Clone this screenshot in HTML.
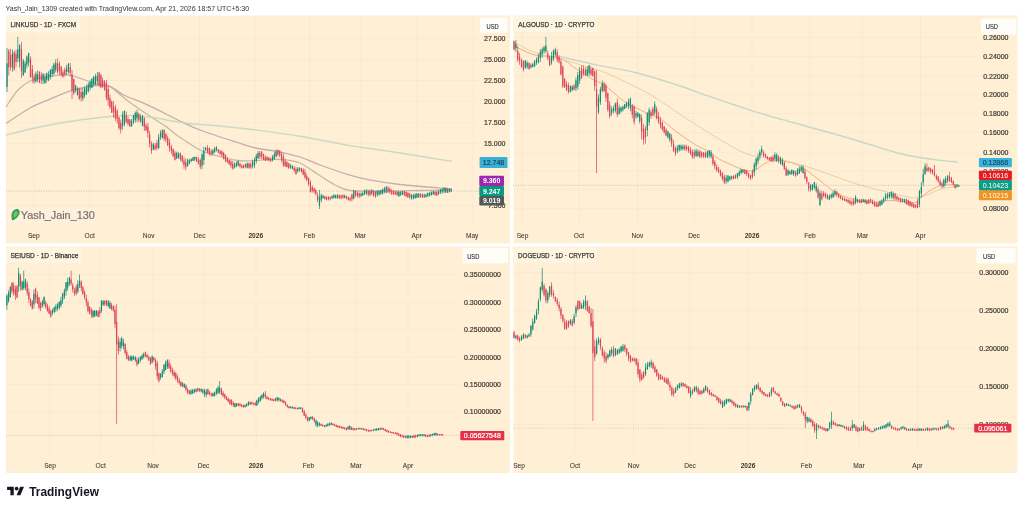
<!DOCTYPE html>
<html><head><meta charset="utf-8"><style>
html,body{margin:0;padding:0;background:#ffffff;}
body{width:1024px;height:509px;overflow:hidden;position:relative;}
svg{position:absolute;left:0;top:0;font-family:"Liberation Sans", sans-serif;filter:blur(0.3px);}
</style></head><body>
<svg width="1024" height="509" viewBox="0 0 1024 509">
<rect x="6.0" y="15.5" width="504.0" height="227.8" fill="#feefd5"/>
<rect x="513.5" y="15.5" width="504.0" height="227.8" fill="#feefd5"/>
<rect x="6.0" y="246.5" width="504.0" height="226.5" fill="#feefd5"/>
<rect x="513.5" y="246.5" width="504.0" height="226.5" fill="#feefd5"/>
<rect x="33.35" y="15.5" width="0.8" height="208.3" fill="#f8e8cf"/>
<rect x="89.35" y="15.5" width="0.8" height="208.3" fill="#f8e8cf"/>
<rect x="148.20" y="15.5" width="0.8" height="208.3" fill="#f8e8cf"/>
<rect x="199.20" y="15.5" width="0.8" height="208.3" fill="#f8e8cf"/>
<rect x="255.35" y="15.5" width="0.8" height="208.3" fill="#f8e8cf"/>
<rect x="309.00" y="15.5" width="0.8" height="208.3" fill="#f8e8cf"/>
<rect x="359.80" y="15.5" width="0.8" height="208.3" fill="#f8e8cf"/>
<rect x="416.30" y="15.5" width="0.8" height="208.3" fill="#f8e8cf"/>
<rect x="471.80" y="15.5" width="0.8" height="208.3" fill="#f8e8cf"/>
<rect x="6.0" y="38.40" width="473.0" height="0.8" fill="#f8e8cf"/>
<rect x="6.0" y="59.50" width="473.0" height="0.8" fill="#f8e8cf"/>
<rect x="6.0" y="80.10" width="473.0" height="0.8" fill="#f8e8cf"/>
<rect x="6.0" y="100.80" width="473.0" height="0.8" fill="#f8e8cf"/>
<rect x="6.0" y="121.80" width="473.0" height="0.8" fill="#f8e8cf"/>
<rect x="6.0" y="142.90" width="473.0" height="0.8" fill="#f8e8cf"/>
<rect x="6.0" y="205.50" width="473.0" height="0.8" fill="#f8e8cf"/>
<rect x="522.20" y="15.5" width="0.8" height="208.3" fill="#f8e8cf"/>
<rect x="578.60" y="15.5" width="0.8" height="208.3" fill="#f8e8cf"/>
<rect x="637.00" y="15.5" width="0.8" height="208.3" fill="#f8e8cf"/>
<rect x="693.60" y="15.5" width="0.8" height="208.3" fill="#f8e8cf"/>
<rect x="751.60" y="15.5" width="0.8" height="208.3" fill="#f8e8cf"/>
<rect x="809.60" y="15.5" width="0.8" height="208.3" fill="#f8e8cf"/>
<rect x="862.00" y="15.5" width="0.8" height="208.3" fill="#f8e8cf"/>
<rect x="920.10" y="15.5" width="0.8" height="208.3" fill="#f8e8cf"/>
<rect x="513.5" y="37.10" width="463.5" height="0.8" fill="#f8e8cf"/>
<rect x="513.5" y="55.90" width="463.5" height="0.8" fill="#f8e8cf"/>
<rect x="513.5" y="75.60" width="463.5" height="0.8" fill="#f8e8cf"/>
<rect x="513.5" y="94.50" width="463.5" height="0.8" fill="#f8e8cf"/>
<rect x="513.5" y="113.20" width="463.5" height="0.8" fill="#f8e8cf"/>
<rect x="513.5" y="132.20" width="463.5" height="0.8" fill="#f8e8cf"/>
<rect x="513.5" y="151.70" width="463.5" height="0.8" fill="#f8e8cf"/>
<rect x="513.5" y="170.60" width="463.5" height="0.8" fill="#f8e8cf"/>
<rect x="513.5" y="189.60" width="463.5" height="0.8" fill="#f8e8cf"/>
<rect x="513.5" y="208.30" width="463.5" height="0.8" fill="#f8e8cf"/>
<rect x="49.60" y="246.5" width="0.8" height="207.0" fill="#f8e8cf"/>
<rect x="100.20" y="246.5" width="0.8" height="207.0" fill="#f8e8cf"/>
<rect x="152.60" y="246.5" width="0.8" height="207.0" fill="#f8e8cf"/>
<rect x="203.10" y="246.5" width="0.8" height="207.0" fill="#f8e8cf"/>
<rect x="255.60" y="246.5" width="0.8" height="207.0" fill="#f8e8cf"/>
<rect x="308.10" y="246.5" width="0.8" height="207.0" fill="#f8e8cf"/>
<rect x="355.60" y="246.5" width="0.8" height="207.0" fill="#f8e8cf"/>
<rect x="407.60" y="246.5" width="0.8" height="207.0" fill="#f8e8cf"/>
<rect x="6.0" y="273.90" width="455.0" height="0.8" fill="#f8e8cf"/>
<rect x="6.0" y="301.90" width="455.0" height="0.8" fill="#f8e8cf"/>
<rect x="6.0" y="329.30" width="455.0" height="0.8" fill="#f8e8cf"/>
<rect x="6.0" y="356.60" width="455.0" height="0.8" fill="#f8e8cf"/>
<rect x="6.0" y="384.00" width="455.0" height="0.8" fill="#f8e8cf"/>
<rect x="6.0" y="411.50" width="455.0" height="0.8" fill="#f8e8cf"/>
<rect x="518.60" y="246.5" width="0.8" height="207.0" fill="#f8e8cf"/>
<rect x="574.60" y="246.5" width="0.8" height="207.0" fill="#f8e8cf"/>
<rect x="633.10" y="246.5" width="0.8" height="207.0" fill="#f8e8cf"/>
<rect x="689.60" y="246.5" width="0.8" height="207.0" fill="#f8e8cf"/>
<rect x="747.60" y="246.5" width="0.8" height="207.0" fill="#f8e8cf"/>
<rect x="806.10" y="246.5" width="0.8" height="207.0" fill="#f8e8cf"/>
<rect x="858.60" y="246.5" width="0.8" height="207.0" fill="#f8e8cf"/>
<rect x="917.00" y="246.5" width="0.8" height="207.0" fill="#f8e8cf"/>
<rect x="513.5" y="272.30" width="462.5" height="0.8" fill="#f8e8cf"/>
<rect x="513.5" y="310.50" width="462.5" height="0.8" fill="#f8e8cf"/>
<rect x="513.5" y="348.10" width="462.5" height="0.8" fill="#f8e8cf"/>
<rect x="513.5" y="386.40" width="462.5" height="0.8" fill="#f8e8cf"/>
<rect x="513.5" y="424.20" width="462.5" height="0.8" fill="#f8e8cf"/>
<path d="M6.00 107.00 C8.00 104.17 13.83 94.42 18.00 90.00 C22.17 85.58 26.50 82.67 31.00 80.50 C35.50 78.33 40.17 77.92 45.00 77.00 C49.83 76.08 55.50 75.23 60.00 75.00 C64.50 74.77 67.83 74.77 72.00 75.60 C76.17 76.43 80.33 78.43 85.00 80.00 C89.67 81.57 95.93 83.92 100.00 85.00 C104.07 86.08 106.45 85.22 109.40 86.50 C112.35 87.78 114.37 90.10 117.70 92.70 C121.03 95.30 124.35 98.38 129.40 102.10 C134.45 105.82 142.10 111.08 148.00 115.00 C153.90 118.92 160.03 122.27 164.80 125.60 C169.57 128.93 170.40 130.77 176.60 135.00 C182.80 139.23 194.77 147.42 202.00 151.00 C209.23 154.58 214.08 154.92 220.00 156.50 C225.92 158.08 231.50 159.83 237.50 160.50 C243.50 161.17 250.58 160.70 256.00 160.50 C261.42 160.30 265.17 159.42 270.00 159.30 C274.83 159.18 280.00 159.18 285.00 159.80 C290.00 160.42 294.40 160.50 300.00 163.00 C305.60 165.50 312.77 171.13 318.60 174.80 C324.43 178.47 329.77 182.38 335.00 185.00 C340.23 187.62 342.50 189.50 350.00 190.50 C357.50 191.50 368.33 191.00 380.00 191.00 C391.67 191.00 408.00 190.67 420.00 190.50 C432.00 190.33 446.67 190.08 452.00 190.00" fill="none" stroke="#b0a294" stroke-width="1.30" opacity="0.70"/>
<path d="M6.00 123.50 C10.00 120.92 22.67 112.05 30.00 108.00 C37.33 103.95 43.00 102.13 50.00 99.20 C57.00 96.27 64.50 92.68 72.00 90.40 C79.50 88.12 88.77 86.23 95.00 85.50 C101.23 84.77 104.63 84.42 109.40 86.00 C114.17 87.58 118.30 92.32 123.60 95.00 C128.90 97.68 135.32 99.55 141.20 102.10 C147.08 104.65 152.43 107.15 158.90 110.30 C165.37 113.45 172.82 117.59 180.00 121.00 C187.18 124.41 192.42 127.17 202.00 130.75 C211.58 134.33 228.50 139.62 237.50 142.50 C246.50 145.38 249.08 146.45 256.00 148.00 C262.92 149.55 271.67 150.30 279.00 151.80 C286.33 153.30 293.17 154.80 300.00 157.00 C306.83 159.20 311.67 161.97 320.00 165.00 C328.33 168.03 342.00 172.75 350.00 175.20 C358.00 177.65 359.67 178.15 368.00 179.70 C376.33 181.25 386.00 182.95 400.00 184.50 C414.00 186.05 443.33 188.25 452.00 189.00" fill="none" stroke="#b08fa2" stroke-width="1.30" opacity="0.70"/>
<path d="M6.00 135.00 C10.00 134.00 21.83 130.83 30.00 129.00 C38.17 127.17 46.67 125.50 55.00 124.00 C63.33 122.50 70.83 121.25 80.00 120.00 C89.17 118.75 101.67 117.25 110.00 116.50 C118.33 115.75 123.17 115.37 130.00 115.50 C136.83 115.63 141.83 116.05 151.00 117.30 C160.17 118.55 173.50 121.55 185.00 123.00 C196.50 124.45 209.50 125.00 220.00 126.00 C230.50 127.00 234.67 127.30 248.00 129.00 C261.33 130.70 283.00 133.43 300.00 136.20 C317.00 138.97 338.67 143.58 350.00 145.60 C361.33 147.62 359.67 147.07 368.00 148.30 C376.33 149.53 386.00 150.82 400.00 153.00 C414.00 155.18 443.33 160.00 452.00 161.40" fill="none" stroke="#c2d6c2" stroke-width="1.40" opacity="0.85"/>
<path d="M514.00 46.00 C517.50 47.50 527.53 53.08 535.00 55.00 C542.47 56.92 552.13 55.33 558.80 57.50 C565.47 59.67 569.80 64.58 575.00 68.00 C580.20 71.42 584.92 75.03 590.00 78.00 C595.08 80.97 599.93 81.98 605.50 85.80 C611.07 89.62 617.43 96.78 623.40 100.90 C629.37 105.02 634.88 107.32 641.30 110.50 C647.72 113.68 656.28 116.63 661.90 120.00 C667.52 123.37 669.48 126.62 675.00 130.70 C680.52 134.78 689.08 140.90 695.00 144.50 C700.92 148.10 706.40 149.83 710.50 152.30 C714.60 154.77 713.18 156.18 719.60 159.30 C726.02 162.42 741.47 170.30 749.00 171.00 C756.53 171.70 760.52 165.33 764.80 163.50 C769.08 161.67 769.17 159.75 774.70 160.00 C780.23 160.25 790.78 161.83 798.00 165.00 C805.22 168.17 811.07 174.05 818.00 179.00 C824.93 183.95 831.10 190.78 839.60 194.70 C848.10 198.62 860.80 201.53 869.00 202.50 C877.20 203.47 881.25 200.50 888.80 200.50 C896.35 200.50 909.10 202.92 914.30 202.50 C919.50 202.08 917.22 200.08 920.00 198.00 C922.78 195.92 927.33 192.08 931.00 190.00 C934.67 187.92 937.50 186.42 942.00 185.50 C946.50 184.58 955.33 184.67 958.00 184.50" fill="none" stroke="#e9a46e" stroke-width="1.00" opacity="0.85"/>
<path d="M515.00 42.40 C517.50 43.77 525.00 48.43 530.00 50.60 C535.00 52.77 540.00 54.02 545.00 55.40 C550.00 56.78 555.00 57.63 560.00 58.90 C565.00 60.17 570.00 61.40 575.00 63.00 C580.00 64.60 585.83 67.23 590.00 68.50 C594.17 69.77 594.90 68.75 600.00 70.60 C605.10 72.45 612.93 75.98 620.60 79.60 C628.27 83.22 638.60 88.23 646.00 92.30 C653.40 96.37 658.92 100.05 665.00 104.00 C671.08 107.95 673.60 110.23 682.50 116.00 C691.40 121.77 707.48 132.22 718.40 138.60 C729.32 144.98 737.97 150.85 748.00 154.30 C758.03 157.75 769.60 157.48 778.60 159.30 C787.60 161.12 794.15 162.92 802.00 165.20 C809.85 167.48 816.15 169.73 825.70 173.00 C835.25 176.27 847.15 181.18 859.30 184.80 C871.45 188.42 888.82 192.57 898.60 194.70 C908.38 196.83 910.77 198.60 918.00 197.60 C925.23 196.60 935.33 190.47 942.00 188.70 C948.67 186.93 955.33 187.28 958.00 187.00" fill="none" stroke="#ebc9a0" stroke-width="1.00" opacity="0.90"/>
<path d="M560.00 56.60 C566.50 58.07 586.00 62.63 599.00 65.40 C612.00 68.17 625.00 69.93 638.00 73.20 C651.00 76.47 664.00 80.77 677.00 85.00 C690.00 89.23 702.17 93.90 716.00 98.60 C729.83 103.30 746.00 108.88 760.00 113.20 C774.00 117.52 785.00 120.28 800.00 124.50 C815.00 128.72 834.00 133.83 850.00 138.50 C866.00 143.17 884.33 149.33 896.00 152.50 C907.67 155.67 912.67 156.18 920.00 157.50 C927.33 158.82 933.67 159.65 940.00 160.40 C946.33 161.15 955.00 161.73 958.00 162.00" fill="none" stroke="#c0d6c6" stroke-width="1.40" opacity="0.90"/>
<rect x="6.65" y="48.00" width="0.70" height="44.00" fill="#138a72"/>
<rect x="6.40" y="63.39" width="1.20" height="23.52" fill="#138a72"/>
<rect x="8.46" y="49.13" width="0.70" height="26.42" fill="#dc4255"/>
<rect x="8.21" y="50.71" width="1.20" height="16.59" fill="#dc4255"/>
<rect x="10.26" y="48.89" width="0.70" height="21.75" fill="#dc4255"/>
<rect x="10.01" y="54.81" width="1.20" height="12.22" fill="#dc4255"/>
<rect x="12.07" y="49.35" width="0.70" height="22.32" fill="#138a72"/>
<rect x="11.82" y="53.66" width="1.20" height="13.95" fill="#138a72"/>
<rect x="13.87" y="51.03" width="0.70" height="19.75" fill="#dc4255"/>
<rect x="13.62" y="52.38" width="1.20" height="16.79" fill="#dc4255"/>
<rect x="15.68" y="49.82" width="0.70" height="17.35" fill="#dc4255"/>
<rect x="15.43" y="53.81" width="1.20" height="8.23" fill="#dc4255"/>
<rect x="17.49" y="36.80" width="0.70" height="25.42" fill="#138a72"/>
<rect x="17.24" y="49.26" width="1.20" height="9.18" fill="#138a72"/>
<rect x="19.29" y="44.19" width="0.70" height="23.34" fill="#138a72"/>
<rect x="19.04" y="45.15" width="1.20" height="16.54" fill="#138a72"/>
<rect x="21.10" y="42.00" width="0.70" height="36.00" fill="#dc4255"/>
<rect x="20.85" y="48.91" width="1.20" height="22.31" fill="#dc4255"/>
<rect x="22.90" y="58.95" width="0.70" height="17.05" fill="#138a72"/>
<rect x="22.65" y="60.71" width="1.20" height="14.39" fill="#138a72"/>
<rect x="24.71" y="60.82" width="0.70" height="12.35" fill="#138a72"/>
<rect x="24.46" y="63.45" width="1.20" height="8.90" fill="#138a72"/>
<rect x="26.52" y="55.40" width="0.70" height="12.96" fill="#138a72"/>
<rect x="26.27" y="56.61" width="1.20" height="8.11" fill="#138a72"/>
<rect x="28.32" y="52.49" width="0.70" height="13.84" fill="#138a72"/>
<rect x="28.07" y="53.13" width="1.20" height="9.45" fill="#138a72"/>
<rect x="30.13" y="56.43" width="0.70" height="21.39" fill="#dc4255"/>
<rect x="29.88" y="58.80" width="1.20" height="18.15" fill="#dc4255"/>
<rect x="31.93" y="64.85" width="0.70" height="18.01" fill="#dc4255"/>
<rect x="31.68" y="69.23" width="1.20" height="8.41" fill="#dc4255"/>
<rect x="33.74" y="73.88" width="0.70" height="10.06" fill="#dc4255"/>
<rect x="33.49" y="76.64" width="1.20" height="4.79" fill="#dc4255"/>
<rect x="35.55" y="71.47" width="0.70" height="11.26" fill="#138a72"/>
<rect x="35.30" y="73.83" width="1.20" height="7.50" fill="#138a72"/>
<rect x="37.35" y="70.35" width="0.70" height="12.00" fill="#138a72"/>
<rect x="37.10" y="74.38" width="1.20" height="5.12" fill="#138a72"/>
<rect x="39.16" y="71.25" width="0.70" height="12.00" fill="#dc4255"/>
<rect x="38.91" y="71.90" width="1.20" height="10.65" fill="#dc4255"/>
<rect x="40.96" y="72.16" width="0.70" height="11.84" fill="#dc4255"/>
<rect x="40.71" y="74.95" width="1.20" height="5.19" fill="#dc4255"/>
<rect x="42.77" y="73.06" width="0.70" height="10.94" fill="#138a72"/>
<rect x="42.52" y="74.02" width="1.20" height="6.61" fill="#138a72"/>
<rect x="44.58" y="73.96" width="0.70" height="10.04" fill="#138a72"/>
<rect x="44.33" y="77.13" width="1.20" height="5.84" fill="#138a72"/>
<rect x="46.38" y="72.61" width="0.70" height="10.00" fill="#138a72"/>
<rect x="46.13" y="73.20" width="1.20" height="6.62" fill="#138a72"/>
<rect x="48.19" y="71.17" width="0.70" height="10.00" fill="#138a72"/>
<rect x="47.94" y="73.83" width="1.20" height="6.48" fill="#138a72"/>
<rect x="49.99" y="69.31" width="0.70" height="10.23" fill="#138a72"/>
<rect x="49.74" y="69.79" width="1.20" height="7.31" fill="#138a72"/>
<rect x="51.80" y="65.70" width="0.70" height="11.43" fill="#138a72"/>
<rect x="51.55" y="68.93" width="1.20" height="5.20" fill="#138a72"/>
<rect x="53.61" y="62.41" width="0.70" height="12.32" fill="#138a72"/>
<rect x="53.36" y="64.56" width="1.20" height="9.21" fill="#138a72"/>
<rect x="55.41" y="59.40" width="0.70" height="12.92" fill="#138a72"/>
<rect x="55.16" y="63.19" width="1.20" height="6.65" fill="#138a72"/>
<rect x="57.22" y="58.22" width="0.70" height="15.35" fill="#dc4255"/>
<rect x="56.97" y="63.26" width="1.20" height="8.97" fill="#dc4255"/>
<rect x="59.02" y="61.30" width="0.70" height="13.80" fill="#dc4255"/>
<rect x="58.77" y="63.57" width="1.20" height="7.34" fill="#dc4255"/>
<rect x="60.83" y="65.63" width="0.70" height="10.91" fill="#dc4255"/>
<rect x="60.58" y="66.85" width="1.20" height="7.73" fill="#dc4255"/>
<rect x="62.64" y="69.97" width="0.70" height="8.02" fill="#dc4255"/>
<rect x="62.39" y="72.46" width="1.20" height="3.95" fill="#dc4255"/>
<rect x="64.44" y="67.49" width="0.70" height="9.08" fill="#dc4255"/>
<rect x="64.19" y="69.65" width="1.20" height="4.92" fill="#dc4255"/>
<rect x="66.25" y="64.96" width="0.70" height="10.16" fill="#138a72"/>
<rect x="66.00" y="68.19" width="1.20" height="3.80" fill="#138a72"/>
<rect x="68.05" y="62.80" width="0.70" height="11.20" fill="#138a72"/>
<rect x="67.80" y="63.79" width="1.20" height="8.09" fill="#138a72"/>
<rect x="69.86" y="63.05" width="0.70" height="13.44" fill="#dc4255"/>
<rect x="69.61" y="67.25" width="1.20" height="5.48" fill="#dc4255"/>
<rect x="71.67" y="70.00" width="0.70" height="29.00" fill="#dc4255"/>
<rect x="71.42" y="74.52" width="1.20" height="16.21" fill="#dc4255"/>
<rect x="73.47" y="78.38" width="0.70" height="16.73" fill="#dc4255"/>
<rect x="73.22" y="79.14" width="1.20" height="14.15" fill="#dc4255"/>
<rect x="75.28" y="84.70" width="0.70" height="7.83" fill="#138a72"/>
<rect x="75.03" y="85.61" width="1.20" height="4.71" fill="#138a72"/>
<rect x="77.08" y="86.72" width="0.70" height="8.72" fill="#138a72"/>
<rect x="76.83" y="88.35" width="1.20" height="6.66" fill="#138a72"/>
<rect x="78.89" y="87.62" width="0.70" height="12.16" fill="#dc4255"/>
<rect x="78.64" y="88.92" width="1.20" height="9.96" fill="#dc4255"/>
<rect x="80.70" y="88.00" width="0.70" height="13.39" fill="#dc4255"/>
<rect x="80.45" y="92.09" width="1.20" height="5.49" fill="#dc4255"/>
<rect x="82.50" y="88.00" width="0.70" height="13.03" fill="#138a72"/>
<rect x="82.25" y="91.89" width="1.20" height="6.63" fill="#138a72"/>
<rect x="84.31" y="86.34" width="0.70" height="11.76" fill="#138a72"/>
<rect x="84.06" y="88.41" width="1.20" height="7.05" fill="#138a72"/>
<rect x="86.11" y="84.54" width="0.70" height="10.40" fill="#138a72"/>
<rect x="85.86" y="87.71" width="1.20" height="6.27" fill="#138a72"/>
<rect x="87.92" y="82.48" width="0.70" height="10.00" fill="#138a72"/>
<rect x="87.67" y="84.45" width="1.20" height="7.07" fill="#138a72"/>
<rect x="89.73" y="80.31" width="0.70" height="10.00" fill="#138a72"/>
<rect x="89.48" y="82.19" width="1.20" height="5.46" fill="#138a72"/>
<rect x="91.53" y="78.14" width="0.70" height="10.00" fill="#138a72"/>
<rect x="91.28" y="78.74" width="1.20" height="8.93" fill="#138a72"/>
<rect x="93.34" y="75.97" width="0.70" height="10.68" fill="#138a72"/>
<rect x="93.09" y="76.77" width="1.20" height="7.84" fill="#138a72"/>
<rect x="95.14" y="73.81" width="0.70" height="11.40" fill="#138a72"/>
<rect x="94.89" y="76.14" width="1.20" height="8.24" fill="#138a72"/>
<rect x="96.95" y="72.00" width="0.70" height="12.40" fill="#138a72"/>
<rect x="96.70" y="75.71" width="1.20" height="5.30" fill="#138a72"/>
<rect x="98.76" y="72.00" width="0.70" height="14.81" fill="#dc4255"/>
<rect x="98.51" y="72.70" width="1.20" height="12.14" fill="#dc4255"/>
<rect x="100.56" y="73.82" width="0.70" height="14.18" fill="#dc4255"/>
<rect x="100.31" y="75.07" width="1.20" height="12.22" fill="#dc4255"/>
<rect x="102.37" y="77.44" width="0.70" height="10.56" fill="#dc4255"/>
<rect x="102.12" y="80.52" width="1.20" height="5.87" fill="#dc4255"/>
<rect x="104.17" y="80.00" width="0.70" height="10.72" fill="#dc4255"/>
<rect x="103.92" y="81.65" width="1.20" height="8.12" fill="#dc4255"/>
<rect x="105.98" y="80.00" width="0.70" height="20.12" fill="#dc4255"/>
<rect x="105.73" y="82.84" width="1.20" height="14.58" fill="#dc4255"/>
<rect x="107.79" y="85.68" width="0.70" height="20.02" fill="#dc4255"/>
<rect x="107.54" y="88.99" width="1.20" height="11.18" fill="#dc4255"/>
<rect x="109.59" y="94.71" width="0.70" height="14.33" fill="#dc4255"/>
<rect x="109.34" y="98.11" width="1.20" height="8.88" fill="#dc4255"/>
<rect x="111.40" y="100.40" width="0.70" height="12.60" fill="#dc4255"/>
<rect x="111.15" y="101.32" width="1.20" height="11.15" fill="#dc4255"/>
<rect x="113.20" y="101.36" width="0.70" height="16.45" fill="#dc4255"/>
<rect x="112.95" y="106.39" width="1.20" height="6.20" fill="#dc4255"/>
<rect x="115.01" y="104.80" width="0.70" height="16.24" fill="#dc4255"/>
<rect x="114.76" y="107.28" width="1.20" height="10.73" fill="#dc4255"/>
<rect x="116.82" y="109.04" width="0.70" height="14.71" fill="#dc4255"/>
<rect x="116.57" y="110.71" width="1.20" height="8.10" fill="#dc4255"/>
<rect x="118.62" y="116.83" width="0.70" height="13.03" fill="#dc4255"/>
<rect x="118.37" y="117.58" width="1.20" height="10.60" fill="#dc4255"/>
<rect x="120.43" y="119.50" width="0.70" height="13.95" fill="#dc4255"/>
<rect x="120.18" y="122.86" width="1.20" height="6.37" fill="#dc4255"/>
<rect x="122.23" y="111.37" width="0.70" height="18.46" fill="#138a72"/>
<rect x="121.98" y="114.55" width="1.20" height="11.69" fill="#138a72"/>
<rect x="124.04" y="110.19" width="0.70" height="16.03" fill="#138a72"/>
<rect x="123.79" y="111.08" width="1.20" height="13.10" fill="#138a72"/>
<rect x="125.85" y="111.52" width="0.70" height="11.74" fill="#dc4255"/>
<rect x="125.60" y="115.19" width="1.20" height="6.62" fill="#dc4255"/>
<rect x="127.65" y="116.34" width="0.70" height="9.33" fill="#dc4255"/>
<rect x="127.40" y="119.11" width="1.20" height="4.65" fill="#dc4255"/>
<rect x="129.46" y="119.00" width="0.70" height="8.00" fill="#dc4255"/>
<rect x="129.21" y="119.72" width="1.20" height="6.35" fill="#dc4255"/>
<rect x="131.26" y="119.00" width="0.70" height="8.00" fill="#138a72"/>
<rect x="131.01" y="121.28" width="1.20" height="4.90" fill="#138a72"/>
<rect x="133.07" y="114.74" width="0.70" height="9.42" fill="#138a72"/>
<rect x="132.82" y="115.21" width="1.20" height="7.12" fill="#138a72"/>
<rect x="134.88" y="111.57" width="0.70" height="11.02" fill="#138a72"/>
<rect x="134.63" y="112.99" width="1.20" height="7.09" fill="#138a72"/>
<rect x="136.68" y="109.56" width="0.70" height="12.44" fill="#138a72"/>
<rect x="136.43" y="112.29" width="1.20" height="6.03" fill="#138a72"/>
<rect x="138.49" y="112.72" width="0.70" height="9.28" fill="#dc4255"/>
<rect x="138.24" y="114.19" width="1.20" height="5.85" fill="#dc4255"/>
<rect x="140.29" y="114.26" width="0.70" height="8.37" fill="#138a72"/>
<rect x="140.04" y="116.99" width="1.20" height="4.50" fill="#138a72"/>
<rect x="142.10" y="115.00" width="0.70" height="11.40" fill="#138a72"/>
<rect x="141.85" y="115.84" width="1.20" height="9.77" fill="#138a72"/>
<rect x="143.91" y="117.26" width="0.70" height="13.74" fill="#dc4255"/>
<rect x="143.66" y="118.20" width="1.20" height="8.81" fill="#dc4255"/>
<rect x="145.71" y="123.49" width="0.70" height="7.51" fill="#dc4255"/>
<rect x="145.46" y="125.34" width="1.20" height="4.90" fill="#dc4255"/>
<rect x="147.52" y="122.95" width="0.70" height="14.89" fill="#dc4255"/>
<rect x="147.27" y="126.80" width="1.20" height="6.08" fill="#dc4255"/>
<rect x="149.32" y="130.92" width="0.70" height="16.65" fill="#dc4255"/>
<rect x="149.07" y="134.70" width="1.20" height="9.40" fill="#dc4255"/>
<rect x="151.13" y="141.32" width="0.70" height="12.72" fill="#dc4255"/>
<rect x="150.88" y="143.72" width="1.20" height="6.89" fill="#dc4255"/>
<rect x="152.94" y="142.52" width="0.70" height="7.90" fill="#138a72"/>
<rect x="152.69" y="144.12" width="1.20" height="5.27" fill="#138a72"/>
<rect x="154.74" y="143.00" width="0.70" height="7.09" fill="#dc4255"/>
<rect x="154.49" y="145.35" width="1.20" height="3.82" fill="#dc4255"/>
<rect x="156.55" y="140.01" width="0.70" height="10.39" fill="#dc4255"/>
<rect x="156.30" y="142.74" width="1.20" height="5.13" fill="#dc4255"/>
<rect x="158.35" y="133.99" width="0.70" height="15.21" fill="#138a72"/>
<rect x="158.10" y="137.19" width="1.20" height="10.82" fill="#138a72"/>
<rect x="160.16" y="129.98" width="0.70" height="9.96" fill="#138a72"/>
<rect x="159.91" y="133.18" width="1.20" height="3.93" fill="#138a72"/>
<rect x="161.97" y="129.00" width="0.70" height="9.75" fill="#138a72"/>
<rect x="161.72" y="130.93" width="1.20" height="6.57" fill="#138a72"/>
<rect x="163.77" y="129.24" width="0.70" height="11.84" fill="#dc4255"/>
<rect x="163.52" y="130.00" width="1.20" height="8.54" fill="#dc4255"/>
<rect x="165.58" y="132.86" width="0.70" height="9.43" fill="#dc4255"/>
<rect x="165.33" y="134.17" width="1.20" height="5.41" fill="#dc4255"/>
<rect x="167.38" y="135.73" width="0.70" height="10.20" fill="#dc4255"/>
<rect x="167.13" y="138.20" width="1.20" height="7.28" fill="#dc4255"/>
<rect x="169.19" y="138.80" width="0.70" height="12.92" fill="#dc4255"/>
<rect x="168.94" y="142.50" width="1.20" height="6.08" fill="#dc4255"/>
<rect x="171.00" y="144.82" width="0.70" height="9.31" fill="#dc4255"/>
<rect x="170.75" y="146.88" width="1.20" height="4.21" fill="#dc4255"/>
<rect x="172.80" y="148.54" width="0.70" height="8.58" fill="#dc4255"/>
<rect x="172.55" y="149.19" width="1.20" height="6.94" fill="#dc4255"/>
<rect x="174.61" y="150.94" width="0.70" height="9.48" fill="#dc4255"/>
<rect x="174.36" y="152.77" width="1.20" height="7.07" fill="#dc4255"/>
<rect x="176.41" y="151.59" width="0.70" height="7.44" fill="#138a72"/>
<rect x="176.16" y="152.95" width="1.20" height="5.53" fill="#138a72"/>
<rect x="178.22" y="152.00" width="0.70" height="6.71" fill="#138a72"/>
<rect x="177.97" y="153.76" width="1.20" height="3.83" fill="#138a72"/>
<rect x="180.03" y="152.56" width="0.70" height="8.31" fill="#dc4255"/>
<rect x="179.78" y="153.31" width="1.20" height="6.03" fill="#dc4255"/>
<rect x="181.83" y="155.22" width="0.70" height="7.86" fill="#dc4255"/>
<rect x="181.58" y="155.67" width="1.20" height="5.54" fill="#dc4255"/>
<rect x="183.64" y="157.39" width="0.70" height="11.41" fill="#dc4255"/>
<rect x="183.39" y="160.69" width="1.20" height="4.46" fill="#dc4255"/>
<rect x="185.44" y="158.60" width="0.70" height="11.81" fill="#dc4255"/>
<rect x="185.19" y="162.46" width="1.20" height="4.78" fill="#dc4255"/>
<rect x="187.25" y="158.60" width="0.70" height="8.20" fill="#138a72"/>
<rect x="187.00" y="159.98" width="1.20" height="6.09" fill="#138a72"/>
<rect x="189.06" y="158.60" width="0.70" height="5.58" fill="#138a72"/>
<rect x="188.81" y="160.18" width="1.20" height="3.59" fill="#138a72"/>
<rect x="190.86" y="158.26" width="0.70" height="3.90" fill="#138a72"/>
<rect x="190.61" y="159.32" width="1.20" height="1.78" fill="#138a72"/>
<rect x="192.67" y="157.05" width="0.70" height="3.90" fill="#138a72"/>
<rect x="192.42" y="157.38" width="1.20" height="3.38" fill="#138a72"/>
<rect x="194.47" y="156.60" width="0.70" height="4.48" fill="#138a72"/>
<rect x="194.22" y="157.06" width="1.20" height="2.56" fill="#138a72"/>
<rect x="196.28" y="156.60" width="0.70" height="5.40" fill="#dc4255"/>
<rect x="196.03" y="157.24" width="1.20" height="4.25" fill="#dc4255"/>
<rect x="198.09" y="157.18" width="0.70" height="7.49" fill="#dc4255"/>
<rect x="197.84" y="159.52" width="1.20" height="4.07" fill="#dc4255"/>
<rect x="199.89" y="158.42" width="0.70" height="10.91" fill="#dc4255"/>
<rect x="199.64" y="160.04" width="1.20" height="7.13" fill="#dc4255"/>
<rect x="201.70" y="152.61" width="0.70" height="16.35" fill="#138a72"/>
<rect x="201.45" y="154.53" width="1.20" height="11.06" fill="#138a72"/>
<rect x="203.50" y="147.00" width="0.70" height="17.99" fill="#138a72"/>
<rect x="203.25" y="150.93" width="1.20" height="9.14" fill="#138a72"/>
<rect x="205.31" y="146.83" width="0.70" height="4.34" fill="#138a72"/>
<rect x="205.06" y="147.84" width="1.20" height="1.95" fill="#138a72"/>
<rect x="207.12" y="145.09" width="0.70" height="7.99" fill="#dc4255"/>
<rect x="206.87" y="147.68" width="1.20" height="4.62" fill="#dc4255"/>
<rect x="208.92" y="147.50" width="0.70" height="7.75" fill="#dc4255"/>
<rect x="208.67" y="147.95" width="1.20" height="5.83" fill="#dc4255"/>
<rect x="210.73" y="149.00" width="0.70" height="7.18" fill="#dc4255"/>
<rect x="210.48" y="151.17" width="1.20" height="2.65" fill="#dc4255"/>
<rect x="212.53" y="149.00" width="0.70" height="6.07" fill="#138a72"/>
<rect x="212.28" y="150.37" width="1.20" height="3.29" fill="#138a72"/>
<rect x="214.34" y="146.75" width="0.70" height="6.00" fill="#138a72"/>
<rect x="214.09" y="148.17" width="1.20" height="4.09" fill="#138a72"/>
<rect x="216.15" y="145.99" width="0.70" height="5.50" fill="#138a72"/>
<rect x="215.90" y="147.27" width="1.20" height="2.88" fill="#138a72"/>
<rect x="217.95" y="149.10" width="0.70" height="4.10" fill="#dc4255"/>
<rect x="217.70" y="149.39" width="1.20" height="3.35" fill="#dc4255"/>
<rect x="219.76" y="149.70" width="0.70" height="4.70" fill="#dc4255"/>
<rect x="219.51" y="151.12" width="1.20" height="3.10" fill="#dc4255"/>
<rect x="221.56" y="150.46" width="0.70" height="6.19" fill="#dc4255"/>
<rect x="221.31" y="151.45" width="1.20" height="3.75" fill="#dc4255"/>
<rect x="223.37" y="151.96" width="0.70" height="7.58" fill="#dc4255"/>
<rect x="223.12" y="152.97" width="1.20" height="5.63" fill="#dc4255"/>
<rect x="225.18" y="154.37" width="0.70" height="7.52" fill="#dc4255"/>
<rect x="224.93" y="155.05" width="1.20" height="6.51" fill="#dc4255"/>
<rect x="226.98" y="157.00" width="0.70" height="6.39" fill="#dc4255"/>
<rect x="226.73" y="158.30" width="1.20" height="3.76" fill="#dc4255"/>
<rect x="228.79" y="159.55" width="0.70" height="5.21" fill="#dc4255"/>
<rect x="228.54" y="160.07" width="1.20" height="4.14" fill="#dc4255"/>
<rect x="230.59" y="160.15" width="0.70" height="7.92" fill="#dc4255"/>
<rect x="230.34" y="161.70" width="1.20" height="4.01" fill="#dc4255"/>
<rect x="232.40" y="161.00" width="0.70" height="8.60" fill="#dc4255"/>
<rect x="232.15" y="163.68" width="1.20" height="4.87" fill="#dc4255"/>
<rect x="234.21" y="162.20" width="0.70" height="6.43" fill="#138a72"/>
<rect x="233.96" y="164.28" width="1.20" height="3.09" fill="#138a72"/>
<rect x="236.01" y="161.59" width="0.70" height="5.90" fill="#138a72"/>
<rect x="235.76" y="162.99" width="1.20" height="3.09" fill="#138a72"/>
<rect x="237.82" y="160.72" width="0.70" height="5.79" fill="#138a72"/>
<rect x="237.57" y="161.03" width="1.20" height="4.15" fill="#138a72"/>
<rect x="239.62" y="163.13" width="0.70" height="4.58" fill="#dc4255"/>
<rect x="239.37" y="163.66" width="1.20" height="2.80" fill="#dc4255"/>
<rect x="241.43" y="164.50" width="0.70" height="3.90" fill="#dc4255"/>
<rect x="241.18" y="165.66" width="1.20" height="2.46" fill="#dc4255"/>
<rect x="243.24" y="164.50" width="0.70" height="3.90" fill="#dc4255"/>
<rect x="242.99" y="165.13" width="1.20" height="2.54" fill="#dc4255"/>
<rect x="245.04" y="163.57" width="0.70" height="4.83" fill="#dc4255"/>
<rect x="244.79" y="163.91" width="1.20" height="3.28" fill="#dc4255"/>
<rect x="246.85" y="162.53" width="0.70" height="5.91" fill="#138a72"/>
<rect x="246.60" y="163.36" width="1.20" height="4.30" fill="#138a72"/>
<rect x="248.65" y="162.83" width="0.70" height="5.97" fill="#dc4255"/>
<rect x="248.40" y="163.28" width="1.20" height="4.44" fill="#dc4255"/>
<rect x="250.46" y="161.97" width="0.70" height="6.86" fill="#dc4255"/>
<rect x="250.21" y="164.23" width="1.20" height="3.25" fill="#dc4255"/>
<rect x="252.27" y="159.66" width="0.70" height="8.78" fill="#138a72"/>
<rect x="252.02" y="162.08" width="1.20" height="3.67" fill="#138a72"/>
<rect x="254.07" y="157.35" width="0.70" height="10.70" fill="#138a72"/>
<rect x="253.82" y="160.56" width="1.20" height="5.02" fill="#138a72"/>
<rect x="255.88" y="153.94" width="0.70" height="9.47" fill="#138a72"/>
<rect x="255.63" y="155.88" width="1.20" height="5.18" fill="#138a72"/>
<rect x="257.68" y="151.00" width="0.70" height="8.00" fill="#138a72"/>
<rect x="257.43" y="153.11" width="1.20" height="4.96" fill="#138a72"/>
<rect x="259.49" y="151.00" width="0.70" height="8.00" fill="#dc4255"/>
<rect x="259.24" y="152.92" width="1.20" height="3.78" fill="#dc4255"/>
<rect x="261.30" y="151.06" width="0.70" height="7.97" fill="#dc4255"/>
<rect x="261.05" y="151.48" width="1.20" height="4.94" fill="#dc4255"/>
<rect x="263.10" y="153.47" width="0.70" height="6.77" fill="#dc4255"/>
<rect x="262.85" y="154.15" width="1.20" height="5.48" fill="#dc4255"/>
<rect x="264.91" y="155.34" width="0.70" height="5.66" fill="#dc4255"/>
<rect x="264.66" y="156.66" width="1.20" height="3.96" fill="#dc4255"/>
<rect x="266.71" y="156.26" width="0.70" height="4.74" fill="#dc4255"/>
<rect x="266.46" y="157.17" width="1.20" height="2.63" fill="#dc4255"/>
<rect x="268.52" y="157.13" width="0.70" height="4.00" fill="#dc4255"/>
<rect x="268.27" y="157.60" width="1.20" height="2.87" fill="#dc4255"/>
<rect x="270.33" y="157.75" width="0.70" height="4.00" fill="#dc4255"/>
<rect x="270.08" y="159.04" width="1.20" height="2.49" fill="#dc4255"/>
<rect x="272.13" y="155.29" width="0.70" height="6.16" fill="#138a72"/>
<rect x="271.88" y="156.36" width="1.20" height="4.05" fill="#138a72"/>
<rect x="273.94" y="151.78" width="0.70" height="8.00" fill="#138a72"/>
<rect x="273.69" y="154.07" width="1.20" height="4.95" fill="#138a72"/>
<rect x="275.74" y="149.28" width="0.70" height="8.00" fill="#138a72"/>
<rect x="275.49" y="151.83" width="1.20" height="4.53" fill="#138a72"/>
<rect x="277.55" y="149.53" width="0.70" height="6.93" fill="#dc4255"/>
<rect x="277.30" y="150.15" width="1.20" height="4.51" fill="#dc4255"/>
<rect x="279.36" y="150.31" width="0.70" height="6.83" fill="#dc4255"/>
<rect x="279.11" y="150.68" width="1.20" height="4.63" fill="#dc4255"/>
<rect x="281.16" y="151.70" width="0.70" height="10.54" fill="#dc4255"/>
<rect x="280.91" y="154.07" width="1.20" height="5.42" fill="#dc4255"/>
<rect x="282.97" y="153.34" width="0.70" height="13.66" fill="#dc4255"/>
<rect x="282.72" y="156.69" width="1.20" height="8.06" fill="#dc4255"/>
<rect x="284.77" y="158.50" width="0.70" height="8.50" fill="#dc4255"/>
<rect x="284.52" y="161.06" width="1.20" height="4.97" fill="#dc4255"/>
<rect x="286.58" y="161.62" width="0.70" height="6.00" fill="#dc4255"/>
<rect x="286.33" y="161.92" width="1.20" height="5.06" fill="#dc4255"/>
<rect x="288.39" y="162.82" width="0.70" height="6.00" fill="#dc4255"/>
<rect x="288.14" y="163.33" width="1.20" height="4.79" fill="#dc4255"/>
<rect x="290.19" y="164.03" width="0.70" height="4.97" fill="#138a72"/>
<rect x="289.94" y="165.12" width="1.20" height="2.22" fill="#138a72"/>
<rect x="292.00" y="165.17" width="0.70" height="4.35" fill="#138a72"/>
<rect x="291.75" y="165.95" width="1.20" height="2.49" fill="#138a72"/>
<rect x="293.80" y="166.08" width="0.70" height="6.15" fill="#dc4255"/>
<rect x="293.55" y="167.91" width="1.20" height="2.49" fill="#dc4255"/>
<rect x="295.61" y="166.98" width="0.70" height="7.96" fill="#dc4255"/>
<rect x="295.36" y="169.02" width="1.20" height="4.90" fill="#dc4255"/>
<rect x="297.42" y="167.00" width="0.70" height="5.65" fill="#138a72"/>
<rect x="297.17" y="168.59" width="1.20" height="2.85" fill="#138a72"/>
<rect x="299.22" y="167.19" width="0.70" height="4.19" fill="#138a72"/>
<rect x="298.97" y="167.95" width="1.20" height="2.13" fill="#138a72"/>
<rect x="301.03" y="167.79" width="0.70" height="4.79" fill="#dc4255"/>
<rect x="300.78" y="168.36" width="1.20" height="3.57" fill="#dc4255"/>
<rect x="302.83" y="168.39" width="0.70" height="6.97" fill="#dc4255"/>
<rect x="302.58" y="169.55" width="1.20" height="4.92" fill="#dc4255"/>
<rect x="304.64" y="169.00" width="0.70" height="9.98" fill="#dc4255"/>
<rect x="304.39" y="171.92" width="1.20" height="5.46" fill="#dc4255"/>
<rect x="306.45" y="173.79" width="0.70" height="7.61" fill="#dc4255"/>
<rect x="306.20" y="176.07" width="1.20" height="3.89" fill="#dc4255"/>
<rect x="308.25" y="177.60" width="0.70" height="8.26" fill="#dc4255"/>
<rect x="308.00" y="178.06" width="1.20" height="6.22" fill="#dc4255"/>
<rect x="310.06" y="180.15" width="0.70" height="12.35" fill="#dc4255"/>
<rect x="309.81" y="182.43" width="1.20" height="9.41" fill="#dc4255"/>
<rect x="311.86" y="185.23" width="0.70" height="7.27" fill="#dc4255"/>
<rect x="311.61" y="187.19" width="1.20" height="3.71" fill="#dc4255"/>
<rect x="313.67" y="187.51" width="0.70" height="5.90" fill="#dc4255"/>
<rect x="313.42" y="188.38" width="1.20" height="3.28" fill="#dc4255"/>
<rect x="315.48" y="189.04" width="0.70" height="6.31" fill="#dc4255"/>
<rect x="315.23" y="190.10" width="1.20" height="3.96" fill="#dc4255"/>
<rect x="317.28" y="192.50" width="0.70" height="9.60" fill="#dc4255"/>
<rect x="317.03" y="195.40" width="1.20" height="4.43" fill="#dc4255"/>
<rect x="319.09" y="190.00" width="0.70" height="19.00" fill="#138a72"/>
<rect x="318.84" y="196.87" width="1.20" height="8.81" fill="#138a72"/>
<rect x="320.89" y="193.63" width="0.70" height="8.92" fill="#138a72"/>
<rect x="320.64" y="195.11" width="1.20" height="5.25" fill="#138a72"/>
<rect x="322.70" y="194.77" width="0.70" height="3.91" fill="#138a72"/>
<rect x="322.45" y="195.71" width="1.20" height="2.40" fill="#138a72"/>
<rect x="324.51" y="195.65" width="0.70" height="3.96" fill="#dc4255"/>
<rect x="324.26" y="196.56" width="1.20" height="2.52" fill="#dc4255"/>
<rect x="326.31" y="196.40" width="0.70" height="4.00" fill="#dc4255"/>
<rect x="326.06" y="197.25" width="1.20" height="2.29" fill="#dc4255"/>
<rect x="328.12" y="196.40" width="0.70" height="4.00" fill="#dc4255"/>
<rect x="327.87" y="196.58" width="1.20" height="3.07" fill="#dc4255"/>
<rect x="329.92" y="196.40" width="0.70" height="4.00" fill="#dc4255"/>
<rect x="329.67" y="197.22" width="1.20" height="1.84" fill="#dc4255"/>
<rect x="331.73" y="195.17" width="0.70" height="3.94" fill="#138a72"/>
<rect x="331.48" y="196.39" width="1.20" height="1.74" fill="#138a72"/>
<rect x="333.54" y="194.50" width="0.70" height="3.90" fill="#138a72"/>
<rect x="333.29" y="194.88" width="1.20" height="3.05" fill="#138a72"/>
<rect x="335.34" y="194.50" width="0.70" height="3.90" fill="#138a72"/>
<rect x="335.09" y="195.37" width="1.20" height="2.84" fill="#138a72"/>
<rect x="337.15" y="194.50" width="0.70" height="4.02" fill="#138a72"/>
<rect x="336.90" y="194.69" width="1.20" height="3.52" fill="#138a72"/>
<rect x="338.95" y="194.50" width="0.70" height="4.48" fill="#dc4255"/>
<rect x="338.70" y="195.05" width="1.20" height="3.21" fill="#dc4255"/>
<rect x="340.76" y="194.50" width="0.70" height="4.87" fill="#dc4255"/>
<rect x="340.51" y="195.87" width="1.20" height="2.17" fill="#dc4255"/>
<rect x="342.57" y="194.50" width="0.70" height="4.42" fill="#dc4255"/>
<rect x="342.32" y="195.16" width="1.20" height="2.47" fill="#dc4255"/>
<rect x="344.37" y="194.50" width="0.70" height="3.97" fill="#138a72"/>
<rect x="344.12" y="195.74" width="1.20" height="2.20" fill="#138a72"/>
<rect x="346.18" y="195.47" width="0.70" height="3.95" fill="#dc4255"/>
<rect x="345.93" y="196.40" width="1.20" height="2.00" fill="#dc4255"/>
<rect x="347.98" y="196.51" width="0.70" height="4.07" fill="#dc4255"/>
<rect x="347.73" y="196.99" width="1.20" height="3.08" fill="#dc4255"/>
<rect x="349.79" y="197.11" width="0.70" height="4.43" fill="#dc4255"/>
<rect x="349.54" y="198.48" width="1.20" height="1.69" fill="#dc4255"/>
<rect x="351.60" y="193.71" width="0.70" height="7.53" fill="#dc4255"/>
<rect x="351.35" y="194.59" width="1.20" height="4.48" fill="#dc4255"/>
<rect x="353.40" y="189.83" width="0.70" height="9.57" fill="#138a72"/>
<rect x="353.15" y="190.46" width="1.20" height="7.95" fill="#138a72"/>
<rect x="355.21" y="190.37" width="0.70" height="6.62" fill="#dc4255"/>
<rect x="354.96" y="191.08" width="1.20" height="3.85" fill="#dc4255"/>
<rect x="357.01" y="191.41" width="0.70" height="5.90" fill="#dc4255"/>
<rect x="356.76" y="192.56" width="1.20" height="3.64" fill="#dc4255"/>
<rect x="358.82" y="192.50" width="0.70" height="5.79" fill="#dc4255"/>
<rect x="358.57" y="193.12" width="1.20" height="3.22" fill="#dc4255"/>
<rect x="360.63" y="192.50" width="0.70" height="4.58" fill="#138a72"/>
<rect x="360.38" y="193.86" width="1.20" height="1.68" fill="#138a72"/>
<rect x="362.43" y="191.68" width="0.70" height="4.32" fill="#138a72"/>
<rect x="362.18" y="193.03" width="1.20" height="2.31" fill="#138a72"/>
<rect x="364.24" y="189.77" width="0.70" height="5.30" fill="#138a72"/>
<rect x="363.99" y="190.41" width="1.20" height="3.18" fill="#138a72"/>
<rect x="366.04" y="188.89" width="0.70" height="6.13" fill="#138a72"/>
<rect x="365.79" y="190.35" width="1.20" height="2.93" fill="#138a72"/>
<rect x="367.85" y="189.66" width="0.70" height="6.73" fill="#dc4255"/>
<rect x="367.60" y="190.84" width="1.20" height="3.36" fill="#dc4255"/>
<rect x="369.66" y="189.66" width="0.70" height="6.66" fill="#dc4255"/>
<rect x="369.41" y="191.20" width="1.20" height="3.63" fill="#dc4255"/>
<rect x="371.46" y="189.06" width="0.70" height="6.06" fill="#138a72"/>
<rect x="371.21" y="190.20" width="1.20" height="3.23" fill="#138a72"/>
<rect x="373.27" y="190.08" width="0.70" height="6.54" fill="#dc4255"/>
<rect x="373.02" y="191.02" width="1.20" height="4.79" fill="#dc4255"/>
<rect x="375.07" y="190.86" width="0.70" height="6.86" fill="#dc4255"/>
<rect x="374.82" y="192.00" width="1.20" height="4.58" fill="#dc4255"/>
<rect x="376.88" y="190.26" width="0.70" height="6.26" fill="#138a72"/>
<rect x="376.63" y="191.20" width="1.20" height="3.64" fill="#138a72"/>
<rect x="378.69" y="190.00" width="0.70" height="5.65" fill="#138a72"/>
<rect x="378.44" y="191.41" width="1.20" height="3.04" fill="#138a72"/>
<rect x="380.49" y="190.00" width="0.70" height="5.05" fill="#138a72"/>
<rect x="380.24" y="190.30" width="1.20" height="3.22" fill="#138a72"/>
<rect x="382.30" y="188.54" width="0.70" height="5.73" fill="#138a72"/>
<rect x="382.05" y="189.16" width="1.20" height="4.51" fill="#138a72"/>
<rect x="384.10" y="186.93" width="0.70" height="6.54" fill="#138a72"/>
<rect x="383.85" y="188.20" width="1.20" height="3.52" fill="#138a72"/>
<rect x="385.91" y="186.00" width="0.70" height="7.00" fill="#138a72"/>
<rect x="385.66" y="186.89" width="1.20" height="5.66" fill="#138a72"/>
<rect x="387.72" y="186.00" width="0.70" height="7.00" fill="#dc4255"/>
<rect x="387.47" y="188.02" width="1.20" height="3.46" fill="#dc4255"/>
<rect x="389.52" y="187.42" width="0.70" height="6.53" fill="#dc4255"/>
<rect x="389.27" y="188.92" width="1.20" height="3.24" fill="#dc4255"/>
<rect x="391.33" y="189.14" width="0.70" height="5.86" fill="#dc4255"/>
<rect x="391.08" y="190.84" width="1.20" height="2.78" fill="#dc4255"/>
<rect x="393.13" y="190.04" width="0.70" height="4.96" fill="#dc4255"/>
<rect x="392.88" y="191.27" width="1.20" height="3.12" fill="#dc4255"/>
<rect x="394.94" y="190.95" width="0.70" height="4.05" fill="#dc4255"/>
<rect x="394.69" y="192.22" width="1.20" height="2.03" fill="#dc4255"/>
<rect x="396.75" y="191.00" width="0.70" height="4.87" fill="#dc4255"/>
<rect x="396.50" y="191.73" width="1.20" height="3.24" fill="#dc4255"/>
<rect x="398.55" y="191.00" width="0.70" height="5.80" fill="#138a72"/>
<rect x="398.30" y="192.03" width="1.20" height="4.25" fill="#138a72"/>
<rect x="400.36" y="191.00" width="0.70" height="5.03" fill="#138a72"/>
<rect x="400.11" y="192.37" width="1.20" height="2.20" fill="#138a72"/>
<rect x="402.16" y="191.00" width="0.70" height="4.17" fill="#138a72"/>
<rect x="401.91" y="191.26" width="1.20" height="3.38" fill="#138a72"/>
<rect x="403.97" y="191.00" width="0.70" height="5.12" fill="#dc4255"/>
<rect x="403.72" y="191.42" width="1.20" height="3.50" fill="#dc4255"/>
<rect x="405.78" y="191.06" width="0.70" height="6.00" fill="#dc4255"/>
<rect x="405.53" y="192.06" width="1.20" height="4.24" fill="#dc4255"/>
<rect x="407.58" y="191.97" width="0.70" height="6.00" fill="#dc4255"/>
<rect x="407.33" y="192.99" width="1.20" height="4.17" fill="#dc4255"/>
<rect x="409.39" y="192.87" width="0.70" height="6.00" fill="#dc4255"/>
<rect x="409.14" y="193.93" width="1.20" height="3.00" fill="#dc4255"/>
<rect x="411.19" y="193.77" width="0.70" height="6.00" fill="#138a72"/>
<rect x="410.94" y="195.32" width="1.20" height="3.17" fill="#138a72"/>
<rect x="413.00" y="193.73" width="0.70" height="5.73" fill="#138a72"/>
<rect x="412.75" y="194.99" width="1.20" height="3.04" fill="#138a72"/>
<rect x="414.81" y="193.37" width="0.70" height="5.37" fill="#138a72"/>
<rect x="414.56" y="194.53" width="1.20" height="3.55" fill="#138a72"/>
<rect x="416.61" y="193.01" width="0.70" height="5.01" fill="#138a72"/>
<rect x="416.36" y="193.51" width="1.20" height="4.02" fill="#138a72"/>
<rect x="418.42" y="193.00" width="0.70" height="5.00" fill="#138a72"/>
<rect x="418.17" y="194.19" width="1.20" height="2.48" fill="#138a72"/>
<rect x="420.22" y="193.00" width="0.70" height="5.00" fill="#dc4255"/>
<rect x="419.97" y="194.46" width="1.20" height="1.98" fill="#dc4255"/>
<rect x="422.03" y="193.34" width="0.70" height="4.66" fill="#dc4255"/>
<rect x="421.78" y="194.07" width="1.20" height="3.34" fill="#dc4255"/>
<rect x="423.84" y="193.80" width="0.70" height="4.20" fill="#138a72"/>
<rect x="423.59" y="194.74" width="1.20" height="1.91" fill="#138a72"/>
<rect x="425.64" y="193.48" width="0.70" height="4.26" fill="#138a72"/>
<rect x="425.39" y="194.69" width="1.20" height="2.13" fill="#138a72"/>
<rect x="427.45" y="192.53" width="0.70" height="4.74" fill="#138a72"/>
<rect x="427.20" y="193.07" width="1.20" height="2.72" fill="#138a72"/>
<rect x="429.25" y="191.79" width="0.70" height="4.79" fill="#138a72"/>
<rect x="429.00" y="192.93" width="1.20" height="2.95" fill="#138a72"/>
<rect x="431.06" y="191.33" width="0.70" height="4.33" fill="#138a72"/>
<rect x="430.81" y="191.86" width="1.20" height="3.01" fill="#138a72"/>
<rect x="432.87" y="191.00" width="0.70" height="4.13" fill="#138a72"/>
<rect x="432.62" y="191.19" width="1.20" height="3.09" fill="#138a72"/>
<rect x="434.67" y="191.00" width="0.70" height="4.60" fill="#dc4255"/>
<rect x="434.42" y="191.82" width="1.20" height="2.98" fill="#dc4255"/>
<rect x="436.48" y="190.88" width="0.70" height="5.00" fill="#dc4255"/>
<rect x="436.23" y="191.46" width="1.20" height="3.98" fill="#dc4255"/>
<rect x="438.28" y="189.96" width="0.70" height="5.00" fill="#138a72"/>
<rect x="438.03" y="191.51" width="1.20" height="2.31" fill="#138a72"/>
<rect x="440.09" y="189.03" width="0.70" height="5.00" fill="#138a72"/>
<rect x="439.84" y="189.39" width="1.20" height="3.04" fill="#138a72"/>
<rect x="441.90" y="188.13" width="0.70" height="5.44" fill="#138a72"/>
<rect x="441.65" y="189.66" width="1.20" height="2.43" fill="#138a72"/>
<rect x="443.70" y="187.22" width="0.70" height="5.89" fill="#138a72"/>
<rect x="443.45" y="188.04" width="1.20" height="3.18" fill="#138a72"/>
<rect x="445.51" y="187.47" width="0.70" height="5.53" fill="#138a72"/>
<rect x="445.26" y="188.21" width="1.20" height="4.20" fill="#138a72"/>
<rect x="447.31" y="188.07" width="0.70" height="4.87" fill="#dc4255"/>
<rect x="447.06" y="189.20" width="1.20" height="3.51" fill="#dc4255"/>
<rect x="449.12" y="188.52" width="0.70" height="3.96" fill="#138a72"/>
<rect x="448.87" y="188.83" width="1.20" height="3.00" fill="#138a72"/>
<rect x="450.93" y="188.97" width="0.70" height="3.06" fill="#138a72"/>
<rect x="450.68" y="189.19" width="1.20" height="2.65" fill="#138a72"/>
<rect x="513.65" y="40.70" width="0.70" height="9.80" fill="#dc4255"/>
<rect x="513.40" y="41.21" width="1.20" height="8.30" fill="#dc4255"/>
<rect x="515.53" y="40.04" width="0.70" height="11.86" fill="#138a72"/>
<rect x="515.28" y="43.47" width="1.20" height="4.81" fill="#138a72"/>
<rect x="517.40" y="45.79" width="0.70" height="16.12" fill="#dc4255"/>
<rect x="517.15" y="51.08" width="1.20" height="8.51" fill="#dc4255"/>
<rect x="519.28" y="52.80" width="0.70" height="11.97" fill="#dc4255"/>
<rect x="519.03" y="56.80" width="1.20" height="4.05" fill="#dc4255"/>
<rect x="521.16" y="58.51" width="0.70" height="9.02" fill="#dc4255"/>
<rect x="520.91" y="59.97" width="1.20" height="7.09" fill="#dc4255"/>
<rect x="523.03" y="60.00" width="0.70" height="11.49" fill="#dc4255"/>
<rect x="522.78" y="61.51" width="1.20" height="8.24" fill="#dc4255"/>
<rect x="524.91" y="60.00" width="0.70" height="8.98" fill="#138a72"/>
<rect x="524.66" y="60.64" width="1.20" height="7.04" fill="#138a72"/>
<rect x="526.79" y="60.84" width="0.70" height="8.00" fill="#138a72"/>
<rect x="526.54" y="62.97" width="1.20" height="3.68" fill="#138a72"/>
<rect x="528.67" y="62.22" width="0.70" height="7.56" fill="#dc4255"/>
<rect x="528.42" y="63.15" width="1.20" height="5.73" fill="#dc4255"/>
<rect x="530.54" y="63.51" width="0.70" height="4.98" fill="#138a72"/>
<rect x="530.29" y="65.07" width="1.20" height="2.15" fill="#138a72"/>
<rect x="532.42" y="62.44" width="0.70" height="5.17" fill="#138a72"/>
<rect x="532.17" y="64.03" width="1.20" height="2.50" fill="#138a72"/>
<rect x="534.30" y="59.94" width="0.70" height="7.02" fill="#138a72"/>
<rect x="534.05" y="61.55" width="1.20" height="4.92" fill="#138a72"/>
<rect x="536.17" y="57.35" width="0.70" height="7.66" fill="#138a72"/>
<rect x="535.92" y="59.16" width="1.20" height="3.78" fill="#138a72"/>
<rect x="538.05" y="53.78" width="0.70" height="9.62" fill="#138a72"/>
<rect x="537.80" y="56.55" width="1.20" height="6.01" fill="#138a72"/>
<rect x="539.93" y="49.15" width="0.70" height="13.00" fill="#138a72"/>
<rect x="539.68" y="51.80" width="1.20" height="6.29" fill="#138a72"/>
<rect x="541.80" y="47.46" width="0.70" height="10.26" fill="#138a72"/>
<rect x="541.55" y="49.39" width="1.20" height="4.93" fill="#138a72"/>
<rect x="543.68" y="45.68" width="0.70" height="7.87" fill="#138a72"/>
<rect x="543.43" y="47.38" width="1.20" height="3.84" fill="#138a72"/>
<rect x="545.56" y="36.80" width="0.70" height="16.55" fill="#138a72"/>
<rect x="545.31" y="45.68" width="1.20" height="5.36" fill="#138a72"/>
<rect x="547.44" y="50.50" width="0.70" height="9.82" fill="#dc4255"/>
<rect x="547.19" y="53.46" width="1.20" height="4.90" fill="#dc4255"/>
<rect x="549.31" y="55.66" width="0.70" height="10.39" fill="#dc4255"/>
<rect x="549.06" y="57.44" width="1.20" height="7.98" fill="#dc4255"/>
<rect x="551.19" y="51.84" width="0.70" height="12.91" fill="#138a72"/>
<rect x="550.94" y="56.01" width="1.20" height="6.45" fill="#138a72"/>
<rect x="553.07" y="49.32" width="0.70" height="11.77" fill="#138a72"/>
<rect x="552.82" y="51.00" width="1.20" height="8.24" fill="#138a72"/>
<rect x="554.94" y="47.65" width="0.70" height="9.06" fill="#138a72"/>
<rect x="554.69" y="49.53" width="1.20" height="5.39" fill="#138a72"/>
<rect x="556.82" y="49.16" width="0.70" height="13.26" fill="#dc4255"/>
<rect x="556.57" y="52.24" width="1.20" height="7.46" fill="#dc4255"/>
<rect x="558.70" y="55.29" width="0.70" height="8.38" fill="#dc4255"/>
<rect x="558.45" y="56.62" width="1.20" height="5.20" fill="#dc4255"/>
<rect x="560.57" y="59.32" width="0.70" height="15.89" fill="#dc4255"/>
<rect x="560.32" y="61.66" width="1.20" height="12.82" fill="#dc4255"/>
<rect x="562.45" y="65.64" width="0.70" height="22.29" fill="#dc4255"/>
<rect x="562.20" y="66.63" width="1.20" height="19.70" fill="#dc4255"/>
<rect x="564.33" y="77.90" width="0.70" height="10.09" fill="#dc4255"/>
<rect x="564.08" y="78.83" width="1.20" height="8.37" fill="#dc4255"/>
<rect x="566.21" y="81.04" width="0.70" height="9.97" fill="#dc4255"/>
<rect x="565.96" y="83.97" width="1.20" height="5.70" fill="#dc4255"/>
<rect x="568.08" y="82.58" width="0.70" height="10.96" fill="#dc4255"/>
<rect x="567.83" y="85.10" width="1.20" height="6.87" fill="#dc4255"/>
<rect x="569.96" y="85.08" width="0.70" height="7.33" fill="#138a72"/>
<rect x="569.71" y="86.31" width="1.20" height="5.79" fill="#138a72"/>
<rect x="571.84" y="85.21" width="0.70" height="6.00" fill="#138a72"/>
<rect x="571.59" y="86.64" width="1.20" height="3.57" fill="#138a72"/>
<rect x="573.71" y="83.79" width="0.70" height="6.26" fill="#dc4255"/>
<rect x="573.46" y="85.71" width="1.20" height="4.05" fill="#dc4255"/>
<rect x="575.59" y="77.53" width="0.70" height="13.76" fill="#138a72"/>
<rect x="575.34" y="80.43" width="1.20" height="7.57" fill="#138a72"/>
<rect x="577.47" y="71.88" width="0.70" height="17.70" fill="#138a72"/>
<rect x="577.22" y="74.97" width="1.20" height="11.51" fill="#138a72"/>
<rect x="579.34" y="67.01" width="0.70" height="17.00" fill="#138a72"/>
<rect x="579.09" y="71.10" width="1.20" height="9.48" fill="#138a72"/>
<rect x="581.22" y="65.32" width="0.70" height="13.69" fill="#dc4255"/>
<rect x="580.97" y="69.37" width="1.20" height="8.47" fill="#dc4255"/>
<rect x="583.10" y="65.26" width="0.70" height="10.74" fill="#dc4255"/>
<rect x="582.85" y="68.82" width="1.20" height="4.63" fill="#dc4255"/>
<rect x="584.98" y="67.65" width="0.70" height="8.35" fill="#dc4255"/>
<rect x="584.73" y="70.30" width="1.20" height="4.20" fill="#dc4255"/>
<rect x="586.85" y="66.02" width="0.70" height="9.98" fill="#138a72"/>
<rect x="586.60" y="69.34" width="1.20" height="6.09" fill="#138a72"/>
<rect x="588.73" y="64.73" width="0.70" height="11.27" fill="#138a72"/>
<rect x="588.48" y="65.50" width="1.20" height="7.63" fill="#138a72"/>
<rect x="590.61" y="66.30" width="0.70" height="9.85" fill="#dc4255"/>
<rect x="590.36" y="69.55" width="1.20" height="4.81" fill="#dc4255"/>
<rect x="592.48" y="67.56" width="0.70" height="9.22" fill="#dc4255"/>
<rect x="592.23" y="67.95" width="1.20" height="7.86" fill="#dc4255"/>
<rect x="594.36" y="70.42" width="0.70" height="20.50" fill="#dc4255"/>
<rect x="594.11" y="71.45" width="1.20" height="14.59" fill="#dc4255"/>
<rect x="596.24" y="70.00" width="0.70" height="103.00" fill="#dc4255"/>
<rect x="595.99" y="89.37" width="1.20" height="17.46" fill="#dc4255"/>
<rect x="598.12" y="94.53" width="0.70" height="19.27" fill="#138a72"/>
<rect x="597.87" y="97.82" width="1.20" height="14.47" fill="#138a72"/>
<rect x="599.99" y="86.75" width="0.70" height="18.08" fill="#138a72"/>
<rect x="599.74" y="89.07" width="1.20" height="13.17" fill="#138a72"/>
<rect x="601.87" y="80.28" width="0.70" height="12.25" fill="#138a72"/>
<rect x="601.62" y="83.30" width="1.20" height="7.42" fill="#138a72"/>
<rect x="603.75" y="81.80" width="0.70" height="10.20" fill="#dc4255"/>
<rect x="603.50" y="83.42" width="1.20" height="7.40" fill="#dc4255"/>
<rect x="605.62" y="83.67" width="0.70" height="18.03" fill="#dc4255"/>
<rect x="605.37" y="85.29" width="1.20" height="12.48" fill="#dc4255"/>
<rect x="607.50" y="92.39" width="0.70" height="19.44" fill="#dc4255"/>
<rect x="607.25" y="93.38" width="1.20" height="16.47" fill="#dc4255"/>
<rect x="609.38" y="101.17" width="0.70" height="17.15" fill="#dc4255"/>
<rect x="609.13" y="104.77" width="1.20" height="11.43" fill="#dc4255"/>
<rect x="611.25" y="106.40" width="0.70" height="9.51" fill="#138a72"/>
<rect x="611.00" y="109.11" width="1.20" height="3.93" fill="#138a72"/>
<rect x="613.13" y="105.57" width="0.70" height="7.85" fill="#138a72"/>
<rect x="612.88" y="108.21" width="1.20" height="2.98" fill="#138a72"/>
<rect x="615.01" y="102.54" width="0.70" height="9.91" fill="#138a72"/>
<rect x="614.76" y="103.39" width="1.20" height="7.03" fill="#138a72"/>
<rect x="616.88" y="98.47" width="0.70" height="18.53" fill="#dc4255"/>
<rect x="616.63" y="102.34" width="1.20" height="12.26" fill="#dc4255"/>
<rect x="618.76" y="104.60" width="0.70" height="9.96" fill="#138a72"/>
<rect x="618.51" y="107.71" width="1.20" height="6.36" fill="#138a72"/>
<rect x="620.64" y="106.84" width="0.70" height="5.90" fill="#138a72"/>
<rect x="620.39" y="107.35" width="1.20" height="4.19" fill="#138a72"/>
<rect x="622.52" y="105.59" width="0.70" height="5.90" fill="#138a72"/>
<rect x="622.27" y="106.60" width="1.20" height="3.64" fill="#138a72"/>
<rect x="624.39" y="103.82" width="0.70" height="5.32" fill="#138a72"/>
<rect x="624.14" y="104.20" width="1.20" height="4.64" fill="#138a72"/>
<rect x="626.27" y="101.58" width="0.70" height="6.31" fill="#138a72"/>
<rect x="626.02" y="103.26" width="1.20" height="3.49" fill="#138a72"/>
<rect x="628.15" y="98.48" width="0.70" height="10.58" fill="#138a72"/>
<rect x="627.90" y="101.19" width="1.20" height="4.97" fill="#138a72"/>
<rect x="630.02" y="97.42" width="0.70" height="13.94" fill="#138a72"/>
<rect x="629.77" y="98.93" width="1.20" height="8.92" fill="#138a72"/>
<rect x="631.90" y="103.78" width="0.70" height="14.49" fill="#dc4255"/>
<rect x="631.65" y="105.22" width="1.20" height="9.60" fill="#dc4255"/>
<rect x="633.78" y="105.38" width="0.70" height="19.23" fill="#dc4255"/>
<rect x="633.53" y="106.44" width="1.20" height="15.45" fill="#dc4255"/>
<rect x="635.65" y="111.00" width="0.70" height="7.99" fill="#138a72"/>
<rect x="635.40" y="113.38" width="1.20" height="3.08" fill="#138a72"/>
<rect x="637.53" y="112.25" width="0.70" height="5.49" fill="#138a72"/>
<rect x="637.28" y="112.83" width="1.20" height="4.03" fill="#138a72"/>
<rect x="639.41" y="113.51" width="0.70" height="9.95" fill="#138a72"/>
<rect x="639.16" y="114.09" width="1.20" height="7.05" fill="#138a72"/>
<rect x="641.29" y="114.76" width="0.70" height="24.65" fill="#dc4255"/>
<rect x="641.04" y="117.90" width="1.20" height="13.81" fill="#dc4255"/>
<rect x="643.16" y="123.80" width="0.70" height="20.89" fill="#dc4255"/>
<rect x="642.91" y="128.59" width="1.20" height="11.10" fill="#dc4255"/>
<rect x="645.04" y="125.71" width="0.70" height="18.00" fill="#dc4255"/>
<rect x="644.79" y="128.84" width="1.20" height="8.80" fill="#dc4255"/>
<rect x="646.92" y="112.13" width="0.70" height="24.26" fill="#138a72"/>
<rect x="646.67" y="113.19" width="1.20" height="16.77" fill="#138a72"/>
<rect x="648.79" y="107.48" width="0.70" height="18.33" fill="#138a72"/>
<rect x="648.54" y="109.87" width="1.20" height="12.48" fill="#138a72"/>
<rect x="650.67" y="109.84" width="0.70" height="8.90" fill="#dc4255"/>
<rect x="650.42" y="112.22" width="1.20" height="3.79" fill="#dc4255"/>
<rect x="652.55" y="106.67" width="0.70" height="9.46" fill="#dc4255"/>
<rect x="652.30" y="108.81" width="1.20" height="6.13" fill="#dc4255"/>
<rect x="654.42" y="101.48" width="0.70" height="13.88" fill="#138a72"/>
<rect x="654.17" y="104.48" width="1.20" height="8.26" fill="#138a72"/>
<rect x="656.30" y="106.66" width="0.70" height="12.58" fill="#dc4255"/>
<rect x="656.05" y="108.83" width="1.20" height="9.41" fill="#dc4255"/>
<rect x="658.18" y="111.74" width="0.70" height="11.93" fill="#dc4255"/>
<rect x="657.93" y="115.58" width="1.20" height="5.86" fill="#dc4255"/>
<rect x="660.06" y="116.75" width="0.70" height="11.81" fill="#dc4255"/>
<rect x="659.81" y="120.48" width="1.20" height="4.83" fill="#dc4255"/>
<rect x="661.93" y="121.92" width="0.70" height="9.28" fill="#dc4255"/>
<rect x="661.68" y="122.49" width="1.20" height="6.71" fill="#dc4255"/>
<rect x="663.81" y="126.00" width="0.70" height="7.73" fill="#dc4255"/>
<rect x="663.56" y="126.50" width="1.20" height="5.72" fill="#dc4255"/>
<rect x="665.69" y="128.46" width="0.70" height="7.79" fill="#dc4255"/>
<rect x="665.44" y="129.69" width="1.20" height="5.79" fill="#dc4255"/>
<rect x="667.56" y="130.90" width="0.70" height="7.80" fill="#138a72"/>
<rect x="667.31" y="131.44" width="1.20" height="5.81" fill="#138a72"/>
<rect x="669.44" y="133.04" width="0.70" height="8.80" fill="#138a72"/>
<rect x="669.19" y="133.79" width="1.20" height="6.00" fill="#138a72"/>
<rect x="671.32" y="134.33" width="0.70" height="12.62" fill="#dc4255"/>
<rect x="671.07" y="137.53" width="1.20" height="6.24" fill="#dc4255"/>
<rect x="673.19" y="139.95" width="0.70" height="12.00" fill="#dc4255"/>
<rect x="672.94" y="143.91" width="1.20" height="7.08" fill="#dc4255"/>
<rect x="675.07" y="146.25" width="0.70" height="9.73" fill="#dc4255"/>
<rect x="674.82" y="147.80" width="1.20" height="6.00" fill="#dc4255"/>
<rect x="676.95" y="144.98" width="0.70" height="8.33" fill="#138a72"/>
<rect x="676.70" y="147.80" width="1.20" height="3.70" fill="#138a72"/>
<rect x="678.83" y="144.50" width="0.70" height="7.27" fill="#138a72"/>
<rect x="678.58" y="145.02" width="1.20" height="4.76" fill="#138a72"/>
<rect x="680.70" y="144.50" width="0.70" height="6.43" fill="#138a72"/>
<rect x="680.45" y="145.64" width="1.20" height="3.64" fill="#138a72"/>
<rect x="682.58" y="144.50" width="0.70" height="6.00" fill="#138a72"/>
<rect x="682.33" y="146.23" width="1.20" height="2.65" fill="#138a72"/>
<rect x="684.46" y="144.50" width="0.70" height="6.00" fill="#dc4255"/>
<rect x="684.21" y="145.81" width="1.20" height="3.53" fill="#dc4255"/>
<rect x="686.33" y="144.82" width="0.70" height="6.32" fill="#dc4255"/>
<rect x="686.08" y="146.87" width="1.20" height="2.20" fill="#dc4255"/>
<rect x="688.21" y="145.72" width="0.70" height="7.22" fill="#dc4255"/>
<rect x="687.96" y="147.03" width="1.20" height="4.12" fill="#dc4255"/>
<rect x="690.09" y="146.94" width="0.70" height="8.22" fill="#dc4255"/>
<rect x="689.84" y="149.42" width="1.20" height="4.55" fill="#dc4255"/>
<rect x="691.97" y="149.27" width="0.70" height="9.58" fill="#dc4255"/>
<rect x="691.72" y="151.59" width="1.20" height="5.56" fill="#dc4255"/>
<rect x="693.84" y="149.47" width="0.70" height="9.30" fill="#dc4255"/>
<rect x="693.59" y="152.03" width="1.20" height="4.20" fill="#dc4255"/>
<rect x="695.72" y="148.70" width="0.70" height="8.29" fill="#138a72"/>
<rect x="695.47" y="150.74" width="1.20" height="5.12" fill="#138a72"/>
<rect x="697.60" y="149.19" width="0.70" height="7.86" fill="#138a72"/>
<rect x="697.35" y="151.69" width="1.20" height="4.23" fill="#138a72"/>
<rect x="699.47" y="150.45" width="0.70" height="7.74" fill="#dc4255"/>
<rect x="699.22" y="151.36" width="1.20" height="5.19" fill="#dc4255"/>
<rect x="701.35" y="151.20" width="0.70" height="6.90" fill="#dc4255"/>
<rect x="701.10" y="152.59" width="1.20" height="3.59" fill="#dc4255"/>
<rect x="703.23" y="151.95" width="0.70" height="6.06" fill="#dc4255"/>
<rect x="702.98" y="152.56" width="1.20" height="4.02" fill="#dc4255"/>
<rect x="705.10" y="151.43" width="0.70" height="6.64" fill="#dc4255"/>
<rect x="704.85" y="152.91" width="1.20" height="4.14" fill="#dc4255"/>
<rect x="706.98" y="150.81" width="0.70" height="7.33" fill="#138a72"/>
<rect x="706.73" y="152.07" width="1.20" height="4.86" fill="#138a72"/>
<rect x="708.86" y="150.15" width="0.70" height="7.80" fill="#138a72"/>
<rect x="708.61" y="150.49" width="1.20" height="5.17" fill="#138a72"/>
<rect x="710.74" y="150.06" width="0.70" height="8.37" fill="#138a72"/>
<rect x="710.49" y="152.36" width="1.20" height="4.31" fill="#138a72"/>
<rect x="712.61" y="153.94" width="0.70" height="11.59" fill="#dc4255"/>
<rect x="712.36" y="156.37" width="1.20" height="7.60" fill="#dc4255"/>
<rect x="714.49" y="160.15" width="0.70" height="9.13" fill="#dc4255"/>
<rect x="714.24" y="161.89" width="1.20" height="4.38" fill="#dc4255"/>
<rect x="716.37" y="164.35" width="0.70" height="7.32" fill="#dc4255"/>
<rect x="716.12" y="166.70" width="1.20" height="3.60" fill="#dc4255"/>
<rect x="718.24" y="166.86" width="0.70" height="6.07" fill="#dc4255"/>
<rect x="717.99" y="168.80" width="1.20" height="3.56" fill="#dc4255"/>
<rect x="720.12" y="169.44" width="0.70" height="7.22" fill="#dc4255"/>
<rect x="719.87" y="170.84" width="1.20" height="5.03" fill="#dc4255"/>
<rect x="722.00" y="172.00" width="0.70" height="8.45" fill="#dc4255"/>
<rect x="721.75" y="173.16" width="1.20" height="5.99" fill="#dc4255"/>
<rect x="723.87" y="174.50" width="0.70" height="9.57" fill="#dc4255"/>
<rect x="723.62" y="176.23" width="1.20" height="6.23" fill="#dc4255"/>
<rect x="725.75" y="175.00" width="0.70" height="8.87" fill="#138a72"/>
<rect x="725.50" y="177.96" width="1.20" height="3.33" fill="#138a72"/>
<rect x="727.63" y="175.16" width="0.70" height="7.36" fill="#138a72"/>
<rect x="727.38" y="175.50" width="1.20" height="5.94" fill="#138a72"/>
<rect x="729.50" y="175.78" width="0.70" height="4.86" fill="#138a72"/>
<rect x="729.25" y="176.58" width="1.20" height="3.17" fill="#138a72"/>
<rect x="731.38" y="175.68" width="0.70" height="4.00" fill="#138a72"/>
<rect x="731.13" y="176.43" width="1.20" height="2.25" fill="#138a72"/>
<rect x="733.26" y="175.20" width="0.70" height="4.00" fill="#dc4255"/>
<rect x="733.01" y="175.88" width="1.20" height="3.10" fill="#dc4255"/>
<rect x="735.14" y="174.25" width="0.70" height="4.75" fill="#dc4255"/>
<rect x="734.89" y="175.20" width="1.20" height="3.09" fill="#dc4255"/>
<rect x="737.01" y="172.92" width="0.70" height="6.00" fill="#138a72"/>
<rect x="736.76" y="173.24" width="1.20" height="3.88" fill="#138a72"/>
<rect x="738.89" y="170.41" width="0.70" height="6.00" fill="#138a72"/>
<rect x="738.64" y="171.99" width="1.20" height="3.62" fill="#138a72"/>
<rect x="740.77" y="169.00" width="0.70" height="5.44" fill="#138a72"/>
<rect x="740.52" y="169.31" width="1.20" height="3.63" fill="#138a72"/>
<rect x="742.64" y="169.00" width="0.70" height="4.14" fill="#138a72"/>
<rect x="742.39" y="170.18" width="1.20" height="2.05" fill="#138a72"/>
<rect x="744.52" y="169.00" width="0.70" height="5.19" fill="#dc4255"/>
<rect x="744.27" y="170.01" width="1.20" height="3.90" fill="#dc4255"/>
<rect x="746.40" y="170.00" width="0.70" height="6.00" fill="#dc4255"/>
<rect x="746.15" y="170.61" width="1.20" height="3.50" fill="#dc4255"/>
<rect x="748.27" y="172.50" width="0.70" height="6.00" fill="#dc4255"/>
<rect x="748.02" y="173.17" width="1.20" height="3.83" fill="#dc4255"/>
<rect x="750.15" y="174.50" width="0.70" height="5.25" fill="#dc4255"/>
<rect x="749.90" y="175.37" width="1.20" height="3.31" fill="#dc4255"/>
<rect x="752.03" y="169.48" width="0.70" height="9.14" fill="#dc4255"/>
<rect x="751.78" y="171.62" width="1.20" height="5.77" fill="#dc4255"/>
<rect x="753.91" y="162.35" width="0.70" height="13.80" fill="#138a72"/>
<rect x="753.66" y="164.44" width="1.20" height="8.07" fill="#138a72"/>
<rect x="755.78" y="157.60" width="0.70" height="12.29" fill="#138a72"/>
<rect x="755.53" y="158.79" width="1.20" height="7.56" fill="#138a72"/>
<rect x="757.66" y="153.41" width="0.70" height="10.99" fill="#138a72"/>
<rect x="757.41" y="157.00" width="1.20" height="4.25" fill="#138a72"/>
<rect x="759.54" y="149.72" width="0.70" height="9.87" fill="#138a72"/>
<rect x="759.29" y="151.97" width="1.20" height="4.52" fill="#138a72"/>
<rect x="761.41" y="145.79" width="0.70" height="9.52" fill="#138a72"/>
<rect x="761.16" y="149.00" width="1.20" height="3.26" fill="#138a72"/>
<rect x="763.29" y="150.64" width="0.70" height="6.37" fill="#dc4255"/>
<rect x="763.04" y="152.35" width="1.20" height="3.72" fill="#dc4255"/>
<rect x="765.17" y="153.63" width="0.70" height="4.78" fill="#dc4255"/>
<rect x="764.92" y="154.10" width="1.20" height="2.85" fill="#dc4255"/>
<rect x="767.04" y="155.79" width="0.70" height="3.92" fill="#dc4255"/>
<rect x="766.79" y="156.91" width="1.20" height="2.08" fill="#dc4255"/>
<rect x="768.92" y="157.02" width="0.70" height="3.99" fill="#dc4255"/>
<rect x="768.67" y="158.09" width="1.20" height="1.77" fill="#dc4255"/>
<rect x="770.80" y="156.38" width="0.70" height="5.35" fill="#dc4255"/>
<rect x="770.55" y="157.03" width="1.20" height="4.37" fill="#dc4255"/>
<rect x="772.68" y="154.95" width="0.70" height="7.15" fill="#dc4255"/>
<rect x="772.43" y="157.10" width="1.20" height="3.61" fill="#dc4255"/>
<rect x="774.55" y="152.36" width="0.70" height="9.15" fill="#138a72"/>
<rect x="774.30" y="154.61" width="1.20" height="3.89" fill="#138a72"/>
<rect x="776.43" y="152.97" width="0.70" height="9.07" fill="#138a72"/>
<rect x="776.18" y="154.97" width="1.20" height="6.00" fill="#138a72"/>
<rect x="778.31" y="155.44" width="0.70" height="7.80" fill="#dc4255"/>
<rect x="778.06" y="157.23" width="1.20" height="3.70" fill="#dc4255"/>
<rect x="780.18" y="156.67" width="0.70" height="7.87" fill="#138a72"/>
<rect x="779.93" y="157.82" width="1.20" height="5.85" fill="#138a72"/>
<rect x="782.06" y="158.21" width="0.70" height="7.81" fill="#138a72"/>
<rect x="781.81" y="159.72" width="1.20" height="4.92" fill="#138a72"/>
<rect x="783.94" y="161.39" width="0.70" height="8.32" fill="#dc4255"/>
<rect x="783.69" y="162.33" width="1.20" height="6.86" fill="#dc4255"/>
<rect x="785.81" y="166.38" width="0.70" height="9.81" fill="#dc4255"/>
<rect x="785.56" y="168.26" width="1.20" height="7.29" fill="#dc4255"/>
<rect x="787.69" y="169.19" width="0.70" height="6.72" fill="#138a72"/>
<rect x="787.44" y="170.31" width="1.20" height="4.12" fill="#138a72"/>
<rect x="789.57" y="170.64" width="0.70" height="4.36" fill="#138a72"/>
<rect x="789.32" y="171.32" width="1.20" height="2.64" fill="#138a72"/>
<rect x="791.45" y="169.35" width="0.70" height="5.65" fill="#138a72"/>
<rect x="791.20" y="170.03" width="1.20" height="3.97" fill="#138a72"/>
<rect x="793.32" y="169.92" width="0.70" height="6.00" fill="#138a72"/>
<rect x="793.07" y="170.78" width="1.20" height="3.27" fill="#138a72"/>
<rect x="795.20" y="170.66" width="0.70" height="6.17" fill="#dc4255"/>
<rect x="794.95" y="171.66" width="1.20" height="3.98" fill="#dc4255"/>
<rect x="797.08" y="168.07" width="0.70" height="7.47" fill="#138a72"/>
<rect x="796.83" y="169.74" width="1.20" height="5.38" fill="#138a72"/>
<rect x="798.95" y="166.45" width="0.70" height="7.45" fill="#138a72"/>
<rect x="798.70" y="168.79" width="1.20" height="4.78" fill="#138a72"/>
<rect x="800.83" y="165.51" width="0.70" height="6.51" fill="#138a72"/>
<rect x="800.58" y="167.30" width="1.20" height="3.48" fill="#138a72"/>
<rect x="802.71" y="165.00" width="0.70" height="8.86" fill="#138a72"/>
<rect x="802.46" y="167.42" width="1.20" height="5.48" fill="#138a72"/>
<rect x="804.58" y="168.74" width="0.70" height="10.69" fill="#dc4255"/>
<rect x="804.33" y="171.58" width="1.20" height="6.35" fill="#dc4255"/>
<rect x="806.46" y="176.25" width="0.70" height="8.06" fill="#dc4255"/>
<rect x="806.21" y="177.37" width="1.20" height="4.41" fill="#dc4255"/>
<rect x="808.34" y="181.98" width="0.70" height="9.49" fill="#dc4255"/>
<rect x="808.09" y="182.57" width="1.20" height="6.19" fill="#dc4255"/>
<rect x="810.22" y="183.89" width="0.70" height="7.76" fill="#138a72"/>
<rect x="809.97" y="185.14" width="1.20" height="4.45" fill="#138a72"/>
<rect x="812.09" y="184.24" width="0.70" height="6.18" fill="#138a72"/>
<rect x="811.84" y="184.68" width="1.20" height="5.45" fill="#138a72"/>
<rect x="813.97" y="181.86" width="0.70" height="7.37" fill="#138a72"/>
<rect x="813.72" y="182.21" width="1.20" height="5.52" fill="#138a72"/>
<rect x="815.85" y="183.31" width="0.70" height="9.40" fill="#138a72"/>
<rect x="815.60" y="185.97" width="1.20" height="4.85" fill="#138a72"/>
<rect x="817.72" y="186.94" width="0.70" height="11.94" fill="#dc4255"/>
<rect x="817.47" y="189.33" width="1.20" height="7.86" fill="#dc4255"/>
<rect x="819.60" y="190.60" width="0.70" height="15.60" fill="#138a72"/>
<rect x="819.35" y="192.92" width="1.20" height="12.03" fill="#138a72"/>
<rect x="821.48" y="190.70" width="0.70" height="9.73" fill="#dc4255"/>
<rect x="821.23" y="193.88" width="1.20" height="5.36" fill="#dc4255"/>
<rect x="823.35" y="191.17" width="0.70" height="5.90" fill="#dc4255"/>
<rect x="823.10" y="192.89" width="1.20" height="3.38" fill="#dc4255"/>
<rect x="825.23" y="192.42" width="0.70" height="5.90" fill="#dc4255"/>
<rect x="824.98" y="194.02" width="1.20" height="3.44" fill="#dc4255"/>
<rect x="827.11" y="193.67" width="0.70" height="5.85" fill="#dc4255"/>
<rect x="826.86" y="195.33" width="1.20" height="3.82" fill="#dc4255"/>
<rect x="828.99" y="194.48" width="0.70" height="5.81" fill="#138a72"/>
<rect x="828.74" y="195.96" width="1.20" height="3.39" fill="#138a72"/>
<rect x="830.86" y="193.22" width="0.70" height="5.87" fill="#138a72"/>
<rect x="830.61" y="194.85" width="1.20" height="2.43" fill="#138a72"/>
<rect x="832.74" y="191.13" width="0.70" height="6.67" fill="#138a72"/>
<rect x="832.49" y="193.13" width="1.20" height="4.17" fill="#138a72"/>
<rect x="834.62" y="189.05" width="0.70" height="7.55" fill="#138a72"/>
<rect x="834.37" y="191.24" width="1.20" height="3.26" fill="#138a72"/>
<rect x="836.49" y="190.90" width="0.70" height="5.80" fill="#dc4255"/>
<rect x="836.24" y="191.66" width="1.20" height="3.24" fill="#dc4255"/>
<rect x="838.37" y="193.49" width="0.70" height="4.51" fill="#dc4255"/>
<rect x="838.12" y="193.90" width="1.20" height="3.44" fill="#dc4255"/>
<rect x="840.25" y="195.33" width="0.70" height="3.90" fill="#dc4255"/>
<rect x="840.00" y="196.04" width="1.20" height="2.35" fill="#dc4255"/>
<rect x="842.12" y="196.52" width="0.70" height="3.90" fill="#dc4255"/>
<rect x="841.88" y="197.66" width="1.20" height="2.28" fill="#dc4255"/>
<rect x="844.00" y="197.81" width="0.70" height="3.30" fill="#dc4255"/>
<rect x="843.75" y="198.32" width="1.20" height="2.06" fill="#dc4255"/>
<rect x="845.88" y="198.76" width="0.70" height="3.28" fill="#dc4255"/>
<rect x="845.63" y="199.22" width="1.20" height="1.93" fill="#dc4255"/>
<rect x="847.76" y="199.19" width="0.70" height="4.27" fill="#dc4255"/>
<rect x="847.51" y="199.84" width="1.20" height="2.43" fill="#dc4255"/>
<rect x="849.63" y="199.67" width="0.70" height="5.15" fill="#dc4255"/>
<rect x="849.38" y="201.06" width="1.20" height="2.53" fill="#dc4255"/>
<rect x="851.51" y="200.31" width="0.70" height="5.73" fill="#dc4255"/>
<rect x="851.26" y="202.02" width="1.20" height="2.20" fill="#dc4255"/>
<rect x="853.39" y="197.92" width="0.70" height="7.64" fill="#dc4255"/>
<rect x="853.14" y="200.34" width="1.20" height="3.92" fill="#dc4255"/>
<rect x="855.26" y="195.14" width="0.70" height="9.14" fill="#138a72"/>
<rect x="855.01" y="196.83" width="1.20" height="6.01" fill="#138a72"/>
<rect x="857.14" y="198.66" width="0.70" height="3.91" fill="#138a72"/>
<rect x="856.89" y="199.15" width="1.20" height="3.01" fill="#138a72"/>
<rect x="859.02" y="199.22" width="0.70" height="3.97" fill="#dc4255"/>
<rect x="858.77" y="199.79" width="1.20" height="2.80" fill="#dc4255"/>
<rect x="860.89" y="199.21" width="0.70" height="3.97" fill="#dc4255"/>
<rect x="860.64" y="199.46" width="1.20" height="3.55" fill="#dc4255"/>
<rect x="862.77" y="198.62" width="0.70" height="3.90" fill="#138a72"/>
<rect x="862.52" y="199.53" width="1.20" height="2.43" fill="#138a72"/>
<rect x="864.65" y="199.03" width="0.70" height="4.42" fill="#138a72"/>
<rect x="864.40" y="200.10" width="1.20" height="2.12" fill="#138a72"/>
<rect x="866.53" y="199.47" width="0.70" height="4.96" fill="#dc4255"/>
<rect x="866.28" y="200.31" width="1.20" height="3.74" fill="#dc4255"/>
<rect x="868.40" y="199.11" width="0.70" height="4.52" fill="#dc4255"/>
<rect x="868.15" y="199.92" width="1.20" height="3.50" fill="#dc4255"/>
<rect x="870.28" y="198.68" width="0.70" height="4.00" fill="#dc4255"/>
<rect x="870.03" y="199.18" width="1.20" height="2.54" fill="#dc4255"/>
<rect x="872.16" y="199.55" width="0.70" height="4.90" fill="#dc4255"/>
<rect x="871.91" y="200.64" width="1.20" height="3.34" fill="#dc4255"/>
<rect x="874.03" y="200.76" width="0.70" height="5.77" fill="#dc4255"/>
<rect x="873.78" y="202.52" width="1.20" height="3.69" fill="#dc4255"/>
<rect x="875.91" y="202.01" width="0.70" height="5.15" fill="#dc4255"/>
<rect x="875.66" y="203.45" width="1.20" height="2.92" fill="#dc4255"/>
<rect x="877.79" y="201.74" width="0.70" height="5.28" fill="#dc4255"/>
<rect x="877.54" y="203.45" width="1.20" height="3.25" fill="#dc4255"/>
<rect x="879.66" y="200.49" width="0.70" height="5.90" fill="#138a72"/>
<rect x="879.41" y="201.38" width="1.20" height="4.31" fill="#138a72"/>
<rect x="881.54" y="199.26" width="0.70" height="5.90" fill="#138a72"/>
<rect x="881.29" y="200.52" width="1.20" height="4.09" fill="#138a72"/>
<rect x="883.42" y="196.83" width="0.70" height="6.47" fill="#138a72"/>
<rect x="883.17" y="198.87" width="1.20" height="2.28" fill="#138a72"/>
<rect x="885.30" y="193.01" width="0.70" height="7.70" fill="#138a72"/>
<rect x="885.05" y="195.50" width="1.20" height="3.13" fill="#138a72"/>
<rect x="887.17" y="192.70" width="0.70" height="6.71" fill="#138a72"/>
<rect x="886.92" y="194.35" width="1.20" height="3.10" fill="#138a72"/>
<rect x="889.05" y="192.29" width="0.70" height="6.31" fill="#138a72"/>
<rect x="888.80" y="193.32" width="1.20" height="3.80" fill="#138a72"/>
<rect x="890.93" y="190.99" width="0.70" height="7.61" fill="#138a72"/>
<rect x="890.68" y="192.03" width="1.20" height="4.32" fill="#138a72"/>
<rect x="892.80" y="191.67" width="0.70" height="7.85" fill="#138a72"/>
<rect x="892.55" y="193.85" width="1.20" height="3.73" fill="#138a72"/>
<rect x="894.68" y="193.15" width="0.70" height="7.35" fill="#dc4255"/>
<rect x="894.43" y="193.58" width="1.20" height="4.72" fill="#dc4255"/>
<rect x="896.56" y="195.67" width="0.70" height="4.83" fill="#dc4255"/>
<rect x="896.31" y="196.29" width="1.20" height="2.99" fill="#dc4255"/>
<rect x="898.44" y="197.01" width="0.70" height="4.31" fill="#dc4255"/>
<rect x="898.19" y="197.95" width="1.20" height="1.95" fill="#dc4255"/>
<rect x="900.31" y="197.65" width="0.70" height="4.85" fill="#dc4255"/>
<rect x="900.06" y="198.44" width="1.20" height="2.96" fill="#dc4255"/>
<rect x="902.19" y="198.28" width="0.70" height="4.22" fill="#138a72"/>
<rect x="901.94" y="198.91" width="1.20" height="2.26" fill="#138a72"/>
<rect x="904.07" y="198.60" width="0.70" height="4.53" fill="#138a72"/>
<rect x="903.82" y="199.18" width="1.20" height="2.57" fill="#138a72"/>
<rect x="905.94" y="198.60" width="0.70" height="5.83" fill="#dc4255"/>
<rect x="905.69" y="199.49" width="1.20" height="4.66" fill="#dc4255"/>
<rect x="907.82" y="199.72" width="0.70" height="5.90" fill="#dc4255"/>
<rect x="907.57" y="200.21" width="1.20" height="4.86" fill="#dc4255"/>
<rect x="909.70" y="200.95" width="0.70" height="5.68" fill="#dc4255"/>
<rect x="909.45" y="201.35" width="1.20" height="4.45" fill="#dc4255"/>
<rect x="911.57" y="202.24" width="0.70" height="5.03" fill="#dc4255"/>
<rect x="911.32" y="203.20" width="1.20" height="2.97" fill="#dc4255"/>
<rect x="913.45" y="203.25" width="0.70" height="4.52" fill="#dc4255"/>
<rect x="913.20" y="204.10" width="1.20" height="3.49" fill="#dc4255"/>
<rect x="915.33" y="204.19" width="0.70" height="4.06" fill="#dc4255"/>
<rect x="915.08" y="205.08" width="1.20" height="1.83" fill="#dc4255"/>
<rect x="917.21" y="198.53" width="0.70" height="9.87" fill="#dc4255"/>
<rect x="916.96" y="201.36" width="1.20" height="6.61" fill="#dc4255"/>
<rect x="919.08" y="189.80" width="0.70" height="17.47" fill="#138a72"/>
<rect x="918.83" y="191.16" width="1.20" height="13.20" fill="#138a72"/>
<rect x="920.96" y="182.10" width="0.70" height="15.82" fill="#138a72"/>
<rect x="920.71" y="186.92" width="1.20" height="6.36" fill="#138a72"/>
<rect x="922.84" y="168.74" width="0.70" height="17.53" fill="#138a72"/>
<rect x="922.59" y="174.23" width="1.20" height="8.28" fill="#138a72"/>
<rect x="924.71" y="163.29" width="0.70" height="11.62" fill="#138a72"/>
<rect x="924.46" y="166.18" width="1.20" height="7.65" fill="#138a72"/>
<rect x="926.59" y="163.50" width="0.70" height="8.59" fill="#dc4255"/>
<rect x="926.34" y="167.79" width="1.20" height="3.35" fill="#dc4255"/>
<rect x="928.47" y="166.91" width="0.70" height="5.09" fill="#dc4255"/>
<rect x="928.22" y="167.42" width="1.20" height="3.06" fill="#dc4255"/>
<rect x="930.34" y="167.85" width="0.70" height="5.85" fill="#dc4255"/>
<rect x="930.09" y="168.75" width="1.20" height="3.37" fill="#dc4255"/>
<rect x="932.22" y="169.12" width="0.70" height="5.44" fill="#dc4255"/>
<rect x="931.97" y="169.43" width="1.20" height="3.30" fill="#dc4255"/>
<rect x="934.10" y="165.00" width="0.70" height="11.47" fill="#dc4255"/>
<rect x="933.85" y="172.40" width="1.20" height="3.01" fill="#dc4255"/>
<rect x="935.98" y="174.33" width="0.70" height="6.11" fill="#dc4255"/>
<rect x="935.73" y="175.78" width="1.20" height="2.90" fill="#dc4255"/>
<rect x="937.85" y="176.20" width="0.70" height="6.73" fill="#dc4255"/>
<rect x="937.60" y="176.58" width="1.20" height="4.55" fill="#dc4255"/>
<rect x="939.73" y="178.93" width="0.70" height="6.88" fill="#dc4255"/>
<rect x="939.48" y="181.17" width="1.20" height="3.81" fill="#dc4255"/>
<rect x="941.61" y="181.73" width="0.70" height="6.87" fill="#dc4255"/>
<rect x="941.36" y="183.33" width="1.20" height="3.08" fill="#dc4255"/>
<rect x="943.48" y="178.49" width="0.70" height="8.87" fill="#138a72"/>
<rect x="943.23" y="179.75" width="1.20" height="6.98" fill="#138a72"/>
<rect x="945.36" y="176.33" width="0.70" height="9.16" fill="#138a72"/>
<rect x="945.11" y="178.53" width="1.20" height="4.52" fill="#138a72"/>
<rect x="947.24" y="175.08" width="0.70" height="7.97" fill="#138a72"/>
<rect x="946.99" y="176.19" width="1.20" height="4.59" fill="#138a72"/>
<rect x="949.11" y="172.00" width="0.70" height="10.00" fill="#dc4255"/>
<rect x="948.86" y="176.18" width="1.20" height="4.88" fill="#dc4255"/>
<rect x="950.99" y="176.90" width="0.70" height="6.24" fill="#dc4255"/>
<rect x="950.74" y="178.22" width="1.20" height="3.91" fill="#dc4255"/>
<rect x="952.87" y="180.29" width="0.70" height="6.04" fill="#dc4255"/>
<rect x="952.62" y="181.29" width="1.20" height="3.10" fill="#dc4255"/>
<rect x="954.75" y="184.00" width="0.70" height="4.63" fill="#dc4255"/>
<rect x="954.50" y="185.07" width="1.20" height="3.00" fill="#dc4255"/>
<rect x="956.62" y="184.00" width="0.70" height="3.24" fill="#138a72"/>
<rect x="956.37" y="184.97" width="1.20" height="1.88" fill="#138a72"/>
<rect x="958.50" y="184.64" width="0.70" height="2.36" fill="#138a72"/>
<rect x="958.25" y="185.02" width="1.20" height="1.23" fill="#138a72"/>
<rect x="6.55" y="294.00" width="0.70" height="16.00" fill="#138a72"/>
<rect x="6.30" y="295.65" width="1.20" height="9.63" fill="#138a72"/>
<rect x="8.24" y="290.44" width="0.70" height="12.44" fill="#138a72"/>
<rect x="7.99" y="292.60" width="1.20" height="8.43" fill="#138a72"/>
<rect x="9.93" y="285.94" width="0.70" height="11.63" fill="#138a72"/>
<rect x="9.68" y="287.17" width="1.20" height="9.93" fill="#138a72"/>
<rect x="11.62" y="282.17" width="0.70" height="11.50" fill="#dc4255"/>
<rect x="11.37" y="282.85" width="1.20" height="8.52" fill="#dc4255"/>
<rect x="13.31" y="282.30" width="0.70" height="13.30" fill="#dc4255"/>
<rect x="13.06" y="285.05" width="1.20" height="8.15" fill="#dc4255"/>
<rect x="15.00" y="285.63" width="0.70" height="14.37" fill="#dc4255"/>
<rect x="14.75" y="288.89" width="1.20" height="6.31" fill="#dc4255"/>
<rect x="16.68" y="285.11" width="0.70" height="13.29" fill="#dc4255"/>
<rect x="16.43" y="286.20" width="1.20" height="11.11" fill="#dc4255"/>
<rect x="18.37" y="267.80" width="0.70" height="24.20" fill="#138a72"/>
<rect x="18.12" y="272.96" width="1.20" height="13.68" fill="#138a72"/>
<rect x="20.06" y="274.21" width="0.70" height="16.19" fill="#dc4255"/>
<rect x="19.81" y="275.67" width="1.20" height="10.39" fill="#dc4255"/>
<rect x="21.75" y="280.53" width="0.70" height="9.87" fill="#138a72"/>
<rect x="21.50" y="281.75" width="1.20" height="7.79" fill="#138a72"/>
<rect x="23.44" y="270.70" width="0.70" height="19.30" fill="#138a72"/>
<rect x="23.19" y="281.68" width="1.20" height="6.38" fill="#138a72"/>
<rect x="25.13" y="278.60" width="0.70" height="11.60" fill="#138a72"/>
<rect x="24.88" y="279.16" width="1.20" height="8.21" fill="#138a72"/>
<rect x="26.82" y="281.21" width="0.70" height="14.33" fill="#dc4255"/>
<rect x="26.57" y="283.50" width="1.20" height="9.18" fill="#dc4255"/>
<rect x="28.51" y="288.47" width="0.70" height="14.24" fill="#dc4255"/>
<rect x="28.26" y="292.26" width="1.20" height="6.86" fill="#dc4255"/>
<rect x="30.20" y="298.05" width="0.70" height="8.05" fill="#dc4255"/>
<rect x="29.95" y="299.42" width="1.20" height="6.35" fill="#dc4255"/>
<rect x="31.88" y="299.83" width="0.70" height="9.83" fill="#dc4255"/>
<rect x="31.63" y="301.80" width="1.20" height="6.66" fill="#dc4255"/>
<rect x="33.57" y="289.64" width="0.70" height="18.84" fill="#138a72"/>
<rect x="33.32" y="293.71" width="1.20" height="10.67" fill="#138a72"/>
<rect x="35.26" y="287.68" width="0.70" height="15.22" fill="#dc4255"/>
<rect x="35.01" y="288.85" width="1.20" height="9.69" fill="#dc4255"/>
<rect x="36.95" y="291.36" width="0.70" height="12.65" fill="#dc4255"/>
<rect x="36.70" y="294.75" width="1.20" height="8.63" fill="#dc4255"/>
<rect x="38.64" y="296.96" width="0.70" height="12.42" fill="#dc4255"/>
<rect x="38.39" y="297.53" width="1.20" height="10.29" fill="#dc4255"/>
<rect x="40.33" y="301.60" width="0.70" height="9.60" fill="#dc4255"/>
<rect x="40.08" y="302.96" width="1.20" height="5.40" fill="#dc4255"/>
<rect x="42.02" y="299.66" width="0.70" height="8.17" fill="#138a72"/>
<rect x="41.77" y="301.82" width="1.20" height="3.69" fill="#138a72"/>
<rect x="43.71" y="296.28" width="0.70" height="9.86" fill="#138a72"/>
<rect x="43.46" y="297.06" width="1.20" height="6.95" fill="#138a72"/>
<rect x="45.40" y="300.64" width="0.70" height="8.45" fill="#dc4255"/>
<rect x="45.15" y="302.49" width="1.20" height="4.39" fill="#dc4255"/>
<rect x="47.09" y="303.70" width="0.70" height="8.00" fill="#dc4255"/>
<rect x="46.84" y="305.84" width="1.20" height="5.06" fill="#dc4255"/>
<rect x="48.77" y="306.05" width="0.70" height="8.00" fill="#dc4255"/>
<rect x="48.52" y="308.52" width="1.20" height="5.17" fill="#dc4255"/>
<rect x="50.46" y="309.61" width="0.70" height="8.00" fill="#dc4255"/>
<rect x="50.21" y="311.13" width="1.20" height="5.43" fill="#dc4255"/>
<rect x="52.15" y="308.50" width="0.70" height="6.50" fill="#138a72"/>
<rect x="51.90" y="310.37" width="1.20" height="2.47" fill="#138a72"/>
<rect x="53.84" y="306.41" width="0.70" height="6.79" fill="#138a72"/>
<rect x="53.59" y="307.79" width="1.20" height="4.10" fill="#138a72"/>
<rect x="55.53" y="304.16" width="0.70" height="7.92" fill="#138a72"/>
<rect x="55.28" y="306.62" width="1.20" height="2.85" fill="#138a72"/>
<rect x="57.22" y="302.95" width="0.70" height="8.00" fill="#138a72"/>
<rect x="56.97" y="303.94" width="1.20" height="4.49" fill="#138a72"/>
<rect x="58.91" y="301.31" width="0.70" height="8.35" fill="#138a72"/>
<rect x="58.66" y="301.98" width="1.20" height="5.77" fill="#138a72"/>
<rect x="60.60" y="296.81" width="0.70" height="10.60" fill="#138a72"/>
<rect x="60.35" y="300.20" width="1.20" height="5.21" fill="#138a72"/>
<rect x="62.29" y="292.79" width="0.70" height="11.20" fill="#138a72"/>
<rect x="62.04" y="293.88" width="1.20" height="6.40" fill="#138a72"/>
<rect x="63.98" y="288.67" width="0.70" height="10.45" fill="#138a72"/>
<rect x="63.73" y="290.62" width="1.20" height="6.19" fill="#138a72"/>
<rect x="65.67" y="281.79" width="0.70" height="13.83" fill="#138a72"/>
<rect x="65.42" y="282.55" width="1.20" height="8.58" fill="#138a72"/>
<rect x="67.35" y="277.70" width="0.70" height="12.87" fill="#138a72"/>
<rect x="67.10" y="281.97" width="1.20" height="5.55" fill="#138a72"/>
<rect x="69.04" y="276.60" width="0.70" height="9.21" fill="#138a72"/>
<rect x="68.79" y="277.88" width="1.20" height="6.56" fill="#138a72"/>
<rect x="70.73" y="270.70" width="0.70" height="15.30" fill="#dc4255"/>
<rect x="70.48" y="279.36" width="1.20" height="4.18" fill="#dc4255"/>
<rect x="72.42" y="282.71" width="0.70" height="9.73" fill="#dc4255"/>
<rect x="72.17" y="285.09" width="1.20" height="4.39" fill="#dc4255"/>
<rect x="74.11" y="287.69" width="0.70" height="8.13" fill="#dc4255"/>
<rect x="73.86" y="289.80" width="1.20" height="3.90" fill="#dc4255"/>
<rect x="75.80" y="284.45" width="0.70" height="10.85" fill="#dc4255"/>
<rect x="75.55" y="287.10" width="1.20" height="6.49" fill="#dc4255"/>
<rect x="77.49" y="280.27" width="0.70" height="13.09" fill="#138a72"/>
<rect x="77.24" y="284.40" width="1.20" height="7.13" fill="#138a72"/>
<rect x="79.18" y="274.60" width="0.70" height="13.40" fill="#138a72"/>
<rect x="78.93" y="280.83" width="1.20" height="4.56" fill="#138a72"/>
<rect x="80.87" y="280.22" width="0.70" height="11.20" fill="#dc4255"/>
<rect x="80.62" y="281.99" width="1.20" height="6.09" fill="#dc4255"/>
<rect x="82.56" y="286.05" width="0.70" height="9.06" fill="#dc4255"/>
<rect x="82.31" y="287.34" width="1.20" height="6.41" fill="#dc4255"/>
<rect x="84.24" y="290.53" width="0.70" height="8.88" fill="#dc4255"/>
<rect x="83.99" y="291.86" width="1.20" height="5.41" fill="#dc4255"/>
<rect x="85.93" y="294.65" width="0.70" height="11.47" fill="#dc4255"/>
<rect x="85.68" y="298.10" width="1.20" height="4.22" fill="#dc4255"/>
<rect x="87.62" y="300.29" width="0.70" height="12.28" fill="#dc4255"/>
<rect x="87.37" y="302.62" width="1.20" height="8.52" fill="#dc4255"/>
<rect x="89.31" y="306.26" width="0.70" height="8.26" fill="#dc4255"/>
<rect x="89.06" y="307.02" width="1.20" height="5.36" fill="#dc4255"/>
<rect x="91.00" y="307.95" width="0.70" height="9.95" fill="#dc4255"/>
<rect x="90.75" y="309.84" width="1.20" height="4.88" fill="#dc4255"/>
<rect x="92.69" y="309.73" width="0.70" height="8.27" fill="#138a72"/>
<rect x="92.44" y="310.70" width="1.20" height="5.90" fill="#138a72"/>
<rect x="94.38" y="310.00" width="0.70" height="7.05" fill="#138a72"/>
<rect x="94.13" y="310.86" width="1.20" height="5.56" fill="#138a72"/>
<rect x="96.07" y="310.00" width="0.70" height="6.08" fill="#138a72"/>
<rect x="95.82" y="310.75" width="1.20" height="4.64" fill="#138a72"/>
<rect x="97.76" y="310.00" width="0.70" height="7.25" fill="#dc4255"/>
<rect x="97.51" y="311.48" width="1.20" height="5.43" fill="#dc4255"/>
<rect x="99.45" y="307.02" width="0.70" height="9.79" fill="#dc4255"/>
<rect x="99.20" y="310.31" width="1.20" height="3.43" fill="#dc4255"/>
<rect x="101.13" y="300.00" width="0.70" height="12.80" fill="#138a72"/>
<rect x="100.88" y="300.93" width="1.20" height="10.09" fill="#138a72"/>
<rect x="102.82" y="300.00" width="0.70" height="6.00" fill="#138a72"/>
<rect x="102.57" y="301.38" width="1.20" height="3.27" fill="#138a72"/>
<rect x="104.51" y="300.00" width="0.70" height="6.00" fill="#dc4255"/>
<rect x="104.26" y="300.98" width="1.20" height="3.49" fill="#dc4255"/>
<rect x="106.20" y="300.00" width="0.70" height="6.37" fill="#dc4255"/>
<rect x="105.95" y="300.53" width="1.20" height="4.18" fill="#dc4255"/>
<rect x="107.89" y="300.00" width="0.70" height="7.49" fill="#138a72"/>
<rect x="107.64" y="301.59" width="1.20" height="4.38" fill="#138a72"/>
<rect x="109.58" y="300.93" width="0.70" height="8.00" fill="#138a72"/>
<rect x="109.33" y="302.94" width="1.20" height="5.50" fill="#138a72"/>
<rect x="111.27" y="302.82" width="0.70" height="7.59" fill="#dc4255"/>
<rect x="111.02" y="304.78" width="1.20" height="4.47" fill="#dc4255"/>
<rect x="112.96" y="305.08" width="0.70" height="6.46" fill="#dc4255"/>
<rect x="112.71" y="306.60" width="1.20" height="4.09" fill="#dc4255"/>
<rect x="114.65" y="306.00" width="0.70" height="22.33" fill="#dc4255"/>
<rect x="114.40" y="309.89" width="1.20" height="14.18" fill="#dc4255"/>
<rect x="116.34" y="304.00" width="0.70" height="120.00" fill="#dc4255"/>
<rect x="116.09" y="321.90" width="1.20" height="22.34" fill="#dc4255"/>
<rect x="118.02" y="336.64" width="0.70" height="17.99" fill="#dc4255"/>
<rect x="117.77" y="340.16" width="1.20" height="10.68" fill="#dc4255"/>
<rect x="119.71" y="338.61" width="0.70" height="12.92" fill="#138a72"/>
<rect x="119.46" y="341.95" width="1.20" height="5.99" fill="#138a72"/>
<rect x="121.40" y="336.65" width="0.70" height="11.90" fill="#138a72"/>
<rect x="121.15" y="338.20" width="1.20" height="7.69" fill="#138a72"/>
<rect x="123.09" y="339.02" width="0.70" height="10.47" fill="#138a72"/>
<rect x="122.84" y="341.74" width="1.20" height="4.43" fill="#138a72"/>
<rect x="124.78" y="343.30" width="0.70" height="11.37" fill="#dc4255"/>
<rect x="124.53" y="343.95" width="1.20" height="9.03" fill="#dc4255"/>
<rect x="126.47" y="349.85" width="0.70" height="9.57" fill="#dc4255"/>
<rect x="126.22" y="352.17" width="1.20" height="6.69" fill="#dc4255"/>
<rect x="128.16" y="354.83" width="0.70" height="6.27" fill="#dc4255"/>
<rect x="127.91" y="356.48" width="1.20" height="3.00" fill="#dc4255"/>
<rect x="129.85" y="355.40" width="0.70" height="5.90" fill="#138a72"/>
<rect x="129.60" y="356.96" width="1.20" height="3.13" fill="#138a72"/>
<rect x="131.54" y="355.40" width="0.70" height="5.71" fill="#138a72"/>
<rect x="131.29" y="356.24" width="1.20" height="4.41" fill="#138a72"/>
<rect x="133.23" y="355.40" width="0.70" height="4.58" fill="#138a72"/>
<rect x="132.98" y="356.90" width="1.20" height="1.95" fill="#138a72"/>
<rect x="134.91" y="356.06" width="0.70" height="5.93" fill="#138a72"/>
<rect x="134.66" y="357.31" width="1.20" height="2.87" fill="#138a72"/>
<rect x="136.60" y="357.30" width="0.70" height="9.13" fill="#dc4255"/>
<rect x="136.35" y="359.83" width="1.20" height="4.63" fill="#dc4255"/>
<rect x="138.29" y="357.30" width="0.70" height="6.99" fill="#138a72"/>
<rect x="138.04" y="359.21" width="1.20" height="4.30" fill="#138a72"/>
<rect x="139.98" y="356.18" width="0.70" height="5.90" fill="#138a72"/>
<rect x="139.73" y="356.77" width="1.20" height="3.74" fill="#138a72"/>
<rect x="141.67" y="353.91" width="0.70" height="5.90" fill="#138a72"/>
<rect x="141.42" y="355.74" width="1.20" height="3.50" fill="#138a72"/>
<rect x="143.36" y="352.53" width="0.70" height="5.90" fill="#138a72"/>
<rect x="143.11" y="354.33" width="1.20" height="2.44" fill="#138a72"/>
<rect x="145.05" y="351.40" width="0.70" height="5.90" fill="#dc4255"/>
<rect x="144.80" y="352.03" width="1.20" height="4.28" fill="#dc4255"/>
<rect x="146.74" y="353.73" width="0.70" height="4.74" fill="#dc4255"/>
<rect x="146.49" y="354.99" width="1.20" height="2.08" fill="#dc4255"/>
<rect x="148.43" y="355.85" width="0.70" height="4.85" fill="#dc4255"/>
<rect x="148.18" y="356.68" width="1.20" height="3.81" fill="#dc4255"/>
<rect x="150.12" y="357.13" width="0.70" height="7.89" fill="#dc4255"/>
<rect x="149.87" y="358.04" width="1.20" height="5.93" fill="#dc4255"/>
<rect x="151.80" y="355.45" width="0.70" height="7.80" fill="#138a72"/>
<rect x="151.55" y="356.22" width="1.20" height="6.34" fill="#138a72"/>
<rect x="153.49" y="356.96" width="0.70" height="4.68" fill="#dc4255"/>
<rect x="153.24" y="357.61" width="1.20" height="2.55" fill="#dc4255"/>
<rect x="155.18" y="358.25" width="0.70" height="11.47" fill="#dc4255"/>
<rect x="154.93" y="359.83" width="1.20" height="6.31" fill="#dc4255"/>
<rect x="156.87" y="360.81" width="0.70" height="18.63" fill="#dc4255"/>
<rect x="156.62" y="363.09" width="1.20" height="13.11" fill="#dc4255"/>
<rect x="158.56" y="372.38" width="0.70" height="10.44" fill="#dc4255"/>
<rect x="158.31" y="373.44" width="1.20" height="7.54" fill="#dc4255"/>
<rect x="160.25" y="373.00" width="0.70" height="6.80" fill="#138a72"/>
<rect x="160.00" y="374.22" width="1.20" height="3.45" fill="#138a72"/>
<rect x="161.94" y="369.14" width="0.70" height="8.58" fill="#138a72"/>
<rect x="161.69" y="371.12" width="1.20" height="5.80" fill="#138a72"/>
<rect x="163.63" y="364.22" width="0.70" height="9.85" fill="#138a72"/>
<rect x="163.38" y="364.70" width="1.20" height="6.94" fill="#138a72"/>
<rect x="165.32" y="360.63" width="0.70" height="9.70" fill="#138a72"/>
<rect x="165.07" y="362.35" width="1.20" height="7.59" fill="#138a72"/>
<rect x="167.01" y="359.30" width="0.70" height="9.70" fill="#138a72"/>
<rect x="166.76" y="360.23" width="1.20" height="6.39" fill="#138a72"/>
<rect x="168.69" y="359.42" width="0.70" height="9.67" fill="#dc4255"/>
<rect x="168.44" y="362.48" width="1.20" height="5.21" fill="#dc4255"/>
<rect x="170.38" y="363.90" width="0.70" height="8.68" fill="#dc4255"/>
<rect x="170.13" y="366.12" width="1.20" height="5.34" fill="#dc4255"/>
<rect x="172.07" y="367.72" width="0.70" height="8.00" fill="#dc4255"/>
<rect x="171.82" y="370.12" width="1.20" height="3.64" fill="#dc4255"/>
<rect x="173.76" y="370.05" width="0.70" height="8.00" fill="#dc4255"/>
<rect x="173.51" y="372.21" width="1.20" height="3.71" fill="#dc4255"/>
<rect x="175.45" y="372.33" width="0.70" height="8.00" fill="#dc4255"/>
<rect x="175.20" y="372.88" width="1.20" height="5.41" fill="#dc4255"/>
<rect x="177.14" y="374.59" width="0.70" height="8.00" fill="#dc4255"/>
<rect x="176.89" y="376.51" width="1.20" height="3.84" fill="#dc4255"/>
<rect x="178.83" y="377.85" width="0.70" height="6.95" fill="#dc4255"/>
<rect x="178.58" y="380.08" width="1.20" height="2.90" fill="#dc4255"/>
<rect x="180.52" y="381.11" width="0.70" height="5.69" fill="#dc4255"/>
<rect x="180.27" y="382.16" width="1.20" height="4.12" fill="#dc4255"/>
<rect x="182.21" y="382.18" width="0.70" height="4.62" fill="#138a72"/>
<rect x="181.96" y="382.95" width="1.20" height="3.49" fill="#138a72"/>
<rect x="183.90" y="383.26" width="0.70" height="4.65" fill="#138a72"/>
<rect x="183.65" y="384.26" width="1.20" height="3.31" fill="#138a72"/>
<rect x="185.58" y="384.36" width="0.70" height="6.98" fill="#dc4255"/>
<rect x="185.33" y="385.57" width="1.20" height="4.00" fill="#dc4255"/>
<rect x="187.27" y="387.82" width="0.70" height="5.91" fill="#dc4255"/>
<rect x="187.02" y="389.27" width="1.20" height="3.50" fill="#dc4255"/>
<rect x="188.96" y="390.23" width="0.70" height="4.47" fill="#dc4255"/>
<rect x="188.71" y="390.42" width="1.20" height="3.63" fill="#dc4255"/>
<rect x="190.65" y="389.13" width="0.70" height="5.57" fill="#138a72"/>
<rect x="190.40" y="390.69" width="1.20" height="3.17" fill="#138a72"/>
<rect x="192.34" y="388.80" width="0.70" height="5.11" fill="#138a72"/>
<rect x="192.09" y="390.32" width="1.20" height="3.35" fill="#138a72"/>
<rect x="194.03" y="388.80" width="0.70" height="3.98" fill="#138a72"/>
<rect x="193.78" y="389.31" width="1.20" height="3.21" fill="#138a72"/>
<rect x="195.72" y="388.40" width="0.70" height="3.90" fill="#138a72"/>
<rect x="195.47" y="389.37" width="1.20" height="2.19" fill="#138a72"/>
<rect x="197.41" y="387.96" width="0.70" height="3.90" fill="#dc4255"/>
<rect x="197.16" y="388.25" width="1.20" height="2.70" fill="#dc4255"/>
<rect x="199.10" y="388.07" width="0.70" height="3.90" fill="#dc4255"/>
<rect x="198.85" y="388.77" width="1.20" height="2.02" fill="#dc4255"/>
<rect x="200.79" y="388.50" width="0.70" height="3.90" fill="#138a72"/>
<rect x="200.54" y="388.89" width="1.20" height="2.40" fill="#138a72"/>
<rect x="202.47" y="388.80" width="0.70" height="4.93" fill="#138a72"/>
<rect x="202.22" y="390.34" width="1.20" height="2.18" fill="#138a72"/>
<rect x="204.16" y="388.80" width="0.70" height="8.25" fill="#138a72"/>
<rect x="203.91" y="389.83" width="1.20" height="4.75" fill="#138a72"/>
<rect x="205.85" y="388.80" width="0.70" height="8.59" fill="#138a72"/>
<rect x="205.60" y="391.43" width="1.20" height="3.10" fill="#138a72"/>
<rect x="207.54" y="388.80" width="0.70" height="6.32" fill="#dc4255"/>
<rect x="207.29" y="389.18" width="1.20" height="4.75" fill="#dc4255"/>
<rect x="209.23" y="390.59" width="0.70" height="4.98" fill="#dc4255"/>
<rect x="208.98" y="392.03" width="1.20" height="2.15" fill="#dc4255"/>
<rect x="210.92" y="392.70" width="0.70" height="3.90" fill="#dc4255"/>
<rect x="210.67" y="393.99" width="1.20" height="1.46" fill="#dc4255"/>
<rect x="212.61" y="392.70" width="0.70" height="3.90" fill="#138a72"/>
<rect x="212.36" y="393.18" width="1.20" height="3.06" fill="#138a72"/>
<rect x="214.30" y="391.59" width="0.70" height="4.65" fill="#138a72"/>
<rect x="214.05" y="392.48" width="1.20" height="3.57" fill="#138a72"/>
<rect x="215.99" y="388.15" width="0.70" height="6.98" fill="#138a72"/>
<rect x="215.74" y="389.73" width="1.20" height="3.56" fill="#138a72"/>
<rect x="217.68" y="385.77" width="0.70" height="7.90" fill="#138a72"/>
<rect x="217.43" y="387.43" width="1.20" height="5.76" fill="#138a72"/>
<rect x="219.36" y="381.00" width="0.70" height="13.00" fill="#138a72"/>
<rect x="219.11" y="387.87" width="1.20" height="3.90" fill="#138a72"/>
<rect x="221.05" y="387.59" width="0.70" height="7.63" fill="#dc4255"/>
<rect x="220.80" y="389.20" width="1.20" height="5.25" fill="#dc4255"/>
<rect x="222.74" y="390.91" width="0.70" height="6.51" fill="#dc4255"/>
<rect x="222.49" y="392.74" width="1.20" height="3.17" fill="#dc4255"/>
<rect x="224.43" y="393.75" width="0.70" height="5.36" fill="#dc4255"/>
<rect x="224.18" y="394.14" width="1.20" height="3.41" fill="#dc4255"/>
<rect x="226.12" y="396.02" width="0.70" height="4.20" fill="#dc4255"/>
<rect x="225.87" y="396.39" width="1.20" height="3.53" fill="#dc4255"/>
<rect x="227.81" y="397.47" width="0.70" height="4.77" fill="#dc4255"/>
<rect x="227.56" y="398.68" width="1.20" height="2.77" fill="#dc4255"/>
<rect x="229.50" y="398.62" width="0.70" height="5.91" fill="#dc4255"/>
<rect x="229.25" y="399.98" width="1.20" height="4.13" fill="#dc4255"/>
<rect x="231.19" y="399.41" width="0.70" height="6.19" fill="#dc4255"/>
<rect x="230.94" y="399.78" width="1.20" height="5.26" fill="#dc4255"/>
<rect x="232.88" y="401.07" width="0.70" height="5.80" fill="#dc4255"/>
<rect x="232.63" y="402.81" width="1.20" height="2.19" fill="#dc4255"/>
<rect x="234.57" y="403.00" width="0.70" height="4.42" fill="#138a72"/>
<rect x="234.32" y="403.44" width="1.20" height="3.61" fill="#138a72"/>
<rect x="236.25" y="403.00" width="0.70" height="3.90" fill="#138a72"/>
<rect x="236.00" y="403.52" width="1.20" height="2.36" fill="#138a72"/>
<rect x="237.94" y="403.00" width="0.70" height="3.36" fill="#dc4255"/>
<rect x="237.69" y="403.48" width="1.20" height="2.09" fill="#dc4255"/>
<rect x="239.63" y="403.29" width="0.70" height="3.02" fill="#dc4255"/>
<rect x="239.38" y="403.79" width="1.20" height="1.77" fill="#dc4255"/>
<rect x="241.32" y="404.14" width="0.70" height="3.07" fill="#dc4255"/>
<rect x="241.07" y="404.86" width="1.20" height="1.93" fill="#dc4255"/>
<rect x="243.01" y="404.60" width="0.70" height="3.10" fill="#dc4255"/>
<rect x="242.76" y="405.20" width="1.20" height="1.94" fill="#dc4255"/>
<rect x="244.70" y="404.60" width="0.70" height="3.10" fill="#138a72"/>
<rect x="244.45" y="405.11" width="1.20" height="1.88" fill="#138a72"/>
<rect x="246.39" y="403.16" width="0.70" height="3.78" fill="#138a72"/>
<rect x="246.14" y="403.97" width="1.20" height="1.72" fill="#138a72"/>
<rect x="248.08" y="401.40" width="0.70" height="4.41" fill="#138a72"/>
<rect x="247.83" y="401.87" width="1.20" height="3.27" fill="#138a72"/>
<rect x="249.77" y="401.40" width="0.70" height="3.67" fill="#dc4255"/>
<rect x="249.52" y="402.30" width="1.20" height="2.24" fill="#dc4255"/>
<rect x="251.46" y="401.70" width="0.70" height="3.05" fill="#dc4255"/>
<rect x="251.21" y="402.22" width="1.20" height="1.81" fill="#dc4255"/>
<rect x="253.14" y="402.55" width="0.70" height="2.63" fill="#dc4255"/>
<rect x="252.89" y="403.30" width="1.20" height="1.05" fill="#dc4255"/>
<rect x="254.83" y="401.94" width="0.70" height="3.66" fill="#dc4255"/>
<rect x="254.58" y="403.05" width="1.20" height="2.24" fill="#dc4255"/>
<rect x="256.52" y="399.66" width="0.70" height="6.11" fill="#138a72"/>
<rect x="256.27" y="400.44" width="1.20" height="5.08" fill="#138a72"/>
<rect x="258.21" y="397.31" width="0.70" height="6.26" fill="#138a72"/>
<rect x="257.96" y="398.12" width="1.20" height="4.25" fill="#138a72"/>
<rect x="259.90" y="395.81" width="0.70" height="5.62" fill="#138a72"/>
<rect x="259.65" y="396.89" width="1.20" height="4.27" fill="#138a72"/>
<rect x="261.59" y="394.33" width="0.70" height="5.29" fill="#138a72"/>
<rect x="261.34" y="394.81" width="1.20" height="3.33" fill="#138a72"/>
<rect x="263.28" y="392.22" width="0.70" height="6.21" fill="#138a72"/>
<rect x="263.03" y="393.12" width="1.20" height="3.81" fill="#138a72"/>
<rect x="264.97" y="391.00" width="0.70" height="8.00" fill="#dc4255"/>
<rect x="264.72" y="394.61" width="1.20" height="2.12" fill="#dc4255"/>
<rect x="266.66" y="395.76" width="0.70" height="3.72" fill="#dc4255"/>
<rect x="266.41" y="396.87" width="1.20" height="2.20" fill="#dc4255"/>
<rect x="268.34" y="397.20" width="0.70" height="3.02" fill="#dc4255"/>
<rect x="268.09" y="398.11" width="1.20" height="1.21" fill="#dc4255"/>
<rect x="270.03" y="398.04" width="0.70" height="2.55" fill="#dc4255"/>
<rect x="269.78" y="398.24" width="1.20" height="1.85" fill="#dc4255"/>
<rect x="271.72" y="398.56" width="0.70" height="2.40" fill="#dc4255"/>
<rect x="271.47" y="398.93" width="1.20" height="1.73" fill="#dc4255"/>
<rect x="273.41" y="398.95" width="0.70" height="2.40" fill="#dc4255"/>
<rect x="273.16" y="399.37" width="1.20" height="1.46" fill="#dc4255"/>
<rect x="275.10" y="397.96" width="0.70" height="3.44" fill="#dc4255"/>
<rect x="274.85" y="398.19" width="1.20" height="2.89" fill="#dc4255"/>
<rect x="276.79" y="396.74" width="0.70" height="4.66" fill="#138a72"/>
<rect x="276.54" y="397.71" width="1.20" height="2.56" fill="#138a72"/>
<rect x="278.48" y="397.54" width="0.70" height="3.86" fill="#138a72"/>
<rect x="278.23" y="397.88" width="1.20" height="2.33" fill="#138a72"/>
<rect x="280.17" y="398.41" width="0.70" height="3.10" fill="#138a72"/>
<rect x="279.92" y="399.34" width="1.20" height="1.30" fill="#138a72"/>
<rect x="281.86" y="399.25" width="0.70" height="3.10" fill="#dc4255"/>
<rect x="281.61" y="399.93" width="1.20" height="2.19" fill="#dc4255"/>
<rect x="283.55" y="400.16" width="0.70" height="3.36" fill="#dc4255"/>
<rect x="283.30" y="400.82" width="1.20" height="2.20" fill="#dc4255"/>
<rect x="285.23" y="401.26" width="0.70" height="4.46" fill="#dc4255"/>
<rect x="284.98" y="402.59" width="1.20" height="2.54" fill="#dc4255"/>
<rect x="286.92" y="404.23" width="0.70" height="3.31" fill="#dc4255"/>
<rect x="286.67" y="404.89" width="1.20" height="2.18" fill="#dc4255"/>
<rect x="288.61" y="406.00" width="0.70" height="2.50" fill="#dc4255"/>
<rect x="288.36" y="406.25" width="1.20" height="1.82" fill="#dc4255"/>
<rect x="290.30" y="406.00" width="0.70" height="2.50" fill="#138a72"/>
<rect x="290.05" y="406.84" width="1.20" height="1.20" fill="#138a72"/>
<rect x="291.99" y="406.33" width="0.70" height="2.43" fill="#138a72"/>
<rect x="291.74" y="406.79" width="1.20" height="1.34" fill="#138a72"/>
<rect x="293.68" y="406.85" width="0.70" height="2.33" fill="#dc4255"/>
<rect x="293.43" y="407.25" width="1.20" height="1.64" fill="#dc4255"/>
<rect x="295.37" y="407.28" width="0.70" height="2.02" fill="#dc4255"/>
<rect x="295.12" y="407.66" width="1.20" height="1.00" fill="#dc4255"/>
<rect x="297.06" y="407.66" width="0.70" height="1.64" fill="#138a72"/>
<rect x="296.81" y="407.85" width="1.20" height="1.19" fill="#138a72"/>
<rect x="298.75" y="407.37" width="0.70" height="1.93" fill="#138a72"/>
<rect x="298.50" y="407.53" width="1.20" height="1.45" fill="#138a72"/>
<rect x="300.44" y="407.00" width="0.70" height="2.30" fill="#138a72"/>
<rect x="300.19" y="407.59" width="1.20" height="1.00" fill="#138a72"/>
<rect x="302.12" y="407.51" width="0.70" height="5.21" fill="#dc4255"/>
<rect x="301.87" y="408.10" width="1.20" height="4.02" fill="#dc4255"/>
<rect x="303.81" y="409.83" width="0.70" height="6.26" fill="#dc4255"/>
<rect x="303.56" y="411.38" width="1.20" height="4.24" fill="#dc4255"/>
<rect x="305.50" y="413.19" width="0.70" height="6.02" fill="#dc4255"/>
<rect x="305.25" y="414.88" width="1.20" height="2.65" fill="#dc4255"/>
<rect x="307.19" y="416.50" width="0.70" height="5.13" fill="#dc4255"/>
<rect x="306.94" y="417.45" width="1.20" height="3.18" fill="#dc4255"/>
<rect x="308.88" y="417.00" width="0.70" height="3.99" fill="#138a72"/>
<rect x="308.63" y="417.25" width="1.20" height="3.52" fill="#138a72"/>
<rect x="310.57" y="416.37" width="0.70" height="3.21" fill="#138a72"/>
<rect x="310.32" y="416.89" width="1.20" height="1.92" fill="#138a72"/>
<rect x="312.26" y="416.11" width="0.70" height="3.80" fill="#dc4255"/>
<rect x="312.01" y="417.24" width="1.20" height="2.23" fill="#dc4255"/>
<rect x="313.95" y="417.36" width="0.70" height="5.36" fill="#dc4255"/>
<rect x="313.70" y="418.88" width="1.20" height="2.16" fill="#dc4255"/>
<rect x="315.64" y="419.38" width="0.70" height="7.38" fill="#138a72"/>
<rect x="315.39" y="420.69" width="1.20" height="3.98" fill="#138a72"/>
<rect x="317.33" y="420.97" width="0.70" height="6.31" fill="#138a72"/>
<rect x="317.08" y="422.76" width="1.20" height="3.19" fill="#138a72"/>
<rect x="319.01" y="422.28" width="0.70" height="4.14" fill="#138a72"/>
<rect x="318.76" y="423.29" width="1.20" height="1.87" fill="#138a72"/>
<rect x="320.70" y="423.40" width="0.70" height="2.45" fill="#dc4255"/>
<rect x="320.45" y="424.00" width="1.20" height="1.62" fill="#dc4255"/>
<rect x="322.39" y="424.25" width="0.70" height="2.35" fill="#dc4255"/>
<rect x="322.14" y="424.95" width="1.20" height="1.09" fill="#dc4255"/>
<rect x="324.08" y="424.94" width="0.70" height="2.43" fill="#dc4255"/>
<rect x="323.83" y="425.50" width="1.20" height="1.34" fill="#dc4255"/>
<rect x="325.77" y="424.15" width="0.70" height="2.80" fill="#138a72"/>
<rect x="325.52" y="425.05" width="1.20" height="1.51" fill="#138a72"/>
<rect x="327.46" y="423.35" width="0.70" height="3.09" fill="#138a72"/>
<rect x="327.21" y="423.69" width="1.20" height="2.06" fill="#138a72"/>
<rect x="329.15" y="422.53" width="0.70" height="3.04" fill="#138a72"/>
<rect x="328.90" y="423.37" width="1.20" height="2.04" fill="#138a72"/>
<rect x="330.84" y="422.28" width="0.70" height="2.87" fill="#138a72"/>
<rect x="330.59" y="423.11" width="1.20" height="1.78" fill="#138a72"/>
<rect x="332.53" y="423.07" width="0.70" height="2.50" fill="#dc4255"/>
<rect x="332.28" y="423.92" width="1.20" height="1.13" fill="#dc4255"/>
<rect x="334.22" y="423.87" width="0.70" height="2.32" fill="#dc4255"/>
<rect x="333.97" y="424.40" width="1.20" height="1.32" fill="#dc4255"/>
<rect x="335.90" y="424.69" width="0.70" height="2.38" fill="#dc4255"/>
<rect x="335.65" y="424.88" width="1.20" height="2.05" fill="#dc4255"/>
<rect x="337.59" y="425.27" width="0.70" height="2.40" fill="#dc4255"/>
<rect x="337.34" y="425.64" width="1.20" height="1.82" fill="#dc4255"/>
<rect x="339.28" y="425.71" width="0.70" height="2.40" fill="#dc4255"/>
<rect x="339.03" y="425.88" width="1.20" height="1.71" fill="#dc4255"/>
<rect x="340.97" y="426.13" width="0.70" height="2.40" fill="#dc4255"/>
<rect x="340.72" y="426.63" width="1.20" height="1.62" fill="#dc4255"/>
<rect x="342.66" y="426.55" width="0.70" height="2.40" fill="#dc4255"/>
<rect x="342.41" y="427.09" width="1.20" height="1.49" fill="#dc4255"/>
<rect x="344.35" y="426.98" width="0.70" height="2.73" fill="#dc4255"/>
<rect x="344.10" y="427.88" width="1.20" height="1.13" fill="#dc4255"/>
<rect x="346.04" y="427.40" width="0.70" height="3.10" fill="#dc4255"/>
<rect x="345.79" y="427.97" width="1.20" height="1.93" fill="#dc4255"/>
<rect x="347.73" y="426.10" width="0.70" height="3.97" fill="#138a72"/>
<rect x="347.48" y="426.62" width="1.20" height="2.27" fill="#138a72"/>
<rect x="349.42" y="425.21" width="0.70" height="4.56" fill="#138a72"/>
<rect x="349.17" y="426.10" width="1.20" height="3.45" fill="#138a72"/>
<rect x="351.11" y="426.51" width="0.70" height="3.69" fill="#dc4255"/>
<rect x="350.86" y="427.46" width="1.20" height="2.51" fill="#dc4255"/>
<rect x="352.79" y="427.54" width="0.70" height="2.96" fill="#dc4255"/>
<rect x="352.54" y="428.00" width="1.20" height="1.81" fill="#dc4255"/>
<rect x="354.48" y="427.96" width="0.70" height="2.54" fill="#dc4255"/>
<rect x="354.23" y="428.61" width="1.20" height="1.43" fill="#dc4255"/>
<rect x="356.17" y="428.03" width="0.70" height="2.06" fill="#dc4255"/>
<rect x="355.92" y="428.29" width="1.20" height="1.16" fill="#dc4255"/>
<rect x="357.86" y="427.70" width="0.70" height="1.65" fill="#138a72"/>
<rect x="357.61" y="428.13" width="1.20" height="1.04" fill="#138a72"/>
<rect x="359.55" y="427.70" width="0.70" height="1.89" fill="#138a72"/>
<rect x="359.30" y="428.16" width="1.20" height="1.00" fill="#138a72"/>
<rect x="361.24" y="427.70" width="0.70" height="2.14" fill="#dc4255"/>
<rect x="360.99" y="428.03" width="1.20" height="1.11" fill="#dc4255"/>
<rect x="362.93" y="427.90" width="0.70" height="2.30" fill="#dc4255"/>
<rect x="362.68" y="428.37" width="1.20" height="1.50" fill="#dc4255"/>
<rect x="364.62" y="428.47" width="0.70" height="2.30" fill="#dc4255"/>
<rect x="364.37" y="429.15" width="1.20" height="1.00" fill="#dc4255"/>
<rect x="366.31" y="429.05" width="0.70" height="2.30" fill="#dc4255"/>
<rect x="366.06" y="429.44" width="1.20" height="1.48" fill="#dc4255"/>
<rect x="368.00" y="429.51" width="0.70" height="2.09" fill="#dc4255"/>
<rect x="367.75" y="430.04" width="1.20" height="1.44" fill="#dc4255"/>
<rect x="369.68" y="429.88" width="0.70" height="1.72" fill="#dc4255"/>
<rect x="369.43" y="430.11" width="1.20" height="1.22" fill="#dc4255"/>
<rect x="371.37" y="429.64" width="0.70" height="1.79" fill="#dc4255"/>
<rect x="371.12" y="430.02" width="1.20" height="1.00" fill="#dc4255"/>
<rect x="373.06" y="429.10" width="0.70" height="2.08" fill="#138a72"/>
<rect x="372.81" y="429.57" width="1.20" height="1.00" fill="#138a72"/>
<rect x="374.75" y="428.56" width="0.70" height="2.37" fill="#138a72"/>
<rect x="374.50" y="428.93" width="1.20" height="1.20" fill="#138a72"/>
<rect x="376.44" y="428.25" width="0.70" height="2.37" fill="#138a72"/>
<rect x="376.19" y="428.55" width="1.20" height="1.96" fill="#138a72"/>
<rect x="378.13" y="427.96" width="0.70" height="2.33" fill="#138a72"/>
<rect x="377.88" y="428.12" width="1.20" height="2.06" fill="#138a72"/>
<rect x="379.82" y="427.70" width="0.70" height="2.30" fill="#138a72"/>
<rect x="379.57" y="428.36" width="1.20" height="1.22" fill="#138a72"/>
<rect x="381.51" y="427.70" width="0.70" height="2.30" fill="#dc4255"/>
<rect x="381.26" y="427.84" width="1.20" height="1.46" fill="#dc4255"/>
<rect x="383.20" y="427.90" width="0.70" height="2.31" fill="#dc4255"/>
<rect x="382.95" y="428.21" width="1.20" height="1.58" fill="#dc4255"/>
<rect x="384.89" y="428.87" width="0.70" height="2.35" fill="#dc4255"/>
<rect x="384.64" y="429.14" width="1.20" height="1.95" fill="#dc4255"/>
<rect x="386.57" y="429.84" width="0.70" height="2.39" fill="#dc4255"/>
<rect x="386.32" y="429.98" width="1.20" height="1.68" fill="#dc4255"/>
<rect x="388.26" y="430.60" width="0.70" height="2.10" fill="#dc4255"/>
<rect x="388.01" y="430.79" width="1.20" height="1.63" fill="#dc4255"/>
<rect x="389.95" y="431.31" width="0.70" height="1.75" fill="#dc4255"/>
<rect x="389.70" y="431.67" width="1.20" height="1.00" fill="#dc4255"/>
<rect x="391.64" y="431.80" width="0.70" height="1.60" fill="#dc4255"/>
<rect x="391.39" y="431.95" width="1.20" height="1.32" fill="#dc4255"/>
<rect x="393.33" y="432.14" width="0.70" height="1.60" fill="#dc4255"/>
<rect x="393.08" y="432.37" width="1.20" height="1.00" fill="#dc4255"/>
<rect x="395.02" y="432.40" width="0.70" height="1.84" fill="#dc4255"/>
<rect x="394.77" y="432.50" width="1.20" height="1.33" fill="#dc4255"/>
<rect x="396.71" y="432.40" width="0.70" height="2.92" fill="#dc4255"/>
<rect x="396.46" y="432.82" width="1.20" height="1.57" fill="#dc4255"/>
<rect x="398.40" y="433.04" width="0.70" height="3.20" fill="#dc4255"/>
<rect x="398.15" y="433.85" width="1.20" height="1.96" fill="#dc4255"/>
<rect x="400.09" y="433.92" width="0.70" height="3.20" fill="#dc4255"/>
<rect x="399.84" y="434.28" width="1.20" height="2.22" fill="#dc4255"/>
<rect x="401.78" y="434.61" width="0.70" height="2.89" fill="#dc4255"/>
<rect x="401.53" y="435.32" width="1.20" height="1.23" fill="#dc4255"/>
<rect x="403.46" y="435.29" width="0.70" height="2.56" fill="#dc4255"/>
<rect x="403.21" y="435.71" width="1.20" height="1.79" fill="#dc4255"/>
<rect x="405.15" y="435.37" width="0.70" height="2.85" fill="#dc4255"/>
<rect x="404.90" y="435.85" width="1.20" height="1.64" fill="#dc4255"/>
<rect x="406.84" y="434.95" width="0.70" height="3.70" fill="#138a72"/>
<rect x="406.59" y="435.99" width="1.20" height="1.87" fill="#138a72"/>
<rect x="408.53" y="435.07" width="0.70" height="3.46" fill="#138a72"/>
<rect x="408.28" y="435.80" width="1.20" height="1.74" fill="#138a72"/>
<rect x="410.22" y="435.49" width="0.70" height="2.61" fill="#138a72"/>
<rect x="409.97" y="435.98" width="1.20" height="1.92" fill="#138a72"/>
<rect x="411.91" y="435.34" width="0.70" height="2.66" fill="#138a72"/>
<rect x="411.66" y="436.11" width="1.20" height="1.04" fill="#138a72"/>
<rect x="413.60" y="435.00" width="0.70" height="3.00" fill="#dc4255"/>
<rect x="413.35" y="435.52" width="1.20" height="2.27" fill="#dc4255"/>
<rect x="415.29" y="434.67" width="0.70" height="3.07" fill="#dc4255"/>
<rect x="415.04" y="435.27" width="1.20" height="1.83" fill="#dc4255"/>
<rect x="416.98" y="434.39" width="0.70" height="2.79" fill="#138a72"/>
<rect x="416.73" y="435.25" width="1.20" height="1.67" fill="#138a72"/>
<rect x="418.67" y="434.10" width="0.70" height="2.50" fill="#138a72"/>
<rect x="418.42" y="434.37" width="1.20" height="1.38" fill="#138a72"/>
<rect x="420.35" y="434.00" width="0.70" height="2.40" fill="#138a72"/>
<rect x="420.10" y="434.57" width="1.20" height="1.26" fill="#138a72"/>
<rect x="422.04" y="434.00" width="0.70" height="2.40" fill="#138a72"/>
<rect x="421.79" y="434.20" width="1.20" height="1.64" fill="#138a72"/>
<rect x="423.73" y="434.10" width="0.70" height="2.40" fill="#138a72"/>
<rect x="423.48" y="434.46" width="1.20" height="1.55" fill="#138a72"/>
<rect x="425.42" y="434.45" width="0.70" height="2.40" fill="#dc4255"/>
<rect x="425.17" y="434.65" width="1.20" height="1.82" fill="#dc4255"/>
<rect x="427.11" y="434.79" width="0.70" height="2.40" fill="#dc4255"/>
<rect x="426.86" y="435.55" width="1.20" height="1.45" fill="#dc4255"/>
<rect x="428.80" y="434.47" width="0.70" height="2.40" fill="#dc4255"/>
<rect x="428.55" y="434.74" width="1.20" height="2.03" fill="#dc4255"/>
<rect x="430.49" y="434.13" width="0.70" height="2.40" fill="#138a72"/>
<rect x="430.24" y="434.31" width="1.20" height="1.56" fill="#138a72"/>
<rect x="432.18" y="433.58" width="0.70" height="2.61" fill="#138a72"/>
<rect x="431.93" y="434.15" width="1.20" height="1.19" fill="#138a72"/>
<rect x="433.87" y="432.89" width="0.70" height="2.96" fill="#138a72"/>
<rect x="433.62" y="433.16" width="1.20" height="1.75" fill="#138a72"/>
<rect x="435.56" y="432.65" width="0.70" height="2.95" fill="#138a72"/>
<rect x="435.31" y="433.04" width="1.20" height="2.38" fill="#138a72"/>
<rect x="437.24" y="433.50" width="0.70" height="2.10" fill="#dc4255"/>
<rect x="436.99" y="433.66" width="1.20" height="1.51" fill="#dc4255"/>
<rect x="438.93" y="434.00" width="0.70" height="1.60" fill="#dc4255"/>
<rect x="438.68" y="434.16" width="1.20" height="1.14" fill="#dc4255"/>
<rect x="440.62" y="434.00" width="0.70" height="1.60" fill="#dc4255"/>
<rect x="440.37" y="434.23" width="1.20" height="1.00" fill="#dc4255"/>
<rect x="442.31" y="434.00" width="0.70" height="1.60" fill="#dc4255"/>
<rect x="442.06" y="434.29" width="1.20" height="1.00" fill="#dc4255"/>
<rect x="513.65" y="330.80" width="0.70" height="7.80" fill="#dc4255"/>
<rect x="513.40" y="332.39" width="1.20" height="5.35" fill="#dc4255"/>
<rect x="515.53" y="334.46" width="0.70" height="4.14" fill="#138a72"/>
<rect x="515.28" y="335.71" width="1.20" height="2.67" fill="#138a72"/>
<rect x="517.41" y="334.70" width="0.70" height="5.75" fill="#dc4255"/>
<rect x="517.16" y="335.55" width="1.20" height="4.55" fill="#dc4255"/>
<rect x="519.29" y="336.53" width="0.70" height="5.81" fill="#dc4255"/>
<rect x="519.04" y="338.08" width="1.20" height="2.43" fill="#dc4255"/>
<rect x="521.17" y="334.98" width="0.70" height="5.89" fill="#138a72"/>
<rect x="520.92" y="336.45" width="1.20" height="3.68" fill="#138a72"/>
<rect x="523.04" y="333.10" width="0.70" height="5.90" fill="#138a72"/>
<rect x="522.79" y="334.57" width="1.20" height="4.12" fill="#138a72"/>
<rect x="524.92" y="334.25" width="0.70" height="4.35" fill="#dc4255"/>
<rect x="524.67" y="334.72" width="1.20" height="2.55" fill="#dc4255"/>
<rect x="526.80" y="334.70" width="0.70" height="3.90" fill="#138a72"/>
<rect x="526.55" y="335.67" width="1.20" height="1.98" fill="#138a72"/>
<rect x="528.68" y="333.30" width="0.70" height="3.97" fill="#138a72"/>
<rect x="528.43" y="334.39" width="1.20" height="1.96" fill="#138a72"/>
<rect x="530.56" y="325.03" width="0.70" height="11.67" fill="#138a72"/>
<rect x="530.31" y="325.90" width="1.20" height="8.37" fill="#138a72"/>
<rect x="532.44" y="318.62" width="0.70" height="12.31" fill="#138a72"/>
<rect x="532.19" y="321.67" width="1.20" height="7.41" fill="#138a72"/>
<rect x="534.32" y="314.75" width="0.70" height="8.87" fill="#138a72"/>
<rect x="534.07" y="315.89" width="1.20" height="6.87" fill="#138a72"/>
<rect x="536.20" y="308.81" width="0.70" height="11.14" fill="#138a72"/>
<rect x="535.95" y="311.36" width="1.20" height="7.03" fill="#138a72"/>
<rect x="538.08" y="298.74" width="0.70" height="15.62" fill="#138a72"/>
<rect x="537.83" y="301.17" width="1.20" height="9.43" fill="#138a72"/>
<rect x="539.96" y="286.49" width="0.70" height="15.08" fill="#138a72"/>
<rect x="539.71" y="287.44" width="1.20" height="11.66" fill="#138a72"/>
<rect x="541.83" y="268.00" width="0.70" height="24.25" fill="#138a72"/>
<rect x="541.58" y="281.43" width="1.20" height="8.43" fill="#138a72"/>
<rect x="543.71" y="283.56" width="0.70" height="13.13" fill="#dc4255"/>
<rect x="543.46" y="285.71" width="1.20" height="9.30" fill="#dc4255"/>
<rect x="545.59" y="288.25" width="0.70" height="15.05" fill="#dc4255"/>
<rect x="545.34" y="289.20" width="1.20" height="11.04" fill="#dc4255"/>
<rect x="547.47" y="290.84" width="0.70" height="12.46" fill="#138a72"/>
<rect x="547.22" y="293.01" width="1.20" height="7.66" fill="#138a72"/>
<rect x="549.35" y="285.97" width="0.70" height="11.80" fill="#138a72"/>
<rect x="549.10" y="286.69" width="1.20" height="8.42" fill="#138a72"/>
<rect x="551.23" y="282.25" width="0.70" height="14.49" fill="#dc4255"/>
<rect x="550.98" y="285.50" width="1.20" height="9.18" fill="#dc4255"/>
<rect x="553.11" y="290.29" width="0.70" height="8.31" fill="#dc4255"/>
<rect x="552.86" y="292.95" width="1.20" height="2.85" fill="#dc4255"/>
<rect x="554.99" y="296.21" width="0.70" height="5.49" fill="#dc4255"/>
<rect x="554.74" y="297.19" width="1.20" height="4.12" fill="#dc4255"/>
<rect x="556.87" y="297.82" width="0.70" height="8.01" fill="#dc4255"/>
<rect x="556.62" y="300.43" width="1.20" height="3.47" fill="#dc4255"/>
<rect x="558.75" y="301.57" width="0.70" height="9.81" fill="#dc4255"/>
<rect x="558.50" y="304.65" width="1.20" height="3.74" fill="#dc4255"/>
<rect x="560.62" y="306.93" width="0.70" height="11.97" fill="#dc4255"/>
<rect x="560.38" y="308.91" width="1.20" height="6.68" fill="#dc4255"/>
<rect x="562.50" y="314.42" width="0.70" height="8.29" fill="#dc4255"/>
<rect x="562.25" y="315.10" width="1.20" height="5.70" fill="#dc4255"/>
<rect x="564.38" y="318.47" width="0.70" height="11.29" fill="#dc4255"/>
<rect x="564.13" y="321.56" width="1.20" height="7.25" fill="#dc4255"/>
<rect x="566.26" y="320.07" width="0.70" height="9.65" fill="#dc4255"/>
<rect x="566.01" y="322.45" width="1.20" height="6.19" fill="#dc4255"/>
<rect x="568.14" y="320.51" width="0.70" height="7.36" fill="#dc4255"/>
<rect x="567.89" y="320.99" width="1.20" height="5.27" fill="#dc4255"/>
<rect x="570.02" y="319.00" width="0.70" height="6.26" fill="#138a72"/>
<rect x="569.77" y="320.18" width="1.20" height="3.47" fill="#138a72"/>
<rect x="571.90" y="319.00" width="0.70" height="7.55" fill="#dc4255"/>
<rect x="571.65" y="320.84" width="1.20" height="4.47" fill="#dc4255"/>
<rect x="573.78" y="313.83" width="0.70" height="10.59" fill="#138a72"/>
<rect x="573.53" y="316.54" width="1.20" height="6.12" fill="#138a72"/>
<rect x="575.66" y="305.15" width="0.70" height="11.82" fill="#138a72"/>
<rect x="575.41" y="307.21" width="1.20" height="6.30" fill="#138a72"/>
<rect x="577.54" y="300.21" width="0.70" height="10.61" fill="#dc4255"/>
<rect x="577.29" y="300.97" width="1.20" height="8.20" fill="#dc4255"/>
<rect x="579.41" y="300.63" width="0.70" height="8.37" fill="#dc4255"/>
<rect x="579.16" y="301.29" width="1.20" height="7.28" fill="#dc4255"/>
<rect x="581.29" y="303.22" width="0.70" height="5.78" fill="#138a72"/>
<rect x="581.04" y="305.06" width="1.20" height="3.66" fill="#138a72"/>
<rect x="583.17" y="299.71" width="0.70" height="9.29" fill="#138a72"/>
<rect x="582.92" y="301.90" width="1.20" height="6.04" fill="#138a72"/>
<rect x="585.05" y="295.40" width="0.70" height="14.60" fill="#138a72"/>
<rect x="584.80" y="300.52" width="1.20" height="5.13" fill="#138a72"/>
<rect x="586.93" y="300.06" width="0.70" height="11.63" fill="#dc4255"/>
<rect x="586.68" y="301.47" width="1.20" height="9.14" fill="#dc4255"/>
<rect x="588.81" y="305.73" width="0.70" height="7.86" fill="#dc4255"/>
<rect x="588.56" y="306.77" width="1.20" height="6.19" fill="#dc4255"/>
<rect x="590.69" y="308.08" width="0.70" height="19.59" fill="#dc4255"/>
<rect x="590.44" y="312.97" width="1.20" height="13.01" fill="#dc4255"/>
<rect x="592.57" y="309.00" width="0.70" height="112.00" fill="#dc4255"/>
<rect x="592.32" y="321.24" width="1.20" height="31.86" fill="#dc4255"/>
<rect x="594.45" y="339.78" width="0.70" height="21.33" fill="#dc4255"/>
<rect x="594.20" y="346.32" width="1.20" height="11.00" fill="#dc4255"/>
<rect x="596.33" y="338.34" width="0.70" height="16.33" fill="#138a72"/>
<rect x="596.08" y="341.15" width="1.20" height="12.45" fill="#138a72"/>
<rect x="598.21" y="336.80" width="0.70" height="8.09" fill="#138a72"/>
<rect x="597.96" y="339.29" width="1.20" height="3.61" fill="#138a72"/>
<rect x="600.08" y="338.16" width="0.70" height="11.56" fill="#dc4255"/>
<rect x="599.83" y="339.35" width="1.20" height="7.40" fill="#dc4255"/>
<rect x="601.96" y="346.32" width="0.70" height="10.22" fill="#dc4255"/>
<rect x="601.71" y="348.38" width="1.20" height="7.18" fill="#dc4255"/>
<rect x="603.84" y="350.01" width="0.70" height="12.72" fill="#dc4255"/>
<rect x="603.59" y="352.32" width="1.20" height="6.31" fill="#dc4255"/>
<rect x="605.72" y="352.34" width="0.70" height="10.88" fill="#dc4255"/>
<rect x="605.47" y="355.85" width="1.20" height="5.29" fill="#dc4255"/>
<rect x="607.60" y="353.50" width="0.70" height="5.93" fill="#138a72"/>
<rect x="607.35" y="354.60" width="1.20" height="3.31" fill="#138a72"/>
<rect x="609.48" y="349.68" width="0.70" height="7.16" fill="#138a72"/>
<rect x="609.23" y="350.40" width="1.20" height="6.10" fill="#138a72"/>
<rect x="611.36" y="347.09" width="0.70" height="9.01" fill="#138a72"/>
<rect x="611.11" y="349.69" width="1.20" height="3.75" fill="#138a72"/>
<rect x="613.24" y="345.84" width="0.70" height="11.52" fill="#dc4255"/>
<rect x="612.99" y="349.12" width="1.20" height="6.86" fill="#dc4255"/>
<rect x="615.12" y="347.94" width="0.70" height="8.41" fill="#138a72"/>
<rect x="614.87" y="348.68" width="1.20" height="6.13" fill="#138a72"/>
<rect x="617.00" y="349.18" width="0.70" height="5.90" fill="#138a72"/>
<rect x="616.75" y="349.94" width="1.20" height="4.11" fill="#138a72"/>
<rect x="618.87" y="347.95" width="0.70" height="5.90" fill="#138a72"/>
<rect x="618.62" y="349.32" width="1.20" height="3.46" fill="#138a72"/>
<rect x="620.75" y="345.75" width="0.70" height="6.85" fill="#138a72"/>
<rect x="620.50" y="346.51" width="1.20" height="5.04" fill="#138a72"/>
<rect x="622.63" y="343.80" width="0.70" height="7.80" fill="#138a72"/>
<rect x="622.38" y="346.22" width="1.20" height="4.60" fill="#138a72"/>
<rect x="624.51" y="344.34" width="0.70" height="7.80" fill="#dc4255"/>
<rect x="624.26" y="345.54" width="1.20" height="4.00" fill="#dc4255"/>
<rect x="626.39" y="348.17" width="0.70" height="7.96" fill="#dc4255"/>
<rect x="626.14" y="348.50" width="1.20" height="5.39" fill="#dc4255"/>
<rect x="628.27" y="351.87" width="0.70" height="9.21" fill="#dc4255"/>
<rect x="628.02" y="352.67" width="1.20" height="5.89" fill="#dc4255"/>
<rect x="630.15" y="354.94" width="0.70" height="7.77" fill="#dc4255"/>
<rect x="629.90" y="355.75" width="1.20" height="6.18" fill="#dc4255"/>
<rect x="632.03" y="357.47" width="0.70" height="3.95" fill="#dc4255"/>
<rect x="631.78" y="358.47" width="1.20" height="2.02" fill="#dc4255"/>
<rect x="633.91" y="357.50" width="0.70" height="3.90" fill="#dc4255"/>
<rect x="633.66" y="358.66" width="1.20" height="2.46" fill="#dc4255"/>
<rect x="635.78" y="358.01" width="0.70" height="7.85" fill="#dc4255"/>
<rect x="635.53" y="358.51" width="1.20" height="5.55" fill="#dc4255"/>
<rect x="637.66" y="359.30" width="0.70" height="17.96" fill="#dc4255"/>
<rect x="637.41" y="362.69" width="1.20" height="11.33" fill="#dc4255"/>
<rect x="639.54" y="368.90" width="0.70" height="13.29" fill="#dc4255"/>
<rect x="639.29" y="369.66" width="1.20" height="9.63" fill="#dc4255"/>
<rect x="641.42" y="372.26" width="0.70" height="8.71" fill="#dc4255"/>
<rect x="641.17" y="374.63" width="1.20" height="5.15" fill="#dc4255"/>
<rect x="643.30" y="370.99" width="0.70" height="7.60" fill="#dc4255"/>
<rect x="643.05" y="372.14" width="1.20" height="5.73" fill="#dc4255"/>
<rect x="645.18" y="363.17" width="0.70" height="12.90" fill="#138a72"/>
<rect x="644.93" y="367.47" width="1.20" height="6.75" fill="#138a72"/>
<rect x="647.06" y="361.88" width="0.70" height="7.78" fill="#138a72"/>
<rect x="646.81" y="364.44" width="1.20" height="4.76" fill="#138a72"/>
<rect x="648.94" y="361.40" width="0.70" height="5.90" fill="#138a72"/>
<rect x="648.69" y="362.85" width="1.20" height="3.73" fill="#138a72"/>
<rect x="650.82" y="359.50" width="0.70" height="8.50" fill="#138a72"/>
<rect x="650.57" y="362.10" width="1.20" height="3.33" fill="#138a72"/>
<rect x="652.70" y="361.49" width="0.70" height="7.90" fill="#dc4255"/>
<rect x="652.45" y="363.08" width="1.20" height="5.38" fill="#dc4255"/>
<rect x="654.57" y="365.19" width="0.70" height="7.90" fill="#dc4255"/>
<rect x="654.32" y="366.90" width="1.20" height="5.21" fill="#dc4255"/>
<rect x="656.45" y="368.88" width="0.70" height="7.87" fill="#dc4255"/>
<rect x="656.20" y="369.42" width="1.20" height="6.10" fill="#dc4255"/>
<rect x="658.33" y="372.58" width="0.70" height="7.81" fill="#dc4255"/>
<rect x="658.08" y="374.25" width="1.20" height="4.92" fill="#dc4255"/>
<rect x="660.21" y="374.28" width="0.70" height="5.65" fill="#dc4255"/>
<rect x="659.96" y="374.62" width="1.20" height="4.79" fill="#dc4255"/>
<rect x="662.09" y="375.57" width="0.70" height="4.17" fill="#dc4255"/>
<rect x="661.84" y="376.78" width="1.20" height="2.28" fill="#dc4255"/>
<rect x="663.97" y="376.87" width="0.70" height="5.47" fill="#dc4255"/>
<rect x="663.72" y="378.29" width="1.20" height="3.18" fill="#dc4255"/>
<rect x="665.85" y="377.20" width="0.70" height="6.73" fill="#dc4255"/>
<rect x="665.60" y="379.30" width="1.20" height="3.72" fill="#dc4255"/>
<rect x="667.73" y="377.76" width="0.70" height="8.00" fill="#dc4255"/>
<rect x="667.48" y="378.70" width="1.20" height="5.30" fill="#dc4255"/>
<rect x="669.61" y="381.51" width="0.70" height="9.36" fill="#dc4255"/>
<rect x="669.36" y="384.63" width="1.20" height="3.28" fill="#dc4255"/>
<rect x="671.49" y="386.41" width="0.70" height="9.84" fill="#dc4255"/>
<rect x="671.24" y="387.66" width="1.20" height="6.81" fill="#dc4255"/>
<rect x="673.37" y="388.30" width="0.70" height="8.44" fill="#dc4255"/>
<rect x="673.12" y="390.50" width="1.20" height="3.72" fill="#dc4255"/>
<rect x="675.24" y="387.00" width="0.70" height="5.91" fill="#138a72"/>
<rect x="674.99" y="388.09" width="1.20" height="4.57" fill="#138a72"/>
<rect x="677.12" y="384.50" width="0.70" height="5.96" fill="#138a72"/>
<rect x="676.87" y="385.04" width="1.20" height="3.68" fill="#138a72"/>
<rect x="679.00" y="382.74" width="0.70" height="5.74" fill="#138a72"/>
<rect x="678.75" y="383.43" width="1.20" height="4.59" fill="#138a72"/>
<rect x="680.88" y="382.09" width="0.70" height="5.09" fill="#138a72"/>
<rect x="680.63" y="383.56" width="1.20" height="1.95" fill="#138a72"/>
<rect x="682.76" y="382.54" width="0.70" height="4.46" fill="#dc4255"/>
<rect x="682.51" y="383.13" width="1.20" height="2.57" fill="#dc4255"/>
<rect x="684.64" y="383.34" width="0.70" height="4.00" fill="#dc4255"/>
<rect x="684.39" y="384.15" width="1.20" height="2.18" fill="#dc4255"/>
<rect x="686.52" y="384.63" width="0.70" height="4.00" fill="#dc4255"/>
<rect x="686.27" y="385.96" width="1.20" height="2.10" fill="#dc4255"/>
<rect x="688.40" y="385.90" width="0.70" height="7.50" fill="#dc4255"/>
<rect x="688.15" y="386.89" width="1.20" height="6.16" fill="#dc4255"/>
<rect x="690.28" y="387.24" width="0.70" height="11.10" fill="#138a72"/>
<rect x="690.03" y="391.00" width="1.20" height="4.89" fill="#138a72"/>
<rect x="692.15" y="388.73" width="0.70" height="5.91" fill="#dc4255"/>
<rect x="691.90" y="390.49" width="1.20" height="2.81" fill="#dc4255"/>
<rect x="694.03" y="386.22" width="0.70" height="5.97" fill="#138a72"/>
<rect x="693.78" y="387.35" width="1.20" height="3.63" fill="#138a72"/>
<rect x="695.91" y="385.66" width="0.70" height="6.63" fill="#138a72"/>
<rect x="695.66" y="387.37" width="1.20" height="2.97" fill="#138a72"/>
<rect x="697.79" y="386.96" width="0.70" height="7.86" fill="#dc4255"/>
<rect x="697.54" y="388.61" width="1.20" height="5.01" fill="#dc4255"/>
<rect x="699.67" y="389.43" width="0.70" height="5.47" fill="#dc4255"/>
<rect x="699.42" y="390.92" width="1.20" height="3.29" fill="#dc4255"/>
<rect x="701.55" y="390.03" width="0.70" height="4.38" fill="#dc4255"/>
<rect x="701.30" y="390.82" width="1.20" height="3.05" fill="#dc4255"/>
<rect x="703.43" y="387.44" width="0.70" height="5.68" fill="#138a72"/>
<rect x="703.18" y="388.74" width="1.20" height="3.94" fill="#138a72"/>
<rect x="705.31" y="385.36" width="0.70" height="5.98" fill="#138a72"/>
<rect x="705.06" y="385.81" width="1.20" height="4.37" fill="#138a72"/>
<rect x="707.19" y="387.05" width="0.70" height="5.95" fill="#dc4255"/>
<rect x="706.94" y="388.17" width="1.20" height="3.69" fill="#dc4255"/>
<rect x="709.07" y="389.54" width="0.70" height="5.62" fill="#dc4255"/>
<rect x="708.82" y="390.02" width="1.20" height="4.50" fill="#dc4255"/>
<rect x="710.94" y="391.98" width="0.70" height="4.37" fill="#dc4255"/>
<rect x="710.69" y="392.73" width="1.20" height="2.26" fill="#dc4255"/>
<rect x="712.82" y="393.68" width="0.70" height="3.12" fill="#dc4255"/>
<rect x="712.57" y="394.14" width="1.20" height="1.66" fill="#dc4255"/>
<rect x="714.70" y="394.93" width="0.70" height="1.97" fill="#dc4255"/>
<rect x="714.45" y="395.28" width="1.20" height="1.55" fill="#dc4255"/>
<rect x="716.58" y="396.17" width="0.70" height="4.56" fill="#dc4255"/>
<rect x="716.33" y="396.66" width="1.20" height="3.19" fill="#dc4255"/>
<rect x="718.46" y="397.43" width="0.70" height="5.90" fill="#dc4255"/>
<rect x="718.21" y="398.20" width="1.20" height="4.13" fill="#dc4255"/>
<rect x="720.34" y="398.72" width="0.70" height="5.90" fill="#dc4255"/>
<rect x="720.09" y="400.64" width="1.20" height="3.23" fill="#dc4255"/>
<rect x="722.22" y="400.48" width="0.70" height="7.67" fill="#138a72"/>
<rect x="721.97" y="401.94" width="1.20" height="5.41" fill="#138a72"/>
<rect x="724.10" y="399.62" width="0.70" height="6.76" fill="#138a72"/>
<rect x="723.85" y="401.02" width="1.20" height="4.48" fill="#138a72"/>
<rect x="725.98" y="398.72" width="0.70" height="5.43" fill="#138a72"/>
<rect x="725.73" y="399.51" width="1.20" height="4.26" fill="#138a72"/>
<rect x="727.86" y="398.46" width="0.70" height="4.00" fill="#138a72"/>
<rect x="727.61" y="399.03" width="1.20" height="2.24" fill="#138a72"/>
<rect x="729.74" y="398.64" width="0.70" height="3.44" fill="#138a72"/>
<rect x="729.49" y="399.63" width="1.20" height="2.14" fill="#138a72"/>
<rect x="731.61" y="399.58" width="0.70" height="4.38" fill="#dc4255"/>
<rect x="731.36" y="400.59" width="1.20" height="2.42" fill="#dc4255"/>
<rect x="733.49" y="401.14" width="0.70" height="4.70" fill="#dc4255"/>
<rect x="733.24" y="402.02" width="1.20" height="3.41" fill="#dc4255"/>
<rect x="735.37" y="403.02" width="0.70" height="4.68" fill="#dc4255"/>
<rect x="735.12" y="403.79" width="1.20" height="2.89" fill="#dc4255"/>
<rect x="737.25" y="404.43" width="0.70" height="3.27" fill="#138a72"/>
<rect x="737.00" y="404.95" width="1.20" height="2.62" fill="#138a72"/>
<rect x="739.13" y="405.40" width="0.70" height="2.30" fill="#138a72"/>
<rect x="738.88" y="405.73" width="1.20" height="1.59" fill="#138a72"/>
<rect x="741.01" y="405.40" width="0.70" height="2.30" fill="#dc4255"/>
<rect x="740.76" y="405.79" width="1.20" height="1.63" fill="#dc4255"/>
<rect x="742.89" y="405.40" width="0.70" height="2.30" fill="#dc4255"/>
<rect x="742.64" y="405.57" width="1.20" height="1.77" fill="#dc4255"/>
<rect x="744.77" y="405.40" width="0.70" height="2.30" fill="#138a72"/>
<rect x="744.52" y="405.87" width="1.20" height="1.22" fill="#138a72"/>
<rect x="746.65" y="405.87" width="0.70" height="4.95" fill="#dc4255"/>
<rect x="746.40" y="406.28" width="1.20" height="4.08" fill="#dc4255"/>
<rect x="748.52" y="401.78" width="0.70" height="9.18" fill="#138a72"/>
<rect x="748.27" y="402.58" width="1.20" height="5.86" fill="#138a72"/>
<rect x="750.40" y="391.89" width="0.70" height="12.45" fill="#138a72"/>
<rect x="750.15" y="394.12" width="1.20" height="7.16" fill="#138a72"/>
<rect x="752.28" y="388.05" width="0.70" height="7.31" fill="#138a72"/>
<rect x="752.03" y="389.01" width="1.20" height="5.96" fill="#138a72"/>
<rect x="754.16" y="385.22" width="0.70" height="6.36" fill="#138a72"/>
<rect x="753.91" y="386.24" width="1.20" height="3.48" fill="#138a72"/>
<rect x="756.04" y="384.00" width="0.70" height="5.71" fill="#138a72"/>
<rect x="755.79" y="385.04" width="1.20" height="3.45" fill="#138a72"/>
<rect x="757.92" y="382.60" width="0.70" height="7.40" fill="#dc4255"/>
<rect x="757.67" y="385.07" width="1.20" height="3.93" fill="#dc4255"/>
<rect x="759.80" y="387.48" width="0.70" height="4.69" fill="#dc4255"/>
<rect x="759.55" y="387.75" width="1.20" height="3.79" fill="#dc4255"/>
<rect x="761.68" y="389.81" width="0.70" height="4.62" fill="#dc4255"/>
<rect x="761.43" y="390.94" width="1.20" height="2.20" fill="#dc4255"/>
<rect x="763.56" y="391.85" width="0.70" height="3.92" fill="#dc4255"/>
<rect x="763.31" y="392.04" width="1.20" height="2.76" fill="#dc4255"/>
<rect x="765.44" y="393.65" width="0.70" height="3.10" fill="#dc4255"/>
<rect x="765.19" y="394.14" width="1.20" height="1.85" fill="#dc4255"/>
<rect x="767.31" y="394.13" width="0.70" height="3.10" fill="#dc4255"/>
<rect x="767.06" y="394.79" width="1.20" height="1.74" fill="#dc4255"/>
<rect x="769.19" y="391.90" width="0.70" height="5.32" fill="#dc4255"/>
<rect x="768.94" y="392.89" width="1.20" height="4.01" fill="#dc4255"/>
<rect x="771.07" y="387.30" width="0.70" height="8.77" fill="#138a72"/>
<rect x="770.82" y="389.37" width="1.20" height="4.26" fill="#138a72"/>
<rect x="772.95" y="387.30" width="0.70" height="5.09" fill="#dc4255"/>
<rect x="772.70" y="387.62" width="1.20" height="4.01" fill="#dc4255"/>
<rect x="774.83" y="390.74" width="0.70" height="3.46" fill="#dc4255"/>
<rect x="774.58" y="391.39" width="1.20" height="1.95" fill="#dc4255"/>
<rect x="776.71" y="392.63" width="0.70" height="3.04" fill="#dc4255"/>
<rect x="776.46" y="393.54" width="1.20" height="1.37" fill="#dc4255"/>
<rect x="778.59" y="393.57" width="0.70" height="3.10" fill="#dc4255"/>
<rect x="778.34" y="393.87" width="1.20" height="2.63" fill="#dc4255"/>
<rect x="780.47" y="397.32" width="0.70" height="4.36" fill="#dc4255"/>
<rect x="780.22" y="397.67" width="1.20" height="3.64" fill="#dc4255"/>
<rect x="782.35" y="401.04" width="0.70" height="4.70" fill="#dc4255"/>
<rect x="782.10" y="401.41" width="1.20" height="3.98" fill="#dc4255"/>
<rect x="784.23" y="403.00" width="0.70" height="4.05" fill="#dc4255"/>
<rect x="783.98" y="403.87" width="1.20" height="2.96" fill="#dc4255"/>
<rect x="786.10" y="403.11" width="0.70" height="2.89" fill="#138a72"/>
<rect x="785.85" y="403.34" width="1.20" height="2.32" fill="#138a72"/>
<rect x="787.98" y="403.58" width="0.70" height="2.42" fill="#138a72"/>
<rect x="787.73" y="404.29" width="1.20" height="1.55" fill="#138a72"/>
<rect x="789.86" y="404.32" width="0.70" height="2.49" fill="#138a72"/>
<rect x="789.61" y="405.11" width="1.20" height="1.00" fill="#138a72"/>
<rect x="791.74" y="405.29" width="0.70" height="3.04" fill="#dc4255"/>
<rect x="791.49" y="405.97" width="1.20" height="1.69" fill="#dc4255"/>
<rect x="793.62" y="405.82" width="0.70" height="3.73" fill="#dc4255"/>
<rect x="793.37" y="406.31" width="1.20" height="2.86" fill="#dc4255"/>
<rect x="795.50" y="405.30" width="0.70" height="3.95" fill="#dc4255"/>
<rect x="795.25" y="405.70" width="1.20" height="2.76" fill="#dc4255"/>
<rect x="797.38" y="404.36" width="0.70" height="3.69" fill="#138a72"/>
<rect x="797.13" y="405.19" width="1.20" height="1.67" fill="#138a72"/>
<rect x="799.26" y="403.90" width="0.70" height="3.81" fill="#138a72"/>
<rect x="799.01" y="404.75" width="1.20" height="2.77" fill="#138a72"/>
<rect x="801.14" y="405.93" width="0.70" height="7.22" fill="#dc4255"/>
<rect x="800.89" y="407.40" width="1.20" height="3.51" fill="#dc4255"/>
<rect x="803.02" y="410.96" width="0.70" height="4.81" fill="#dc4255"/>
<rect x="802.77" y="411.56" width="1.20" height="2.58" fill="#dc4255"/>
<rect x="804.89" y="412.00" width="0.70" height="16.00" fill="#dc4255"/>
<rect x="804.64" y="413.64" width="1.20" height="5.96" fill="#dc4255"/>
<rect x="806.77" y="416.66" width="0.70" height="6.58" fill="#138a72"/>
<rect x="806.52" y="417.03" width="1.20" height="4.14" fill="#138a72"/>
<rect x="808.65" y="417.00" width="0.70" height="5.32" fill="#138a72"/>
<rect x="808.40" y="418.69" width="1.20" height="2.75" fill="#138a72"/>
<rect x="810.53" y="417.91" width="0.70" height="4.85" fill="#dc4255"/>
<rect x="810.28" y="419.47" width="1.20" height="2.79" fill="#dc4255"/>
<rect x="812.41" y="419.79" width="0.70" height="6.85" fill="#dc4255"/>
<rect x="812.16" y="420.84" width="1.20" height="5.53" fill="#dc4255"/>
<rect x="814.29" y="422.21" width="0.70" height="10.65" fill="#dc4255"/>
<rect x="814.04" y="424.04" width="1.20" height="6.14" fill="#dc4255"/>
<rect x="816.17" y="423.00" width="0.70" height="16.00" fill="#138a72"/>
<rect x="815.92" y="424.64" width="1.20" height="6.35" fill="#138a72"/>
<rect x="818.05" y="424.61" width="0.70" height="4.59" fill="#dc4255"/>
<rect x="817.80" y="425.15" width="1.20" height="2.61" fill="#dc4255"/>
<rect x="819.93" y="425.64" width="0.70" height="3.16" fill="#dc4255"/>
<rect x="819.68" y="425.99" width="1.20" height="2.18" fill="#dc4255"/>
<rect x="821.81" y="426.58" width="0.70" height="3.10" fill="#dc4255"/>
<rect x="821.56" y="427.43" width="1.20" height="1.55" fill="#dc4255"/>
<rect x="823.69" y="427.55" width="0.70" height="3.10" fill="#dc4255"/>
<rect x="823.44" y="428.07" width="1.20" height="2.06" fill="#dc4255"/>
<rect x="825.56" y="428.20" width="0.70" height="3.10" fill="#dc4255"/>
<rect x="825.31" y="428.43" width="1.20" height="2.73" fill="#dc4255"/>
<rect x="827.44" y="428.20" width="0.70" height="3.10" fill="#138a72"/>
<rect x="827.19" y="428.52" width="1.20" height="2.62" fill="#138a72"/>
<rect x="829.32" y="421.78" width="0.70" height="7.94" fill="#138a72"/>
<rect x="829.07" y="422.56" width="1.20" height="4.76" fill="#138a72"/>
<rect x="831.20" y="411.70" width="0.70" height="17.30" fill="#138a72"/>
<rect x="830.95" y="420.26" width="1.20" height="4.82" fill="#138a72"/>
<rect x="833.08" y="420.53" width="0.70" height="4.58" fill="#dc4255"/>
<rect x="832.83" y="422.07" width="1.20" height="2.51" fill="#dc4255"/>
<rect x="834.96" y="422.41" width="0.70" height="3.65" fill="#dc4255"/>
<rect x="834.71" y="422.91" width="1.20" height="2.04" fill="#dc4255"/>
<rect x="836.84" y="423.68" width="0.70" height="2.92" fill="#dc4255"/>
<rect x="836.59" y="424.41" width="1.20" height="1.67" fill="#dc4255"/>
<rect x="838.72" y="424.10" width="0.70" height="2.50" fill="#138a72"/>
<rect x="838.47" y="424.50" width="1.20" height="1.52" fill="#138a72"/>
<rect x="840.60" y="424.57" width="0.70" height="2.40" fill="#138a72"/>
<rect x="840.35" y="425.07" width="1.20" height="1.40" fill="#138a72"/>
<rect x="842.48" y="425.11" width="0.70" height="2.45" fill="#138a72"/>
<rect x="842.23" y="425.74" width="1.20" height="1.02" fill="#138a72"/>
<rect x="844.35" y="426.05" width="0.70" height="2.86" fill="#dc4255"/>
<rect x="844.10" y="426.40" width="1.20" height="1.78" fill="#dc4255"/>
<rect x="846.23" y="426.32" width="0.70" height="3.98" fill="#dc4255"/>
<rect x="845.98" y="426.92" width="1.20" height="3.08" fill="#dc4255"/>
<rect x="848.11" y="426.58" width="0.70" height="4.42" fill="#dc4255"/>
<rect x="847.86" y="427.42" width="1.20" height="2.16" fill="#dc4255"/>
<rect x="849.99" y="426.65" width="0.70" height="4.35" fill="#dc4255"/>
<rect x="849.74" y="427.90" width="1.20" height="2.71" fill="#dc4255"/>
<rect x="851.87" y="420.00" width="0.70" height="11.00" fill="#138a72"/>
<rect x="851.62" y="425.16" width="1.20" height="2.84" fill="#138a72"/>
<rect x="853.75" y="423.99" width="0.70" height="4.17" fill="#138a72"/>
<rect x="853.50" y="424.29" width="1.20" height="3.54" fill="#138a72"/>
<rect x="855.63" y="425.25" width="0.70" height="6.05" fill="#dc4255"/>
<rect x="855.38" y="426.62" width="1.20" height="4.00" fill="#dc4255"/>
<rect x="857.51" y="426.43" width="0.70" height="5.86" fill="#dc4255"/>
<rect x="857.26" y="427.78" width="1.20" height="3.88" fill="#dc4255"/>
<rect x="859.39" y="427.37" width="0.70" height="3.79" fill="#138a72"/>
<rect x="859.14" y="428.53" width="1.20" height="2.05" fill="#138a72"/>
<rect x="861.26" y="426.49" width="0.70" height="4.51" fill="#dc4255"/>
<rect x="861.01" y="426.90" width="1.20" height="2.84" fill="#dc4255"/>
<rect x="863.14" y="421.25" width="0.70" height="9.75" fill="#138a72"/>
<rect x="862.89" y="424.73" width="1.20" height="5.90" fill="#138a72"/>
<rect x="865.02" y="424.65" width="0.70" height="6.35" fill="#dc4255"/>
<rect x="864.77" y="425.83" width="1.20" height="3.81" fill="#dc4255"/>
<rect x="866.90" y="426.56" width="0.70" height="4.44" fill="#dc4255"/>
<rect x="866.65" y="427.19" width="1.20" height="2.68" fill="#dc4255"/>
<rect x="868.78" y="428.59" width="0.70" height="3.06" fill="#dc4255"/>
<rect x="868.53" y="428.89" width="1.20" height="2.14" fill="#dc4255"/>
<rect x="870.66" y="430.10" width="0.70" height="2.40" fill="#dc4255"/>
<rect x="870.41" y="430.73" width="1.20" height="1.01" fill="#dc4255"/>
<rect x="872.54" y="430.57" width="0.70" height="1.93" fill="#dc4255"/>
<rect x="872.29" y="430.97" width="1.20" height="1.00" fill="#dc4255"/>
<rect x="874.42" y="428.49" width="0.70" height="2.99" fill="#138a72"/>
<rect x="874.17" y="428.77" width="1.20" height="2.30" fill="#138a72"/>
<rect x="876.30" y="427.50" width="0.70" height="2.95" fill="#138a72"/>
<rect x="876.05" y="428.20" width="1.20" height="1.45" fill="#138a72"/>
<rect x="878.18" y="426.99" width="0.70" height="3.01" fill="#138a72"/>
<rect x="877.93" y="427.76" width="1.20" height="1.52" fill="#138a72"/>
<rect x="880.05" y="426.14" width="0.70" height="3.65" fill="#138a72"/>
<rect x="879.80" y="427.02" width="1.20" height="1.87" fill="#138a72"/>
<rect x="881.93" y="425.66" width="0.70" height="3.20" fill="#138a72"/>
<rect x="881.68" y="426.36" width="1.20" height="2.28" fill="#138a72"/>
<rect x="883.81" y="425.20" width="0.70" height="3.55" fill="#138a72"/>
<rect x="883.56" y="425.58" width="1.20" height="2.14" fill="#138a72"/>
<rect x="885.69" y="423.96" width="0.70" height="4.27" fill="#138a72"/>
<rect x="885.44" y="424.32" width="1.20" height="3.39" fill="#138a72"/>
<rect x="887.57" y="422.50" width="0.70" height="4.72" fill="#138a72"/>
<rect x="887.32" y="423.19" width="1.20" height="2.85" fill="#138a72"/>
<rect x="889.45" y="421.25" width="0.70" height="5.75" fill="#138a72"/>
<rect x="889.20" y="423.53" width="1.20" height="2.34" fill="#138a72"/>
<rect x="891.33" y="425.33" width="0.70" height="3.54" fill="#dc4255"/>
<rect x="891.08" y="425.84" width="1.20" height="2.87" fill="#dc4255"/>
<rect x="893.21" y="426.75" width="0.70" height="2.60" fill="#dc4255"/>
<rect x="892.96" y="427.62" width="1.20" height="1.55" fill="#dc4255"/>
<rect x="895.09" y="427.30" width="0.70" height="3.17" fill="#dc4255"/>
<rect x="894.84" y="427.78" width="1.20" height="1.90" fill="#dc4255"/>
<rect x="896.97" y="428.03" width="0.70" height="2.97" fill="#dc4255"/>
<rect x="896.72" y="428.72" width="1.20" height="1.39" fill="#dc4255"/>
<rect x="898.84" y="428.31" width="0.70" height="2.52" fill="#dc4255"/>
<rect x="898.59" y="428.69" width="1.20" height="1.38" fill="#dc4255"/>
<rect x="900.72" y="426.43" width="0.70" height="3.64" fill="#138a72"/>
<rect x="900.47" y="427.28" width="1.20" height="1.58" fill="#138a72"/>
<rect x="902.60" y="426.25" width="0.70" height="2.90" fill="#138a72"/>
<rect x="902.35" y="426.49" width="1.20" height="1.81" fill="#138a72"/>
<rect x="904.48" y="426.79" width="0.70" height="2.93" fill="#138a72"/>
<rect x="904.23" y="427.25" width="1.20" height="2.24" fill="#138a72"/>
<rect x="906.36" y="427.73" width="0.70" height="3.27" fill="#dc4255"/>
<rect x="906.11" y="428.59" width="1.20" height="1.36" fill="#dc4255"/>
<rect x="908.24" y="428.67" width="0.70" height="2.33" fill="#dc4255"/>
<rect x="907.99" y="429.17" width="1.20" height="1.73" fill="#dc4255"/>
<rect x="910.12" y="428.35" width="0.70" height="2.65" fill="#138a72"/>
<rect x="909.87" y="428.86" width="1.20" height="1.69" fill="#138a72"/>
<rect x="912.00" y="428.07" width="0.70" height="2.93" fill="#138a72"/>
<rect x="911.75" y="428.56" width="1.20" height="1.81" fill="#138a72"/>
<rect x="913.88" y="428.42" width="0.70" height="2.58" fill="#dc4255"/>
<rect x="913.63" y="429.04" width="1.20" height="1.19" fill="#dc4255"/>
<rect x="915.76" y="428.73" width="0.70" height="2.27" fill="#dc4255"/>
<rect x="915.51" y="429.30" width="1.20" height="1.58" fill="#dc4255"/>
<rect x="917.63" y="428.38" width="0.70" height="2.62" fill="#dc4255"/>
<rect x="917.38" y="428.48" width="1.20" height="2.26" fill="#dc4255"/>
<rect x="919.51" y="428.03" width="0.70" height="2.97" fill="#138a72"/>
<rect x="919.26" y="428.70" width="1.20" height="2.02" fill="#138a72"/>
<rect x="921.39" y="428.33" width="0.70" height="2.67" fill="#138a72"/>
<rect x="921.14" y="428.71" width="1.20" height="1.79" fill="#138a72"/>
<rect x="923.27" y="428.68" width="0.70" height="2.32" fill="#dc4255"/>
<rect x="923.02" y="429.17" width="1.20" height="1.47" fill="#dc4255"/>
<rect x="925.15" y="428.21" width="0.70" height="2.79" fill="#dc4255"/>
<rect x="924.90" y="428.77" width="1.20" height="1.65" fill="#dc4255"/>
<rect x="927.03" y="427.54" width="0.70" height="3.46" fill="#138a72"/>
<rect x="926.78" y="427.84" width="1.20" height="2.21" fill="#138a72"/>
<rect x="928.91" y="427.75" width="0.70" height="3.25" fill="#dc4255"/>
<rect x="928.66" y="428.50" width="1.20" height="1.88" fill="#dc4255"/>
<rect x="930.79" y="427.98" width="0.70" height="2.98" fill="#dc4255"/>
<rect x="930.54" y="428.90" width="1.20" height="1.32" fill="#dc4255"/>
<rect x="932.67" y="427.75" width="0.70" height="2.75" fill="#138a72"/>
<rect x="932.42" y="427.96" width="1.20" height="1.63" fill="#138a72"/>
<rect x="934.55" y="427.51" width="0.70" height="2.51" fill="#138a72"/>
<rect x="934.30" y="428.28" width="1.20" height="1.00" fill="#138a72"/>
<rect x="936.42" y="427.80" width="0.70" height="2.80" fill="#dc4255"/>
<rect x="936.17" y="428.43" width="1.20" height="1.25" fill="#dc4255"/>
<rect x="938.30" y="427.43" width="0.70" height="3.25" fill="#dc4255"/>
<rect x="938.05" y="428.39" width="1.20" height="1.34" fill="#dc4255"/>
<rect x="940.18" y="426.25" width="0.70" height="3.62" fill="#138a72"/>
<rect x="939.93" y="427.06" width="1.20" height="2.30" fill="#138a72"/>
<rect x="942.06" y="426.25" width="0.70" height="3.17" fill="#dc4255"/>
<rect x="941.81" y="427.06" width="1.20" height="1.77" fill="#dc4255"/>
<rect x="943.94" y="425.35" width="0.70" height="3.58" fill="#138a72"/>
<rect x="943.69" y="425.82" width="1.20" height="2.58" fill="#138a72"/>
<rect x="945.82" y="423.83" width="0.70" height="4.34" fill="#138a72"/>
<rect x="945.57" y="424.87" width="1.20" height="2.38" fill="#138a72"/>
<rect x="947.70" y="420.00" width="0.70" height="8.00" fill="#138a72"/>
<rect x="947.45" y="423.57" width="1.20" height="2.99" fill="#138a72"/>
<rect x="949.58" y="425.54" width="0.70" height="3.56" fill="#dc4255"/>
<rect x="949.33" y="426.37" width="1.20" height="1.62" fill="#dc4255"/>
<rect x="951.46" y="427.03" width="0.70" height="2.97" fill="#dc4255"/>
<rect x="951.21" y="427.72" width="1.20" height="1.63" fill="#dc4255"/>
<rect x="953.34" y="427.48" width="0.70" height="2.52" fill="#dc4255"/>
<rect x="953.09" y="428.08" width="1.20" height="1.36" fill="#dc4255"/>
<line x1="6.0" y1="191.00" x2="479.0" y2="191.00" stroke="#8fa89a" stroke-width="0.7" stroke-dasharray="1 1.5" opacity="0.8"/>
<line x1="513.0" y1="185.30" x2="977.0" y2="185.30" stroke="#a0a0a0" stroke-width="0.7" stroke-dasharray="1 1.5" opacity="0.8"/>
<line x1="6.0" y1="435.30" x2="461.0" y2="435.30" stroke="#d49a9a" stroke-width="0.7" stroke-dasharray="1 1.5" opacity="0.8"/>
<line x1="513.0" y1="428.20" x2="976.0" y2="428.20" stroke="#d4a0a0" stroke-width="0.7" stroke-dasharray="1 1.5" opacity="0.8"/>
<text x="33.75" y="237.70" font-size="6.60" fill="#3a3630" text-anchor="middle" font-weight="normal" stroke="#3a3630" stroke-width="0.06">Sep</text>
<text x="89.75" y="237.70" font-size="6.60" fill="#3a3630" text-anchor="middle" font-weight="normal" stroke="#3a3630" stroke-width="0.06">Oct</text>
<text x="148.60" y="237.70" font-size="6.60" fill="#3a3630" text-anchor="middle" font-weight="normal" stroke="#3a3630" stroke-width="0.06">Nov</text>
<text x="199.60" y="237.70" font-size="6.60" fill="#3a3630" text-anchor="middle" font-weight="normal" stroke="#3a3630" stroke-width="0.06">Dec</text>
<text x="255.75" y="237.70" font-size="6.60" fill="#3a3630" text-anchor="middle" font-weight="bold" >2026</text>
<text x="309.40" y="237.70" font-size="6.60" fill="#3a3630" text-anchor="middle" font-weight="normal" stroke="#3a3630" stroke-width="0.06">Feb</text>
<text x="360.20" y="237.70" font-size="6.60" fill="#3a3630" text-anchor="middle" font-weight="normal" stroke="#3a3630" stroke-width="0.06">Mar</text>
<text x="416.70" y="237.70" font-size="6.60" fill="#3a3630" text-anchor="middle" font-weight="normal" stroke="#3a3630" stroke-width="0.06">Apr</text>
<text x="472.20" y="237.70" font-size="6.60" fill="#3a3630" text-anchor="middle" font-weight="normal" stroke="#3a3630" stroke-width="0.06">May</text>
<text x="522.60" y="237.70" font-size="6.60" fill="#3a3630" text-anchor="middle" font-weight="normal" stroke="#3a3630" stroke-width="0.06">Sep</text>
<text x="579.00" y="237.70" font-size="6.60" fill="#3a3630" text-anchor="middle" font-weight="normal" stroke="#3a3630" stroke-width="0.06">Oct</text>
<text x="637.40" y="237.70" font-size="6.60" fill="#3a3630" text-anchor="middle" font-weight="normal" stroke="#3a3630" stroke-width="0.06">Nov</text>
<text x="694.00" y="237.70" font-size="6.60" fill="#3a3630" text-anchor="middle" font-weight="normal" stroke="#3a3630" stroke-width="0.06">Dec</text>
<text x="752.00" y="237.70" font-size="6.60" fill="#3a3630" text-anchor="middle" font-weight="bold" >2026</text>
<text x="810.00" y="237.70" font-size="6.60" fill="#3a3630" text-anchor="middle" font-weight="normal" stroke="#3a3630" stroke-width="0.06">Feb</text>
<text x="862.40" y="237.70" font-size="6.60" fill="#3a3630" text-anchor="middle" font-weight="normal" stroke="#3a3630" stroke-width="0.06">Mar</text>
<text x="920.50" y="237.70" font-size="6.60" fill="#3a3630" text-anchor="middle" font-weight="normal" stroke="#3a3630" stroke-width="0.06">Apr</text>
<text x="50.00" y="467.70" font-size="6.60" fill="#3a3630" text-anchor="middle" font-weight="normal" stroke="#3a3630" stroke-width="0.06">Sep</text>
<text x="100.60" y="467.70" font-size="6.60" fill="#3a3630" text-anchor="middle" font-weight="normal" stroke="#3a3630" stroke-width="0.06">Oct</text>
<text x="153.00" y="467.70" font-size="6.60" fill="#3a3630" text-anchor="middle" font-weight="normal" stroke="#3a3630" stroke-width="0.06">Nov</text>
<text x="203.50" y="467.70" font-size="6.60" fill="#3a3630" text-anchor="middle" font-weight="normal" stroke="#3a3630" stroke-width="0.06">Dec</text>
<text x="256.00" y="467.70" font-size="6.60" fill="#3a3630" text-anchor="middle" font-weight="bold" >2026</text>
<text x="308.50" y="467.70" font-size="6.60" fill="#3a3630" text-anchor="middle" font-weight="normal" stroke="#3a3630" stroke-width="0.06">Feb</text>
<text x="356.00" y="467.70" font-size="6.60" fill="#3a3630" text-anchor="middle" font-weight="normal" stroke="#3a3630" stroke-width="0.06">Mar</text>
<text x="408.00" y="467.70" font-size="6.60" fill="#3a3630" text-anchor="middle" font-weight="normal" stroke="#3a3630" stroke-width="0.06">Apr</text>
<text x="519.00" y="467.70" font-size="6.60" fill="#3a3630" text-anchor="middle" font-weight="normal" stroke="#3a3630" stroke-width="0.06">Sep</text>
<text x="575.00" y="467.70" font-size="6.60" fill="#3a3630" text-anchor="middle" font-weight="normal" stroke="#3a3630" stroke-width="0.06">Oct</text>
<text x="633.50" y="467.70" font-size="6.60" fill="#3a3630" text-anchor="middle" font-weight="normal" stroke="#3a3630" stroke-width="0.06">Nov</text>
<text x="690.00" y="467.70" font-size="6.60" fill="#3a3630" text-anchor="middle" font-weight="normal" stroke="#3a3630" stroke-width="0.06">Dec</text>
<text x="748.00" y="467.70" font-size="6.60" fill="#3a3630" text-anchor="middle" font-weight="bold" >2026</text>
<text x="806.50" y="467.70" font-size="6.60" fill="#3a3630" text-anchor="middle" font-weight="normal" stroke="#3a3630" stroke-width="0.06">Feb</text>
<text x="859.00" y="467.70" font-size="6.60" fill="#3a3630" text-anchor="middle" font-weight="normal" stroke="#3a3630" stroke-width="0.06">Mar</text>
<text x="917.40" y="467.70" font-size="6.60" fill="#3a3630" text-anchor="middle" font-weight="normal" stroke="#3a3630" stroke-width="0.06">Apr</text>
<text x="505.50" y="41.30" font-size="7.00" fill="#3a3630" text-anchor="end" font-weight="normal" stroke="#3a3630" stroke-width="0.18">27.500</text>
<text x="505.50" y="62.40" font-size="7.00" fill="#3a3630" text-anchor="end" font-weight="normal" stroke="#3a3630" stroke-width="0.18">25.000</text>
<text x="505.50" y="83.00" font-size="7.00" fill="#3a3630" text-anchor="end" font-weight="normal" stroke="#3a3630" stroke-width="0.18">22.500</text>
<text x="505.50" y="103.70" font-size="7.00" fill="#3a3630" text-anchor="end" font-weight="normal" stroke="#3a3630" stroke-width="0.18">20.000</text>
<text x="505.50" y="124.70" font-size="7.00" fill="#3a3630" text-anchor="end" font-weight="normal" stroke="#3a3630" stroke-width="0.18">17.500</text>
<text x="505.50" y="145.80" font-size="7.00" fill="#3a3630" text-anchor="end" font-weight="normal" stroke="#3a3630" stroke-width="0.18">15.000</text>
<text x="505.50" y="208.40" font-size="7.00" fill="#3a3630" text-anchor="end" font-weight="normal" stroke="#3a3630" stroke-width="0.18">7.500</text>
<text x="1008.50" y="40.00" font-size="7.00" fill="#3a3630" text-anchor="end" font-weight="normal" stroke="#3a3630" stroke-width="0.18">0.26000</text>
<text x="1008.50" y="58.80" font-size="7.00" fill="#3a3630" text-anchor="end" font-weight="normal" stroke="#3a3630" stroke-width="0.18">0.24000</text>
<text x="1008.50" y="78.50" font-size="7.00" fill="#3a3630" text-anchor="end" font-weight="normal" stroke="#3a3630" stroke-width="0.18">0.22000</text>
<text x="1008.50" y="97.40" font-size="7.00" fill="#3a3630" text-anchor="end" font-weight="normal" stroke="#3a3630" stroke-width="0.18">0.20000</text>
<text x="1008.50" y="116.10" font-size="7.00" fill="#3a3630" text-anchor="end" font-weight="normal" stroke="#3a3630" stroke-width="0.18">0.18000</text>
<text x="1008.50" y="135.10" font-size="7.00" fill="#3a3630" text-anchor="end" font-weight="normal" stroke="#3a3630" stroke-width="0.18">0.16000</text>
<text x="1008.50" y="154.60" font-size="7.00" fill="#3a3630" text-anchor="end" font-weight="normal" stroke="#3a3630" stroke-width="0.18">0.14000</text>
<text x="1008.50" y="173.50" font-size="7.00" fill="#3a3630" text-anchor="end" font-weight="normal" stroke="#3a3630" stroke-width="0.18">0.12000</text>
<text x="1008.50" y="192.50" font-size="7.00" fill="#3a3630" text-anchor="end" font-weight="normal" stroke="#3a3630" stroke-width="0.18">0.10000</text>
<text x="1008.50" y="211.20" font-size="7.00" fill="#3a3630" text-anchor="end" font-weight="normal" stroke="#3a3630" stroke-width="0.18">0.08000</text>
<text x="501.00" y="276.80" font-size="7.00" fill="#3a3630" text-anchor="end" font-weight="normal" stroke="#3a3630" stroke-width="0.18">0.35000000</text>
<text x="501.00" y="304.80" font-size="7.00" fill="#3a3630" text-anchor="end" font-weight="normal" stroke="#3a3630" stroke-width="0.18">0.30000000</text>
<text x="501.00" y="332.20" font-size="7.00" fill="#3a3630" text-anchor="end" font-weight="normal" stroke="#3a3630" stroke-width="0.18">0.25000000</text>
<text x="501.00" y="359.50" font-size="7.00" fill="#3a3630" text-anchor="end" font-weight="normal" stroke="#3a3630" stroke-width="0.18">0.20000000</text>
<text x="501.00" y="386.90" font-size="7.00" fill="#3a3630" text-anchor="end" font-weight="normal" stroke="#3a3630" stroke-width="0.18">0.15000000</text>
<text x="501.00" y="414.40" font-size="7.00" fill="#3a3630" text-anchor="end" font-weight="normal" stroke="#3a3630" stroke-width="0.18">0.10000000</text>
<text x="1008.50" y="275.20" font-size="7.00" fill="#3a3630" text-anchor="end" font-weight="normal" stroke="#3a3630" stroke-width="0.18">0.300000</text>
<text x="1008.50" y="313.40" font-size="7.00" fill="#3a3630" text-anchor="end" font-weight="normal" stroke="#3a3630" stroke-width="0.18">0.250000</text>
<text x="1008.50" y="351.00" font-size="7.00" fill="#3a3630" text-anchor="end" font-weight="normal" stroke="#3a3630" stroke-width="0.18">0.200000</text>
<text x="1008.50" y="389.30" font-size="7.00" fill="#3a3630" text-anchor="end" font-weight="normal" stroke="#3a3630" stroke-width="0.18">0.150000</text>
<text x="1008.50" y="427.10" font-size="7.00" fill="#3a3630" text-anchor="end" font-weight="normal" stroke="#3a3630" stroke-width="0.18">0.100000</text>
<rect x="480.0" y="17.5" width="27.5" height="15.3" fill="#fffdf8" rx="1.5"/>
<rect x="980.9" y="18.5" width="35.4" height="16.0" fill="#fffdf8" rx="1.5"/>
<rect x="462.4" y="248.0" width="45.8" height="15.3" fill="#fffdf8" rx="1.5"/>
<rect x="976.5" y="248.0" width="39.3" height="15.5" fill="#fffdf8" rx="1.5"/>
<text x="486.60" y="28.90" font-size="7.00" fill="#383844" text-anchor="start" font-weight="normal" textLength="12.2" lengthAdjust="spacingAndGlyphs" stroke="#383844" stroke-width="0.15">USD</text>
<text x="985.80" y="28.90" font-size="7.00" fill="#383844" text-anchor="start" font-weight="normal" textLength="12.2" lengthAdjust="spacingAndGlyphs" stroke="#383844" stroke-width="0.15">USD</text>
<text x="467.20" y="258.90" font-size="7.00" fill="#383844" text-anchor="start" font-weight="normal" textLength="12.2" lengthAdjust="spacingAndGlyphs" stroke="#383844" stroke-width="0.15">USD</text>
<text x="983.00" y="258.90" font-size="7.00" fill="#383844" text-anchor="start" font-weight="normal" textLength="12.2" lengthAdjust="spacingAndGlyphs" stroke="#383844" stroke-width="0.15">USD</text>
<rect x="479.6" y="157.0" width="27.9" height="11.0" fill="#3ab0d8" rx="1"/>
<text x="493.55" y="165.00" font-size="7.00" fill="#18384a" text-anchor="middle" font-weight="normal" stroke="#18384a" stroke-width="0.15">12.748</text>
<rect x="479.3" y="175.8" width="24.7" height="10.2" fill="#9c27b0" rx="1"/>
<text x="491.65" y="183.32" font-size="7.00" fill="#ffffff" text-anchor="middle" font-weight="bold" >9.360</text>
<rect x="479.3" y="185.9" width="24.7" height="10.2" fill="#089981" rx="1"/>
<text x="491.65" y="193.50" font-size="7.00" fill="#ffffff" text-anchor="middle" font-weight="bold" >9.247</text>
<rect x="479.3" y="196.1" width="24.7" height="9.3" fill="#505a55" rx="1"/>
<text x="491.65" y="203.25" font-size="7.00" fill="#ffffff" text-anchor="middle" font-weight="bold" >9.019</text>
<rect x="978.9" y="158.0" width="33.0" height="9.3" fill="#38b4e0" rx="1"/>
<text x="995.40" y="165.15" font-size="7.00" fill="#1a3d5c" text-anchor="middle" font-weight="normal" stroke="#1a3d5c" stroke-width="0.15">0.12868</text>
<rect x="978.9" y="170.7" width="33.0" height="9.3" fill="#e51c23" rx="1"/>
<text x="995.40" y="177.85" font-size="7.00" fill="#ffffff" text-anchor="middle" font-weight="normal" >0.10616</text>
<rect x="978.9" y="180.0" width="33.0" height="10.4" fill="#0f9d88" rx="1"/>
<text x="995.40" y="187.70" font-size="7.00" fill="#ffffff" text-anchor="middle" font-weight="normal" >0.10423</text>
<rect x="978.9" y="190.4" width="33.0" height="9.8" fill="#f39420" rx="1"/>
<text x="995.40" y="197.80" font-size="7.00" fill="#ffffff" text-anchor="middle" font-weight="normal" >0.10215</text>
<rect x="460.3" y="430.9" width="44.0" height="9.4" fill="#e53146" rx="1"/>
<text x="482.30" y="438.10" font-size="7.00" fill="#ffffff" text-anchor="middle" font-weight="normal" stroke="#ffffff" stroke-width="0.20">0.05627548</text>
<rect x="974.2" y="423.7" width="37.2" height="8.9" fill="#e53146" rx="1"/>
<text x="992.80" y="430.65" font-size="7.00" fill="#ffffff" text-anchor="middle" font-weight="normal" stroke="#ffffff" stroke-width="0.20">0.095061</text>
<rect x="6.0" y="16.0" width="74.0" height="16.0" fill="#fdf3e1" opacity="0.95"/>
<rect x="513.0" y="16.0" width="84.0" height="16.0" fill="#fdf3e1" opacity="0.95"/>
<rect x="6.0" y="247.5" width="76.0" height="15.5" fill="#fdf3e1" opacity="0.95"/>
<rect x="513.0" y="247.5" width="84.0" height="15.5" fill="#fdf3e1" opacity="0.95"/>
<text x="10.50" y="26.80" font-size="7.00" fill="#3a3630" text-anchor="start" font-weight="normal" textLength="65.6" lengthAdjust="spacingAndGlyphs" stroke="#3a3630" stroke-width="0.25">LINKUSD · 1D · FXCM</text>
<text x="518.30" y="26.80" font-size="7.00" fill="#3a3630" text-anchor="start" font-weight="normal" textLength="76.0" lengthAdjust="spacingAndGlyphs" stroke="#3a3630" stroke-width="0.25">ALGOUSD · 1D · CRYPTO</text>
<text x="10.50" y="257.70" font-size="7.00" fill="#3a3630" text-anchor="start" font-weight="normal" textLength="67.9" lengthAdjust="spacingAndGlyphs" stroke="#3a3630" stroke-width="0.25">SEIUSD · 1D · Binance</text>
<text x="518.10" y="257.70" font-size="7.00" fill="#3a3630" text-anchor="start" font-weight="normal" textLength="76.3" lengthAdjust="spacingAndGlyphs" stroke="#3a3630" stroke-width="0.25">DOGEUSD · 1D · CRYPTO</text>
<rect x="8" y="207.5" width="88" height="16" fill="#fdf5e6" opacity="0.4" rx="1"/>
<path d="M12.2 220.4 C10.6 215.5 11.6 210.5 15.6 209.2 C18.8 208.4 20.4 210.8 19.4 213.8 C18.3 217.2 15.6 219.6 12.2 220.4 Z" fill="#3f9c4c"/>
<path d="M13.6 217.8 C13 214.5 14 211.6 16.2 211 C17.8 210.8 18.2 212.2 17.6 214 C17 216 15.6 217.2 13.6 217.8 Z" fill="#6fd078" opacity="0.8"/>
<text x="20.80" y="219.00" font-size="11.20" fill="#836970" text-anchor="start" font-weight="normal" textLength="74" lengthAdjust="spacingAndGlyphs" stroke="#836970" stroke-width="0.2">Yash_Jain_130</text>
<text x="5.60" y="11.30" font-size="7.00" fill="#444444" text-anchor="start" font-weight="normal" stroke="#444444" stroke-width="0.05">Yash_Jain_1309 created with TradingView.com, Apr 21, 2026 18:57 UTC+5:30</text>
<g transform="translate(7.1 484.8) scale(0.475)" fill="#131722"><path d="M14 22H7V11H0V4h14v18zM28 22h-8l7.5-18h8L28 22z"/><circle cx="20" cy="8" r="4"/></g>
<text x="29.20" y="495.60" font-size="11.90" fill="#131722" text-anchor="start" font-weight="bold" >TradingView</text>
</svg>
</body></html>
